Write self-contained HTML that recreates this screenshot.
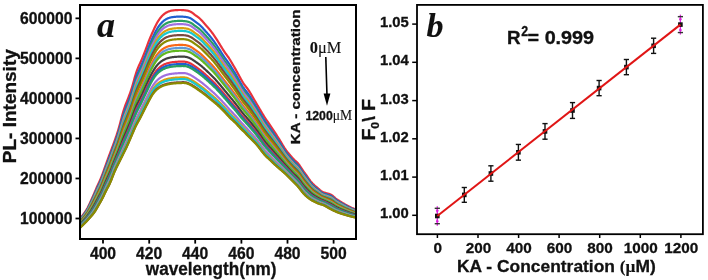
<!DOCTYPE html>
<html><head><meta charset="utf-8"><style>
html,body{margin:0;padding:0;background:#fff;}
body{width:708px;height:280px;overflow:hidden;}
svg{display:block;}
#w{will-change:transform;width:708px;height:280px;}
text{font-family:"Liberation Sans",sans-serif;font-weight:bold;fill:#111;stroke:#111;stroke-width:0.3px;}
.serif{stroke-width:0.1px;}
.tl{font-size:15.7px;}
.tr{font-size:14.8px;}
.tr2{font-size:15.3px;}
.serif{font-family:"Liberation Serif",serif;}
</style></head><body>
<div id="w"><svg width="708" height="280" viewBox="0 0 708 280">
<rect width="708" height="280" fill="#fff"/>
<defs><clipPath id="cl"><rect x="81" y="6" width="274" height="232"/></clipPath></defs>
<g clip-path="url(#cl)" fill="none" stroke-width="2.2" stroke-linejoin="round">
<path d="M79.0,218.80 L79.5,218.33 L80.0,217.86 L80.5,217.39 L81.0,216.92 L81.5,216.45 L82.0,215.94 L82.5,215.40 L83.0,214.81 L83.5,214.17 L84.0,213.50 L84.5,212.80 L85.0,212.07 L85.5,211.32 L86.0,210.55 L86.5,209.75 L87.0,208.92 L87.5,208.04 L88.0,207.10 L88.5,206.12 L89.0,205.08 L89.5,204.01 L90.0,202.90 L90.5,201.77 L91.0,200.64 L91.5,199.51 L92.0,198.39 L92.5,197.27 L93.0,196.14 L93.5,195.01 L94.0,193.86 L94.5,192.69 L95.0,191.50 L95.5,190.31 L96.0,189.12 L96.5,187.95 L97.0,186.80 L97.5,185.69 L98.0,184.60 L98.5,183.54 L99.0,182.49 L99.5,181.42 L100.0,180.32 L100.5,179.17 L101.0,177.96 L101.5,176.71 L102.0,175.39 L102.5,174.04 L103.0,172.67 L103.5,171.27 L104.0,169.87 L104.5,168.46 L105.0,167.06 L105.5,165.66 L106.0,164.26 L106.5,162.87 L107.0,161.48 L107.5,160.09 L108.0,158.72 L108.5,157.36 L109.0,156.00 L109.5,154.66 L110.0,153.32 L110.5,151.98 L111.0,150.64 L111.5,149.30 L112.0,147.96 L112.5,146.61 L113.0,145.27 L113.5,143.92 L114.0,142.56 L114.5,141.18 L115.0,139.80 L115.5,138.39 L116.0,136.95 L116.5,135.48 L117.0,133.96 L117.5,132.40 L118.0,130.78 L118.5,129.10 L119.0,127.35 L119.5,125.55 L120.0,123.69 L120.5,121.80 L121.0,119.90 L121.5,118.01 L122.0,116.15 L122.5,114.34 L123.0,112.59 L123.5,110.92 L124.0,109.33 L124.5,107.82 L125.0,106.37 L125.5,104.99 L126.0,103.66 L126.5,102.36 L127.0,101.09 L127.5,99.83 L128.0,98.58 L128.5,97.31 L129.0,96.02 L129.5,94.69 L130.0,93.32 L130.5,91.89 L131.0,90.40 L131.5,88.83 L132.0,87.20 L132.5,85.50 L133.0,83.75 L133.5,81.97 L134.0,80.18 L134.5,78.40 L135.0,76.66 L135.5,74.98 L136.0,73.37 L136.5,71.86 L137.0,70.44 L137.5,69.11 L138.0,67.86 L138.5,66.68 L139.0,65.55 L139.5,64.45 L140.0,63.36 L140.5,62.27 L141.0,61.17 L141.5,60.04 L142.0,58.89 L142.5,57.71 L143.0,56.50 L143.5,55.27 L144.0,54.01 L144.5,52.72 L145.0,51.42 L145.5,50.09 L146.0,48.75 L146.5,47.39 L147.0,46.02 L147.5,44.66 L148.0,43.31 L148.5,41.99 L149.0,40.69 L149.5,39.43 L150.0,38.20 L150.5,37.00 L151.0,35.84 L151.5,34.69 L152.0,33.56 L152.5,32.44 L153.0,31.33 L153.5,30.22 L154.0,29.13 L154.5,28.04 L155.0,26.98 L155.5,25.94 L156.0,24.94 L156.5,23.97 L157.0,23.05 L157.5,22.17 L158.0,21.34 L158.5,20.54 L159.0,19.80 L159.5,19.08 L160.0,18.41 L160.5,17.77 L161.0,17.16 L161.5,16.59 L162.0,16.04 L162.5,15.52 L163.0,15.03 L163.5,14.58 L164.0,14.15 L164.5,13.76 L165.0,13.40 L165.5,13.06 L166.0,12.76 L166.5,12.47 L167.0,12.21 L167.5,11.96 L168.0,11.74 L168.5,11.54 L169.0,11.36 L169.5,11.19 L170.0,11.04 L170.5,10.91 L171.0,10.79 L171.5,10.69 L172.0,10.59 L172.5,10.50 L173.0,10.43 L173.5,10.36 L174.0,10.30 L174.5,10.25 L175.0,10.20 L175.5,10.16 L176.0,10.13 L176.5,10.10 L177.0,10.07 L177.5,10.05 L178.0,10.03 L178.5,10.02 L179.0,10.01 L179.5,10.00 L180.0,10.00 L180.5,10.01 L181.0,10.02 L181.5,10.04 L182.0,10.06 L182.5,10.09 L183.0,10.12 L183.5,10.16 L184.0,10.20 L184.5,10.25 L185.0,10.30 L185.5,10.36 L186.0,10.43 L186.5,10.50 L187.0,10.59 L187.5,10.69 L188.0,10.80 L188.5,10.93 L189.0,11.07 L189.5,11.25 L190.0,11.45 L190.5,11.68 L191.0,11.95 L191.5,12.26 L192.0,12.59 L192.5,12.95 L193.0,13.34 L193.5,13.73 L194.0,14.12 L194.5,14.51 L195.0,14.90 L195.5,15.27 L196.0,15.63 L196.5,15.99 L197.0,16.35 L197.5,16.71 L198.0,17.08 L198.5,17.46 L199.0,17.85 L199.5,18.27 L200.0,18.72 L200.5,19.19 L201.0,19.68 L201.5,20.21 L202.0,20.75 L202.5,21.31 L203.0,21.89 L203.5,22.47 L204.0,23.06 L204.5,23.64 L205.0,24.22 L205.5,24.80 L206.0,25.37 L206.5,25.93 L207.0,26.50 L207.5,27.07 L208.0,27.64 L208.5,28.22 L209.0,28.81 L209.5,29.41 L210.0,30.02 L210.5,30.64 L211.0,31.28 L211.5,31.93 L212.0,32.59 L212.5,33.26 L213.0,33.95 L213.5,34.64 L214.0,35.36 L214.5,36.08 L215.0,36.82 L215.5,37.57 L216.0,38.33 L216.5,39.11 L217.0,39.89 L217.5,40.69 L218.0,41.49 L218.5,42.30 L219.0,43.11 L219.5,43.92 L220.0,44.74 L220.5,45.55 L221.0,46.36 L221.5,47.18 L222.0,47.99 L222.5,48.79 L223.0,49.58 L223.5,50.36 L224.0,51.13 L224.5,51.88 L225.0,52.60 L225.5,53.31 L226.0,54.00 L226.5,54.68 L227.0,55.36 L227.5,56.04 L228.0,56.74 L228.5,57.46 L229.0,58.21 L229.5,58.99 L230.0,59.79 L230.5,60.62 L231.0,61.46 L231.5,62.31 L232.0,63.16 L232.5,64.01 L233.0,64.86 L233.5,65.70 L234.0,66.56 L234.5,67.41 L235.0,68.28 L235.5,69.16 L236.0,70.05 L236.5,70.95 L237.0,71.86 L237.5,72.77 L238.0,73.69 L238.5,74.61 L239.0,75.53 L239.5,76.44 L240.0,77.36 L240.5,78.27 L241.0,79.18 L241.5,80.08 L242.0,80.96 L242.5,81.81 L243.0,82.63 L243.5,83.41 L244.0,84.14 L244.5,84.83 L245.0,85.49 L245.5,86.13 L246.0,86.75 L246.5,87.38 L247.0,88.02 L247.5,88.68 L248.0,89.37 L248.5,90.10 L249.0,90.86 L249.5,91.65 L250.0,92.47 L250.5,93.31 L251.0,94.16 L251.5,95.03 L252.0,95.90 L252.5,96.76 L253.0,97.63 L253.5,98.49 L254.0,99.34 L254.5,100.20 L255.0,101.05 L255.5,101.90 L256.0,102.74 L256.5,103.59 L257.0,104.44 L257.5,105.29 L258.0,106.14 L258.5,106.99 L259.0,107.85 L259.5,108.70 L260.0,109.56 L260.5,110.42 L261.0,111.27 L261.5,112.12 L262.0,112.96 L262.5,113.79 L263.0,114.61 L263.5,115.41 L264.0,116.21 L264.5,116.99 L265.0,117.76 L265.5,118.52 L266.0,119.27 L266.5,120.01 L267.0,120.75 L267.5,121.49 L268.0,122.22 L268.5,122.96 L269.0,123.70 L269.5,124.43 L270.0,125.17 L270.5,125.91 L271.0,126.65 L271.5,127.39 L272.0,128.13 L272.5,128.88 L273.0,129.62 L273.5,130.37 L274.0,131.12 L274.5,131.88 L275.0,132.64 L275.5,133.41 L276.0,134.18 L276.5,134.95 L277.0,135.73 L277.5,136.51 L278.0,137.30 L278.5,138.09 L279.0,138.89 L279.5,139.70 L280.0,140.51 L280.5,141.34 L281.0,142.17 L281.5,143.02 L282.0,143.87 L282.5,144.71 L283.0,145.56 L283.5,146.38 L284.0,147.19 L284.5,147.97 L285.0,148.73 L285.5,149.45 L286.0,150.15 L286.5,150.82 L287.0,151.47 L287.5,152.10 L288.0,152.71 L288.5,153.31 L289.0,153.91 L289.5,154.50 L290.0,155.08 L290.5,155.66 L291.0,156.23 L291.5,156.80 L292.0,157.37 L292.5,157.92 L293.0,158.46 L293.5,158.99 L294.0,159.50 L294.5,160.00 L295.0,160.47 L295.5,160.94 L296.0,161.39 L296.5,161.85 L297.0,162.32 L297.5,162.82 L298.0,163.36 L298.5,163.95 L299.0,164.58 L299.5,165.27 L300.0,166.00 L300.5,166.76 L301.0,167.52 L301.5,168.30 L302.0,169.06 L302.5,169.82 L303.0,170.56 L303.5,171.29 L304.0,172.01 L304.5,172.71 L305.0,173.40 L305.5,174.09 L306.0,174.77 L306.5,175.46 L307.0,176.16 L307.5,176.87 L308.0,177.59 L308.5,178.30 L309.0,179.02 L309.5,179.72 L310.0,180.41 L310.5,181.07 L311.0,181.70 L311.5,182.29 L312.0,182.86 L312.5,183.40 L313.0,183.92 L313.5,184.42 L314.0,184.89 L314.5,185.35 L315.0,185.79 L315.5,186.22 L316.0,186.64 L316.5,187.05 L317.0,187.46 L317.5,187.87 L318.0,188.29 L318.5,188.72 L319.0,189.15 L319.5,189.59 L320.0,190.02 L320.5,190.43 L321.0,190.82 L321.5,191.17 L322.0,191.49 L322.5,191.78 L323.0,192.03 L323.5,192.25 L324.0,192.45 L324.5,192.62 L325.0,192.78 L325.5,192.92 L326.0,193.06 L326.5,193.19 L327.0,193.32 L327.5,193.45 L328.0,193.59 L328.5,193.74 L329.0,193.90 L329.5,194.07 L330.0,194.26 L330.5,194.48 L331.0,194.73 L331.5,195.01 L332.0,195.34 L332.5,195.70 L333.0,196.11 L333.5,196.54 L334.0,196.99 L334.5,197.44 L335.0,197.88 L335.5,198.30 L336.0,198.70 L336.5,199.07 L337.0,199.43 L337.5,199.76 L338.0,200.09 L338.5,200.41 L339.0,200.73 L339.5,201.04 L340.0,201.35 L340.5,201.65 L341.0,201.96 L341.5,202.26 L342.0,202.57 L342.5,202.87 L343.0,203.16 L343.5,203.46 L344.0,203.75 L344.5,204.04 L345.0,204.33 L345.5,204.61 L346.0,204.89 L346.5,205.17 L347.0,205.45 L347.5,205.72 L348.0,205.99 L348.5,206.25 L349.0,206.51 L349.5,206.76 L350.0,207.01 L350.5,207.25 L351.0,207.48 L351.5,207.72 L352.0,207.94 L352.5,208.16 L353.0,208.38 L353.5,208.60 L354.0,208.81 L354.5,209.01 L355.0,209.21 L355.5,209.40 L356.0,209.58 L356.5,209.75 L357.0,209.89" stroke="#e8323a"/>
<path d="M79.0,219.69 L79.5,219.23 L80.0,218.76 L80.5,218.29 L81.0,217.83 L81.5,217.35 L82.0,216.85 L82.5,216.31 L83.0,215.73 L83.5,215.10 L84.0,214.44 L84.5,213.76 L85.0,213.05 L85.5,212.33 L86.0,211.58 L86.5,210.81 L87.0,210.00 L87.5,209.15 L88.0,208.25 L88.5,207.31 L89.0,206.31 L89.5,205.28 L90.0,204.22 L90.5,203.15 L91.0,202.07 L91.5,200.99 L92.0,199.92 L92.5,198.84 L93.0,197.77 L93.5,196.67 L94.0,195.57 L94.5,194.44 L95.0,193.29 L95.5,192.14 L96.0,190.98 L96.5,189.84 L97.0,188.72 L97.5,187.63 L98.0,186.57 L98.5,185.52 L99.0,184.48 L99.5,183.43 L100.0,182.35 L100.5,181.23 L101.0,180.05 L101.5,178.83 L102.0,177.55 L102.5,176.24 L103.0,174.89 L103.5,173.53 L104.0,172.16 L104.5,170.79 L105.0,169.41 L105.5,168.04 L106.0,166.67 L106.5,165.32 L107.0,163.97 L107.5,162.63 L108.0,161.29 L108.5,159.97 L109.0,158.65 L109.5,157.33 L110.0,156.01 L110.5,154.69 L111.0,153.36 L111.5,152.03 L112.0,150.70 L112.5,149.36 L113.0,148.01 L113.5,146.67 L114.0,145.32 L114.5,143.96 L115.0,142.60 L115.5,141.22 L116.0,139.81 L116.5,138.38 L117.0,136.91 L117.5,135.40 L118.0,133.83 L118.5,132.21 L119.0,130.54 L119.5,128.80 L120.0,127.03 L120.5,125.22 L121.0,123.40 L121.5,121.59 L122.0,119.80 L122.5,118.07 L123.0,116.39 L123.5,114.78 L124.0,113.24 L124.5,111.78 L125.0,110.37 L125.5,109.02 L126.0,107.72 L126.5,106.44 L127.0,105.19 L127.5,103.94 L128.0,102.70 L128.5,101.44 L129.0,100.16 L129.5,98.85 L130.0,97.50 L130.5,96.09 L131.0,94.63 L131.5,93.10 L132.0,91.50 L132.5,89.85 L133.0,88.16 L133.5,86.43 L134.0,84.70 L134.5,82.98 L135.0,81.29 L135.5,79.67 L136.0,78.12 L136.5,76.65 L137.0,75.27 L137.5,73.98 L138.0,72.76 L138.5,71.61 L139.0,70.50 L139.5,69.41 L140.0,68.34 L140.5,67.27 L141.0,66.18 L141.5,65.06 L142.0,63.92 L142.5,62.76 L143.0,61.57 L143.5,60.36 L144.0,59.12 L144.5,57.86 L145.0,56.59 L145.5,55.29 L146.0,53.98 L146.5,52.65 L147.0,51.32 L147.5,49.99 L148.0,48.68 L148.5,47.39 L149.0,46.12 L149.5,44.89 L150.0,43.69 L150.5,42.52 L151.0,41.38 L151.5,40.26 L152.0,39.16 L152.5,38.07 L153.0,36.99 L153.5,35.92 L154.0,34.87 L154.5,33.82 L155.0,32.80 L155.5,31.81 L156.0,30.85 L156.5,29.93 L157.0,29.05 L157.5,28.21 L158.0,27.42 L158.5,26.67 L159.0,25.96 L159.5,25.28 L160.0,24.64 L160.5,24.03 L161.0,23.46 L161.5,22.91 L162.0,22.39 L162.5,21.90 L163.0,21.44 L163.5,21.00 L164.0,20.60 L164.5,20.23 L165.0,19.89 L165.5,19.57 L166.0,19.27 L166.5,19.00 L167.0,18.75 L167.5,18.52 L168.0,18.31 L168.5,18.11 L169.0,17.94 L169.5,17.78 L170.0,17.64 L170.5,17.51 L171.0,17.40 L171.5,17.29 L172.0,17.20 L172.5,17.12 L173.0,17.04 L173.5,16.97 L174.0,16.91 L174.5,16.86 L175.0,16.82 L175.5,16.78 L176.0,16.74 L176.5,16.71 L177.0,16.68 L177.5,16.66 L178.0,16.64 L178.5,16.63 L179.0,16.62 L179.5,16.61 L180.0,16.61 L180.5,16.61 L181.0,16.62 L181.5,16.63 L182.0,16.65 L182.5,16.68 L183.0,16.71 L183.5,16.74 L184.0,16.78 L184.5,16.83 L185.0,16.88 L185.5,16.94 L186.0,17.01 L186.5,17.09 L187.0,17.18 L187.5,17.29 L188.0,17.41 L188.5,17.54 L189.0,17.70 L189.5,17.87 L190.0,18.08 L190.5,18.31 L191.0,18.58 L191.5,18.88 L192.0,19.21 L192.5,19.57 L193.0,19.94 L193.5,20.33 L194.0,20.72 L194.5,21.10 L195.0,21.48 L195.5,21.85 L196.0,22.21 L196.5,22.57 L197.0,22.92 L197.5,23.28 L198.0,23.65 L198.5,24.02 L199.0,24.42 L199.5,24.83 L200.0,25.26 L200.5,25.72 L201.0,26.21 L201.5,26.72 L202.0,27.25 L202.5,27.79 L203.0,28.35 L203.5,28.91 L204.0,29.48 L204.5,30.04 L205.0,30.60 L205.5,31.16 L206.0,31.72 L206.5,32.27 L207.0,32.82 L207.5,33.38 L208.0,33.94 L208.5,34.50 L209.0,35.08 L209.5,35.66 L210.0,36.25 L210.5,36.85 L211.0,37.47 L211.5,38.10 L212.0,38.73 L212.5,39.38 L213.0,40.04 L213.5,40.71 L214.0,41.40 L214.5,42.09 L215.0,42.80 L215.5,43.52 L216.0,44.25 L216.5,45.00 L217.0,45.76 L217.5,46.52 L218.0,47.29 L218.5,48.07 L219.0,48.85 L219.5,49.63 L220.0,50.41 L220.5,51.19 L221.0,51.98 L221.5,52.76 L222.0,53.54 L222.5,54.32 L223.0,55.08 L223.5,55.84 L224.0,56.58 L224.5,57.31 L225.0,58.02 L225.5,58.71 L226.0,59.39 L226.5,60.06 L227.0,60.72 L227.5,61.40 L228.0,62.08 L228.5,62.78 L229.0,63.51 L229.5,64.27 L230.0,65.04 L230.5,65.84 L231.0,66.65 L231.5,67.46 L232.0,68.28 L232.5,69.09 L233.0,69.91 L233.5,70.72 L234.0,71.53 L234.5,72.36 L235.0,73.19 L235.5,74.03 L236.0,74.89 L236.5,75.76 L237.0,76.63 L237.5,77.51 L238.0,78.39 L238.5,79.28 L239.0,80.16 L239.5,81.05 L240.0,81.93 L240.5,82.81 L241.0,83.68 L241.5,84.54 L242.0,85.38 L242.5,86.20 L243.0,86.99 L243.5,87.74 L244.0,88.45 L244.5,89.13 L245.0,89.77 L245.5,90.40 L246.0,91.01 L246.5,91.63 L247.0,92.26 L247.5,92.91 L248.0,93.58 L248.5,94.29 L249.0,95.03 L249.5,95.79 L250.0,96.58 L250.5,97.39 L251.0,98.22 L251.5,99.05 L252.0,99.88 L252.5,100.71 L253.0,101.55 L253.5,102.37 L254.0,103.20 L254.5,104.02 L255.0,104.84 L255.5,105.66 L256.0,106.48 L256.5,107.30 L257.0,108.13 L257.5,108.95 L258.0,109.78 L258.5,110.62 L259.0,111.45 L259.5,112.29 L260.0,113.13 L260.5,113.96 L261.0,114.80 L261.5,115.63 L262.0,116.45 L262.5,117.27 L263.0,118.07 L263.5,118.86 L264.0,119.64 L264.5,120.40 L265.0,121.15 L265.5,121.89 L266.0,122.62 L266.5,123.34 L267.0,124.06 L267.5,124.77 L268.0,125.48 L268.5,126.19 L269.0,126.90 L269.5,127.61 L270.0,128.32 L270.5,129.04 L271.0,129.76 L271.5,130.47 L272.0,131.19 L272.5,131.91 L273.0,132.64 L273.5,133.36 L274.0,134.09 L274.5,134.82 L275.0,135.55 L275.5,136.29 L276.0,137.03 L276.5,137.77 L277.0,138.52 L277.5,139.27 L278.0,140.03 L278.5,140.79 L279.0,141.55 L279.5,142.33 L280.0,143.11 L280.5,143.90 L281.0,144.70 L281.5,145.50 L282.0,146.32 L282.5,147.13 L283.0,147.93 L283.5,148.72 L284.0,149.50 L284.5,150.25 L285.0,150.97 L285.5,151.68 L286.0,152.35 L286.5,153.00 L287.0,153.64 L287.5,154.26 L288.0,154.86 L288.5,155.45 L289.0,156.04 L289.5,156.62 L290.0,157.20 L290.5,157.77 L291.0,158.34 L291.5,158.90 L292.0,159.46 L292.5,160.00 L293.0,160.54 L293.5,161.07 L294.0,161.58 L294.5,162.08 L295.0,162.56 L295.5,163.02 L296.0,163.48 L296.5,163.95 L297.0,164.42 L297.5,164.92 L298.0,165.47 L298.5,166.05 L299.0,166.69 L299.5,167.37 L300.0,168.09 L300.5,168.84 L301.0,169.60 L301.5,170.36 L302.0,171.11 L302.5,171.86 L303.0,172.59 L303.5,173.30 L304.0,174.00 L304.5,174.69 L305.0,175.36 L305.5,176.03 L306.0,176.70 L306.5,177.37 L307.0,178.04 L307.5,178.72 L308.0,179.41 L308.5,180.10 L309.0,180.78 L309.5,181.45 L310.0,182.10 L310.5,182.73 L311.0,183.34 L311.5,183.91 L312.0,184.45 L312.5,184.97 L313.0,185.46 L313.5,185.94 L314.0,186.39 L314.5,186.83 L315.0,187.26 L315.5,187.67 L316.0,188.07 L316.5,188.47 L317.0,188.86 L317.5,189.26 L318.0,189.65 L318.5,190.06 L319.0,190.47 L319.5,190.89 L320.0,191.29 L320.5,191.68 L321.0,192.05 L321.5,192.38 L322.0,192.69 L322.5,192.96 L323.0,193.20 L323.5,193.42 L324.0,193.62 L324.5,193.80 L325.0,193.96 L325.5,194.12 L326.0,194.27 L326.5,194.41 L327.0,194.56 L327.5,194.71 L328.0,194.86 L328.5,195.02 L329.0,195.19 L329.5,195.38 L330.0,195.58 L330.5,195.80 L331.0,196.05 L331.5,196.33 L332.0,196.65 L332.5,197.00 L333.0,197.39 L333.5,197.81 L334.0,198.24 L334.5,198.67 L335.0,199.09 L335.5,199.49 L336.0,199.87 L336.5,200.23 L337.0,200.57 L337.5,200.90 L338.0,201.22 L338.5,201.52 L339.0,201.83 L339.5,202.13 L340.0,202.42 L340.5,202.72 L341.0,203.01 L341.5,203.30 L342.0,203.59 L342.5,203.88 L343.0,204.16 L343.5,204.44 L344.0,204.72 L344.5,205.00 L345.0,205.28 L345.5,205.55 L346.0,205.82 L346.5,206.08 L347.0,206.35 L347.5,206.61 L348.0,206.87 L348.5,207.12 L349.0,207.37 L349.5,207.61 L350.0,207.84 L350.5,208.08 L351.0,208.30 L351.5,208.52 L352.0,208.74 L352.5,208.95 L353.0,209.16 L353.5,209.36 L354.0,209.56 L354.5,209.76 L355.0,209.95 L355.5,210.13 L356.0,210.30 L356.5,210.46 L357.0,210.60" stroke="#1f5fd0"/>
<path d="M79.0,220.27 L79.5,219.81 L80.0,219.35 L80.5,218.88 L81.0,218.42 L81.5,217.94 L82.0,217.44 L82.5,216.90 L83.0,216.32 L83.5,215.71 L84.0,215.06 L84.5,214.39 L85.0,213.69 L85.5,212.98 L86.0,212.25 L86.5,211.49 L87.0,210.70 L87.5,209.87 L88.0,209.00 L88.5,208.08 L89.0,207.12 L89.5,206.12 L90.0,205.09 L90.5,204.05 L91.0,203.00 L91.5,201.96 L92.0,200.91 L92.5,199.87 L93.0,198.82 L93.5,197.76 L94.0,196.68 L94.5,195.58 L95.0,194.46 L95.5,193.33 L96.0,192.20 L96.5,191.08 L97.0,189.97 L97.5,188.90 L98.0,187.85 L98.5,186.81 L99.0,185.78 L99.5,184.74 L100.0,183.68 L100.5,182.57 L101.0,181.41 L101.5,180.21 L102.0,178.96 L102.5,177.67 L103.0,176.35 L103.5,175.01 L104.0,173.66 L104.5,172.30 L105.0,170.94 L105.5,169.59 L106.0,168.25 L106.5,166.91 L107.0,165.59 L107.5,164.28 L108.0,162.97 L108.5,161.67 L109.0,160.37 L109.5,159.07 L110.0,157.77 L110.5,156.46 L111.0,155.14 L111.5,153.81 L112.0,152.48 L112.5,151.14 L113.0,149.80 L113.5,148.46 L114.0,147.12 L114.5,145.77 L115.0,144.42 L115.5,143.06 L116.0,141.68 L116.5,140.27 L117.0,138.83 L117.5,137.35 L118.0,135.83 L118.5,134.24 L119.0,132.61 L119.5,130.93 L120.0,129.20 L120.5,127.45 L121.0,125.68 L121.5,123.92 L122.0,122.19 L122.5,120.50 L123.0,118.86 L123.5,117.29 L124.0,115.79 L124.5,114.35 L125.0,112.98 L125.5,111.65 L126.0,110.36 L126.5,109.10 L127.0,107.86 L127.5,106.62 L128.0,105.38 L128.5,104.13 L129.0,102.86 L129.5,101.56 L130.0,100.22 L130.5,98.83 L131.0,97.38 L131.5,95.87 L132.0,94.31 L132.5,92.69 L133.0,91.03 L133.5,89.34 L134.0,87.64 L134.5,85.96 L135.0,84.31 L135.5,82.72 L136.0,81.21 L136.5,79.77 L137.0,78.42 L137.5,77.15 L138.0,75.96 L138.5,74.82 L139.0,73.72 L139.5,72.65 L140.0,71.59 L140.5,70.52 L141.0,69.44 L141.5,68.33 L142.0,67.21 L142.5,66.05 L143.0,64.87 L143.5,63.67 L144.0,62.45 L144.5,61.21 L145.0,59.95 L145.5,58.68 L146.0,57.38 L146.5,56.08 L147.0,54.77 L147.5,53.47 L148.0,52.18 L148.5,50.91 L149.0,49.66 L149.5,48.45 L150.0,47.27 L150.5,46.11 L151.0,44.99 L151.5,43.89 L152.0,42.80 L152.5,41.74 L153.0,40.68 L153.5,39.64 L154.0,38.60 L154.5,37.59 L155.0,36.60 L155.5,35.63 L156.0,34.70 L156.5,33.81 L157.0,32.96 L157.5,32.15 L158.0,31.38 L158.5,30.66 L159.0,29.97 L159.5,29.32 L160.0,28.70 L160.5,28.11 L161.0,27.56 L161.5,27.03 L162.0,26.53 L162.5,26.05 L163.0,25.61 L163.5,25.19 L164.0,24.80 L164.5,24.44 L165.0,24.11 L165.5,23.80 L166.0,23.52 L166.5,23.26 L167.0,23.02 L167.5,22.79 L168.0,22.59 L168.5,22.40 L169.0,22.23 L169.5,22.07 L170.0,21.94 L170.5,21.81 L171.0,21.70 L171.5,21.60 L172.0,21.51 L172.5,21.42 L173.0,21.35 L173.5,21.28 L174.0,21.22 L174.5,21.17 L175.0,21.13 L175.5,21.09 L176.0,21.05 L176.5,21.02 L177.0,20.99 L177.5,20.97 L178.0,20.95 L178.5,20.93 L179.0,20.92 L179.5,20.91 L180.0,20.91 L180.5,20.91 L181.0,20.92 L181.5,20.93 L182.0,20.95 L182.5,20.97 L183.0,21.00 L183.5,21.03 L184.0,21.07 L184.5,21.12 L185.0,21.17 L185.5,21.23 L186.0,21.30 L186.5,21.38 L187.0,21.48 L187.5,21.59 L188.0,21.71 L188.5,21.85 L189.0,22.01 L189.5,22.19 L190.0,22.40 L190.5,22.63 L191.0,22.90 L191.5,23.20 L192.0,23.53 L192.5,23.88 L193.0,24.25 L193.5,24.63 L194.0,25.01 L194.5,25.39 L195.0,25.76 L195.5,26.13 L196.0,26.49 L196.5,26.85 L197.0,27.20 L197.5,27.56 L198.0,27.93 L198.5,28.30 L199.0,28.69 L199.5,29.10 L200.0,29.53 L200.5,29.99 L201.0,30.46 L201.5,30.96 L202.0,31.48 L202.5,32.01 L203.0,32.55 L203.5,33.10 L204.0,33.66 L204.5,34.21 L205.0,34.76 L205.5,35.31 L206.0,35.85 L206.5,36.40 L207.0,36.94 L207.5,37.49 L208.0,38.04 L208.5,38.59 L209.0,39.16 L209.5,39.73 L210.0,40.31 L210.5,40.90 L211.0,41.50 L211.5,42.11 L212.0,42.74 L212.5,43.37 L213.0,44.01 L213.5,44.67 L214.0,45.33 L214.5,46.01 L215.0,46.70 L215.5,47.40 L216.0,48.11 L216.5,48.84 L217.0,49.57 L217.5,50.32 L218.0,51.07 L218.5,51.83 L219.0,52.58 L219.5,53.34 L220.0,54.11 L220.5,54.87 L221.0,55.63 L221.5,56.40 L222.0,57.16 L222.5,57.92 L223.0,58.67 L223.5,59.41 L224.0,60.14 L224.5,60.85 L225.0,61.55 L225.5,62.23 L226.0,62.90 L226.5,63.56 L227.0,64.22 L227.5,64.88 L228.0,65.56 L228.5,66.25 L229.0,66.97 L229.5,67.71 L230.0,68.47 L230.5,69.24 L231.0,70.03 L231.5,70.82 L232.0,71.62 L232.5,72.41 L233.0,73.20 L233.5,73.99 L234.0,74.78 L234.5,75.58 L235.0,76.39 L235.5,77.21 L236.0,78.04 L236.5,78.89 L237.0,79.74 L237.5,80.60 L238.0,81.46 L238.5,82.32 L239.0,83.19 L239.5,84.05 L240.0,84.91 L240.5,85.76 L241.0,86.61 L241.5,87.44 L242.0,88.26 L242.5,89.06 L243.0,89.83 L243.5,90.56 L244.0,91.26 L244.5,91.93 L245.0,92.56 L245.5,93.18 L246.0,93.79 L246.5,94.40 L247.0,95.02 L247.5,95.66 L248.0,96.33 L248.5,97.02 L249.0,97.74 L249.5,98.49 L250.0,99.26 L250.5,100.05 L251.0,100.86 L251.5,101.66 L252.0,102.48 L252.5,103.29 L253.0,104.10 L253.5,104.90 L254.0,105.71 L254.5,106.51 L255.0,107.31 L255.5,108.11 L256.0,108.91 L256.5,109.72 L257.0,110.53 L257.5,111.34 L258.0,112.16 L258.5,112.98 L259.0,113.80 L259.5,114.62 L260.0,115.45 L260.5,116.28 L261.0,117.10 L261.5,117.92 L262.0,118.73 L262.5,119.54 L263.0,120.33 L263.5,121.11 L264.0,121.87 L264.5,122.63 L265.0,123.36 L265.5,124.09 L266.0,124.81 L266.5,125.51 L267.0,126.21 L267.5,126.91 L268.0,127.60 L268.5,128.30 L269.0,128.99 L269.5,129.68 L270.0,130.38 L270.5,131.08 L271.0,131.78 L271.5,132.48 L272.0,133.19 L272.5,133.89 L273.0,134.60 L273.5,135.31 L274.0,136.02 L274.5,136.73 L275.0,137.45 L275.5,138.17 L276.0,138.89 L276.5,139.61 L277.0,140.34 L277.5,141.07 L278.0,141.81 L278.5,142.55 L279.0,143.29 L279.5,144.04 L280.0,144.80 L280.5,145.57 L281.0,146.34 L281.5,147.13 L282.0,147.91 L282.5,148.70 L283.0,149.48 L283.5,150.24 L284.0,151.00 L284.5,151.73 L285.0,152.44 L285.5,153.12 L286.0,153.79 L286.5,154.43 L287.0,155.05 L287.5,155.66 L288.0,156.26 L288.5,156.85 L289.0,157.43 L289.5,158.00 L290.0,158.57 L290.5,159.14 L291.0,159.71 L291.5,160.26 L292.0,160.82 L292.5,161.36 L293.0,161.90 L293.5,162.42 L294.0,162.93 L294.5,163.43 L295.0,163.91 L295.5,164.38 L296.0,164.84 L296.5,165.31 L297.0,165.79 L297.5,166.29 L298.0,166.84 L298.5,167.42 L299.0,168.06 L299.5,168.74 L300.0,169.45 L300.5,170.19 L301.0,170.95 L301.5,171.70 L302.0,172.45 L302.5,173.18 L303.0,173.90 L303.5,174.61 L304.0,175.30 L304.5,175.97 L305.0,176.64 L305.5,177.30 L306.0,177.95 L306.5,178.60 L307.0,179.26 L307.5,179.93 L308.0,180.59 L308.5,181.26 L309.0,181.93 L309.5,182.58 L310.0,183.21 L310.5,183.82 L311.0,184.40 L311.5,184.96 L312.0,185.49 L312.5,185.99 L313.0,186.47 L313.5,186.93 L314.0,187.37 L314.5,187.80 L315.0,188.21 L315.5,188.61 L316.0,189.01 L316.5,189.39 L317.0,189.77 L317.5,190.16 L318.0,190.54 L318.5,190.94 L319.0,191.33 L319.5,191.73 L320.0,192.12 L320.5,192.50 L321.0,192.85 L321.5,193.17 L322.0,193.46 L322.5,193.73 L323.0,193.97 L323.5,194.18 L324.0,194.38 L324.5,194.56 L325.0,194.74 L325.5,194.90 L326.0,195.06 L326.5,195.21 L327.0,195.37 L327.5,195.53 L328.0,195.69 L328.5,195.86 L329.0,196.04 L329.5,196.23 L330.0,196.43 L330.5,196.65 L331.0,196.90 L331.5,197.18 L332.0,197.50 L332.5,197.85 L333.0,198.23 L333.5,198.64 L334.0,199.05 L334.5,199.47 L335.0,199.88 L335.5,200.27 L336.0,200.64 L336.5,200.99 L337.0,201.32 L337.5,201.64 L338.0,201.95 L338.5,202.25 L339.0,202.54 L339.5,202.84 L340.0,203.12 L340.5,203.41 L341.0,203.70 L341.5,203.98 L342.0,204.26 L342.5,204.54 L343.0,204.81 L343.5,205.09 L344.0,205.36 L344.5,205.63 L345.0,205.89 L345.5,206.16 L346.0,206.42 L346.5,206.68 L347.0,206.94 L347.5,207.19 L348.0,207.44 L348.5,207.68 L349.0,207.93 L349.5,208.16 L350.0,208.39 L350.5,208.61 L351.0,208.83 L351.5,209.05 L352.0,209.26 L352.5,209.46 L353.0,209.67 L353.5,209.86 L354.0,210.06 L354.5,210.25 L355.0,210.43 L355.5,210.61 L356.0,210.78 L356.5,210.93 L357.0,211.07" stroke="#2aa060"/>
<path d="M79.0,220.70 L79.5,220.25 L80.0,219.79 L80.5,219.32 L81.0,218.85 L81.5,218.38 L82.0,217.87 L82.5,217.34 L83.0,216.77 L83.5,216.16 L84.0,215.52 L84.5,214.85 L85.0,214.17 L85.5,213.47 L86.0,212.75 L86.5,212.00 L87.0,211.23 L87.5,210.41 L88.0,209.56 L88.5,208.65 L89.0,207.71 L89.5,206.73 L90.0,205.73 L90.5,204.72 L91.0,203.70 L91.5,202.68 L92.0,201.66 L92.5,200.64 L93.0,199.61 L93.5,198.57 L94.0,197.51 L94.5,196.43 L95.0,195.33 L95.5,194.21 L96.0,193.10 L96.5,191.99 L97.0,190.91 L97.5,189.84 L98.0,188.80 L98.5,187.77 L99.0,186.75 L99.5,185.72 L100.0,184.66 L100.5,183.57 L101.0,182.43 L101.5,181.24 L102.0,180.00 L102.5,178.73 L103.0,177.43 L103.5,176.10 L104.0,174.77 L104.5,173.42 L105.0,172.08 L105.5,170.75 L106.0,169.42 L106.5,168.10 L107.0,166.80 L107.5,165.50 L108.0,164.22 L108.5,162.94 L109.0,161.65 L109.5,160.37 L110.0,159.08 L110.5,157.77 L111.0,156.46 L111.5,155.14 L112.0,153.81 L112.5,152.47 L113.0,151.14 L113.5,149.80 L114.0,148.46 L114.5,147.12 L115.0,145.78 L115.5,144.43 L116.0,143.07 L116.5,141.68 L117.0,140.26 L117.5,138.81 L118.0,137.31 L118.5,135.76 L119.0,134.16 L119.5,132.51 L120.0,130.82 L120.5,129.10 L121.0,127.37 L121.5,125.65 L122.0,123.96 L122.5,122.30 L123.0,120.70 L123.5,119.16 L124.0,117.69 L124.5,116.27 L125.0,114.91 L125.5,113.60 L126.0,112.33 L126.5,111.08 L127.0,109.84 L127.5,108.61 L128.0,107.38 L128.5,106.14 L129.0,104.87 L129.5,103.58 L130.0,102.24 L130.5,100.86 L131.0,99.43 L131.5,97.94 L132.0,96.40 L132.5,94.80 L133.0,93.16 L133.5,91.50 L134.0,89.83 L134.5,88.18 L135.0,86.56 L135.5,85.00 L136.0,83.50 L136.5,82.09 L137.0,80.76 L137.5,79.51 L138.0,78.33 L138.5,77.21 L139.0,76.12 L139.5,75.06 L140.0,74.00 L140.5,72.94 L141.0,71.87 L141.5,70.77 L142.0,69.65 L142.5,68.50 L143.0,67.33 L143.5,66.14 L144.0,64.93 L144.5,63.70 L145.0,62.46 L145.5,61.20 L146.0,59.92 L146.5,58.63 L147.0,57.34 L147.5,56.06 L148.0,54.78 L148.5,53.53 L149.0,52.30 L149.5,51.10 L150.0,49.93 L150.5,48.79 L151.0,47.68 L151.5,46.59 L152.0,45.52 L152.5,44.47 L153.0,43.43 L153.5,42.40 L154.0,41.39 L154.5,40.39 L155.0,39.42 L155.5,38.48 L156.0,37.57 L156.5,36.70 L157.0,35.87 L157.5,35.08 L158.0,34.33 L158.5,33.63 L159.0,32.96 L159.5,32.32 L160.0,31.72 L160.5,31.15 L161.0,30.61 L161.5,30.09 L162.0,29.61 L162.5,29.15 L163.0,28.71 L163.5,28.31 L164.0,27.93 L164.5,27.58 L165.0,27.26 L165.5,26.96 L166.0,26.68 L166.5,26.42 L167.0,26.19 L167.5,25.97 L168.0,25.77 L168.5,25.59 L169.0,25.42 L169.5,25.27 L170.0,25.13 L170.5,25.01 L171.0,24.90 L171.5,24.80 L172.0,24.71 L172.5,24.63 L173.0,24.56 L173.5,24.49 L174.0,24.43 L174.5,24.38 L175.0,24.33 L175.5,24.29 L176.0,24.26 L176.5,24.23 L177.0,24.20 L177.5,24.18 L178.0,24.16 L178.5,24.14 L179.0,24.13 L179.5,24.12 L180.0,24.11 L180.5,24.12 L181.0,24.12 L181.5,24.13 L182.0,24.15 L182.5,24.17 L183.0,24.20 L183.5,24.23 L184.0,24.26 L184.5,24.31 L185.0,24.36 L185.5,24.42 L186.0,24.49 L186.5,24.58 L187.0,24.67 L187.5,24.79 L188.0,24.91 L188.5,25.06 L189.0,25.22 L189.5,25.40 L190.0,25.61 L190.5,25.85 L191.0,26.12 L191.5,26.42 L192.0,26.74 L192.5,27.09 L193.0,27.45 L193.5,27.83 L194.0,28.21 L194.5,28.58 L195.0,28.96 L195.5,29.32 L196.0,29.68 L196.5,30.04 L197.0,30.39 L197.5,30.75 L198.0,31.11 L198.5,31.49 L199.0,31.87 L199.5,32.28 L200.0,32.71 L200.5,33.16 L201.0,33.63 L201.5,34.12 L202.0,34.62 L202.5,35.15 L203.0,35.68 L203.5,36.22 L204.0,36.77 L204.5,37.31 L205.0,37.86 L205.5,38.40 L206.0,38.93 L206.5,39.47 L207.0,40.01 L207.5,40.55 L208.0,41.09 L208.5,41.64 L209.0,42.19 L209.5,42.76 L210.0,43.33 L210.5,43.91 L211.0,44.50 L211.5,45.11 L212.0,45.72 L212.5,46.34 L213.0,46.97 L213.5,47.61 L214.0,48.26 L214.5,48.92 L215.0,49.60 L215.5,50.29 L216.0,50.99 L216.5,51.70 L217.0,52.42 L217.5,53.15 L218.0,53.88 L218.5,54.62 L219.0,55.36 L219.5,56.11 L220.0,56.86 L220.5,57.61 L221.0,58.36 L221.5,59.11 L222.0,59.85 L222.5,60.60 L223.0,61.34 L223.5,62.06 L224.0,62.78 L224.5,63.48 L225.0,64.17 L225.5,64.85 L226.0,65.51 L226.5,66.17 L227.0,66.82 L227.5,67.48 L228.0,68.15 L228.5,68.83 L229.0,69.54 L229.5,70.27 L230.0,71.01 L230.5,71.77 L231.0,72.55 L231.5,73.32 L232.0,74.10 L232.5,74.87 L233.0,75.64 L233.5,76.42 L234.0,77.19 L234.5,77.97 L235.0,78.77 L235.5,79.57 L236.0,80.39 L236.5,81.21 L237.0,82.05 L237.5,82.89 L238.0,83.74 L238.5,84.59 L239.0,85.43 L239.5,86.28 L240.0,87.12 L240.5,87.96 L241.0,88.79 L241.5,89.61 L242.0,90.41 L242.5,91.19 L243.0,91.94 L243.5,92.66 L244.0,93.35 L244.5,94.01 L245.0,94.64 L245.5,95.25 L246.0,95.86 L246.5,96.46 L247.0,97.08 L247.5,97.71 L248.0,98.37 L248.5,99.05 L249.0,99.76 L249.5,100.50 L250.0,101.26 L250.5,102.03 L251.0,102.82 L251.5,103.61 L252.0,104.41 L252.5,105.20 L253.0,106.00 L253.5,106.79 L254.0,107.58 L254.5,108.36 L255.0,109.15 L255.5,109.94 L256.0,110.73 L256.5,111.52 L257.0,112.32 L257.5,113.12 L258.0,113.92 L258.5,114.73 L259.0,115.54 L259.5,116.36 L260.0,117.18 L260.5,118.00 L261.0,118.81 L261.5,119.63 L262.0,120.43 L262.5,121.22 L263.0,122.01 L263.5,122.78 L264.0,123.54 L264.5,124.28 L265.0,125.01 L265.5,125.73 L266.0,126.43 L266.5,127.13 L267.0,127.82 L267.5,128.50 L268.0,129.18 L268.5,129.86 L269.0,130.54 L269.5,131.22 L270.0,131.91 L270.5,132.60 L271.0,133.28 L271.5,133.98 L272.0,134.67 L272.5,135.37 L273.0,136.06 L273.5,136.76 L274.0,137.46 L274.5,138.16 L275.0,138.86 L275.5,139.57 L276.0,140.27 L276.5,140.98 L277.0,141.69 L277.5,142.41 L278.0,143.13 L278.5,143.85 L279.0,144.58 L279.5,145.32 L280.0,146.06 L280.5,146.81 L281.0,147.57 L281.5,148.33 L282.0,149.10 L282.5,149.87 L283.0,150.63 L283.5,151.38 L284.0,152.11 L284.5,152.83 L285.0,153.53 L285.5,154.20 L286.0,154.85 L286.5,155.49 L287.0,156.11 L287.5,156.71 L288.0,157.30 L288.5,157.89 L289.0,158.46 L289.5,159.03 L290.0,159.60 L290.5,160.16 L291.0,160.73 L291.5,161.28 L292.0,161.83 L292.5,162.37 L293.0,162.91 L293.5,163.43 L294.0,163.94 L294.5,164.44 L295.0,164.92 L295.5,165.39 L296.0,165.86 L296.5,166.32 L297.0,166.81 L297.5,167.31 L298.0,167.86 L298.5,168.45 L299.0,169.08 L299.5,169.76 L300.0,170.47 L300.5,171.20 L301.0,171.95 L301.5,172.70 L302.0,173.44 L302.5,174.17 L303.0,174.88 L303.5,175.58 L304.0,176.27 L304.5,176.93 L305.0,177.59 L305.5,178.24 L306.0,178.88 L306.5,179.53 L307.0,180.17 L307.5,180.82 L308.0,181.48 L308.5,182.13 L309.0,182.78 L309.5,183.42 L310.0,184.03 L310.5,184.63 L311.0,185.20 L311.5,185.74 L312.0,186.26 L312.5,186.75 L313.0,187.22 L313.5,187.67 L314.0,188.10 L314.5,188.52 L315.0,188.92 L315.5,189.32 L316.0,189.70 L316.5,190.08 L317.0,190.45 L317.5,190.83 L318.0,191.20 L318.5,191.59 L319.0,191.97 L319.5,192.36 L320.0,192.74 L320.5,193.10 L321.0,193.44 L321.5,193.76 L322.0,194.04 L322.5,194.30 L323.0,194.54 L323.5,194.75 L324.0,194.95 L324.5,195.13 L325.0,195.31 L325.5,195.48 L326.0,195.65 L326.5,195.81 L327.0,195.97 L327.5,196.14 L328.0,196.31 L328.5,196.48 L329.0,196.67 L329.5,196.86 L330.0,197.07 L330.5,197.29 L331.0,197.54 L331.5,197.82 L332.0,198.13 L332.5,198.48 L333.0,198.85 L333.5,199.25 L334.0,199.66 L334.5,200.07 L335.0,200.46 L335.5,200.85 L336.0,201.21 L336.5,201.55 L337.0,201.88 L337.5,202.19 L338.0,202.49 L338.5,202.79 L339.0,203.08 L339.5,203.36 L340.0,203.65 L340.5,203.93 L341.0,204.21 L341.5,204.48 L342.0,204.76 L342.5,205.03 L343.0,205.30 L343.5,205.56 L344.0,205.83 L344.5,206.09 L345.0,206.35 L345.5,206.61 L346.0,206.87 L346.5,207.12 L347.0,207.37 L347.5,207.62 L348.0,207.87 L348.5,208.11 L349.0,208.34 L349.5,208.57 L350.0,208.80 L350.5,209.02 L351.0,209.23 L351.5,209.44 L352.0,209.64 L352.5,209.84 L353.0,210.04 L353.5,210.23 L354.0,210.42 L354.5,210.61 L355.0,210.79 L355.5,210.96 L356.0,211.13 L356.5,211.28 L357.0,211.41" stroke="#a070e0"/>
<path d="M79.0,221.24 L79.5,220.79 L80.0,220.33 L80.5,219.87 L81.0,219.40 L81.5,218.92 L82.0,218.42 L82.5,217.89 L83.0,217.32 L83.5,216.72 L84.0,216.09 L84.5,215.44 L85.0,214.76 L85.5,214.08 L86.0,213.37 L86.5,212.64 L87.0,211.88 L87.5,211.09 L88.0,210.25 L88.5,209.37 L89.0,208.46 L89.5,207.51 L90.0,206.54 L90.5,205.55 L91.0,204.56 L91.5,203.57 L92.0,202.59 L92.5,201.59 L93.0,200.59 L93.5,199.58 L94.0,198.54 L94.5,197.49 L95.0,196.41 L95.5,195.32 L96.0,194.23 L96.5,193.14 L97.0,192.07 L97.5,191.02 L98.0,189.99 L98.5,188.97 L99.0,187.96 L99.5,186.94 L100.0,185.90 L100.5,184.82 L101.0,183.69 L101.5,182.52 L102.0,181.31 L102.5,180.06 L103.0,178.78 L103.5,177.47 L104.0,176.16 L104.5,174.83 L105.0,173.51 L105.5,172.19 L106.0,170.88 L106.5,169.59 L107.0,168.31 L107.5,167.04 L108.0,165.78 L108.5,164.52 L109.0,163.26 L109.5,161.99 L110.0,160.71 L110.5,159.42 L111.0,158.11 L111.5,156.80 L112.0,155.47 L112.5,154.14 L113.0,152.80 L113.5,151.47 L114.0,150.14 L114.5,148.81 L115.0,147.48 L115.5,146.15 L116.0,144.80 L116.5,143.44 L117.0,142.05 L117.5,140.63 L118.0,139.16 L118.5,137.65 L119.0,136.09 L119.5,134.48 L120.0,132.84 L120.5,131.17 L121.0,129.49 L121.5,127.82 L122.0,126.17 L122.5,124.56 L123.0,123.00 L123.5,121.50 L124.0,120.06 L124.5,118.67 L125.0,117.34 L125.5,116.05 L126.0,114.79 L126.5,113.55 L127.0,112.32 L127.5,111.10 L128.0,109.88 L128.5,108.64 L129.0,107.38 L129.5,106.10 L130.0,104.78 L130.5,103.41 L131.0,102.00 L131.5,100.53 L132.0,99.01 L132.5,97.44 L133.0,95.83 L133.5,94.20 L134.0,92.57 L134.5,90.95 L135.0,89.37 L135.5,87.84 L136.0,86.38 L136.5,85.00 L137.0,83.69 L137.5,82.47 L138.0,81.30 L138.5,80.20 L139.0,79.12 L139.5,78.07 L140.0,77.02 L140.5,75.97 L141.0,74.90 L141.5,73.81 L142.0,72.70 L142.5,71.56 L143.0,70.41 L143.5,69.23 L144.0,68.03 L144.5,66.82 L145.0,65.59 L145.5,64.35 L146.0,63.09 L146.5,61.82 L147.0,60.56 L147.5,59.29 L148.0,58.04 L148.5,56.80 L149.0,55.59 L149.5,54.41 L150.0,53.25 L150.5,52.13 L151.0,51.03 L151.5,49.96 L152.0,48.91 L152.5,47.88 L153.0,46.86 L153.5,45.85 L154.0,44.87 L154.5,43.90 L155.0,42.95 L155.5,42.04 L156.0,41.15 L156.5,40.31 L157.0,39.51 L157.5,38.74 L158.0,38.02 L158.5,37.34 L159.0,36.69 L159.5,36.08 L160.0,35.50 L160.5,34.94 L161.0,34.42 L161.5,33.93 L162.0,33.46 L162.5,33.01 L163.0,32.59 L163.5,32.20 L164.0,31.84 L164.5,31.50 L165.0,31.19 L165.5,30.90 L166.0,30.63 L166.5,30.38 L167.0,30.15 L167.5,29.94 L168.0,29.75 L168.5,29.57 L169.0,29.41 L169.5,29.26 L170.0,29.13 L170.5,29.01 L171.0,28.90 L171.5,28.81 L172.0,28.72 L172.5,28.64 L173.0,28.56 L173.5,28.50 L174.0,28.44 L174.5,28.39 L175.0,28.34 L175.5,28.30 L176.0,28.27 L176.5,28.24 L177.0,28.21 L177.5,28.18 L178.0,28.16 L178.5,28.15 L179.0,28.13 L179.5,28.12 L180.0,28.12 L180.5,28.12 L181.0,28.12 L181.5,28.13 L182.0,28.15 L182.5,28.17 L183.0,28.19 L183.5,28.22 L184.0,28.25 L184.5,28.29 L185.0,28.35 L185.5,28.41 L186.0,28.48 L186.5,28.57 L187.0,28.67 L187.5,28.79 L188.0,28.92 L188.5,29.07 L189.0,29.23 L189.5,29.42 L190.0,29.63 L190.5,29.87 L191.0,30.14 L191.5,30.43 L192.0,30.76 L192.5,31.10 L193.0,31.46 L193.5,31.83 L194.0,32.20 L194.5,32.58 L195.0,32.94 L195.5,33.31 L196.0,33.66 L196.5,34.02 L197.0,34.37 L197.5,34.73 L198.0,35.09 L198.5,35.47 L199.0,35.85 L199.5,36.25 L200.0,36.68 L200.5,37.12 L201.0,37.58 L201.5,38.06 L202.0,38.56 L202.5,39.07 L203.0,39.60 L203.5,40.12 L204.0,40.66 L204.5,41.19 L205.0,41.72 L205.5,42.25 L206.0,42.78 L206.5,43.31 L207.0,43.84 L207.5,44.37 L208.0,44.91 L208.5,45.45 L209.0,45.99 L209.5,46.55 L210.0,47.11 L210.5,47.68 L211.0,48.26 L211.5,48.84 L212.0,49.44 L212.5,50.05 L213.0,50.66 L213.5,51.29 L214.0,51.92 L214.5,52.57 L215.0,53.22 L215.5,53.89 L216.0,54.58 L216.5,55.27 L217.0,55.97 L217.5,56.68 L218.0,57.40 L218.5,58.12 L219.0,58.84 L219.5,59.57 L220.0,60.30 L220.5,61.03 L221.0,61.76 L221.5,62.49 L222.0,63.22 L222.5,63.95 L223.0,64.67 L223.5,65.38 L224.0,66.09 L224.5,66.78 L225.0,67.46 L225.5,68.12 L226.0,68.78 L226.5,69.42 L227.0,70.07 L227.5,70.72 L228.0,71.38 L228.5,72.06 L229.0,72.75 L229.5,73.47 L230.0,74.20 L230.5,74.94 L231.0,75.69 L231.5,76.45 L232.0,77.20 L232.5,77.95 L233.0,78.71 L233.5,79.46 L234.0,80.21 L234.5,80.97 L235.0,81.74 L235.5,82.52 L236.0,83.32 L236.5,84.13 L237.0,84.94 L237.5,85.76 L238.0,86.59 L238.5,87.42 L239.0,88.24 L239.5,89.07 L240.0,89.89 L240.5,90.70 L241.0,91.51 L241.5,92.31 L242.0,93.09 L242.5,93.85 L243.0,94.58 L243.5,95.29 L244.0,95.96 L244.5,96.61 L245.0,97.23 L245.5,97.84 L246.0,98.44 L246.5,99.04 L247.0,99.65 L247.5,100.27 L248.0,100.92 L248.5,101.59 L249.0,102.29 L249.5,103.01 L250.0,103.75 L250.5,104.51 L251.0,105.28 L251.5,106.05 L252.0,106.82 L252.5,107.60 L253.0,108.37 L253.5,109.14 L254.0,109.91 L254.5,110.68 L255.0,111.45 L255.5,112.22 L256.0,112.99 L256.5,113.77 L257.0,114.55 L257.5,115.34 L258.0,116.13 L258.5,116.93 L259.0,117.73 L259.5,118.53 L260.0,119.34 L260.5,120.15 L261.0,120.95 L261.5,121.76 L262.0,122.55 L262.5,123.33 L263.0,124.11 L263.5,124.87 L264.0,125.62 L264.5,126.35 L265.0,127.07 L265.5,127.77 L266.0,128.47 L266.5,129.15 L267.0,129.82 L267.5,130.49 L268.0,131.16 L268.5,131.82 L269.0,132.48 L269.5,133.15 L270.0,133.82 L270.5,134.49 L271.0,135.17 L271.5,135.85 L272.0,136.53 L272.5,137.21 L273.0,137.89 L273.5,138.57 L274.0,139.26 L274.5,139.94 L275.0,140.63 L275.5,141.31 L276.0,142.00 L276.5,142.69 L277.0,143.39 L277.5,144.08 L278.0,144.78 L278.5,145.49 L279.0,146.20 L279.5,146.91 L280.0,147.64 L280.5,148.36 L281.0,149.10 L281.5,149.84 L282.0,150.58 L282.5,151.33 L283.0,152.07 L283.5,152.79 L284.0,153.51 L284.5,154.21 L285.0,154.89 L285.5,155.55 L286.0,156.19 L286.5,156.81 L287.0,157.42 L287.5,158.02 L288.0,158.60 L288.5,159.18 L289.0,159.75 L289.5,160.32 L290.0,160.88 L290.5,161.44 L291.0,162.00 L291.5,162.55 L292.0,163.10 L292.5,163.64 L293.0,164.17 L293.5,164.69 L294.0,165.20 L294.5,165.70 L295.0,166.18 L295.5,166.65 L296.0,167.12 L296.5,167.59 L297.0,168.08 L297.5,168.59 L298.0,169.13 L298.5,169.72 L299.0,170.36 L299.5,171.03 L300.0,171.74 L300.5,172.47 L301.0,173.21 L301.5,173.95 L302.0,174.68 L302.5,175.40 L303.0,176.11 L303.5,176.80 L304.0,177.47 L304.5,178.13 L305.0,178.78 L305.5,179.42 L306.0,180.05 L306.5,180.68 L307.0,181.31 L307.5,181.94 L308.0,182.58 L308.5,183.22 L309.0,183.85 L309.5,184.46 L310.0,185.06 L310.5,185.64 L311.0,186.19 L311.5,186.72 L312.0,187.22 L312.5,187.70 L313.0,188.15 L313.5,188.59 L314.0,189.01 L314.5,189.42 L315.0,189.81 L315.5,190.19 L316.0,190.57 L316.5,190.93 L317.0,191.30 L317.5,191.66 L318.0,192.03 L318.5,192.40 L319.0,192.78 L319.5,193.15 L320.0,193.51 L320.5,193.86 L321.0,194.19 L321.5,194.49 L322.0,194.77 L322.5,195.02 L323.0,195.25 L323.5,195.46 L324.0,195.66 L324.5,195.85 L325.0,196.03 L325.5,196.21 L326.0,196.38 L326.5,196.55 L327.0,196.73 L327.5,196.90 L328.0,197.08 L328.5,197.26 L329.0,197.45 L329.5,197.65 L330.0,197.86 L330.5,198.09 L331.0,198.34 L331.5,198.62 L332.0,198.93 L332.5,199.27 L333.0,199.63 L333.5,200.02 L334.0,200.42 L334.5,200.81 L335.0,201.20 L335.5,201.57 L336.0,201.92 L336.5,202.26 L337.0,202.58 L337.5,202.88 L338.0,203.18 L338.5,203.46 L339.0,203.75 L339.5,204.03 L340.0,204.30 L340.5,204.57 L341.0,204.84 L341.5,205.11 L342.0,205.38 L342.5,205.64 L343.0,205.90 L343.5,206.16 L344.0,206.42 L344.5,206.67 L345.0,206.93 L345.5,207.18 L346.0,207.43 L346.5,207.67 L347.0,207.92 L347.5,208.16 L348.0,208.40 L348.5,208.63 L349.0,208.86 L349.5,209.09 L350.0,209.30 L350.5,209.52 L351.0,209.73 L351.5,209.93 L352.0,210.13 L352.5,210.32 L353.0,210.51 L353.5,210.70 L354.0,210.88 L354.5,211.06 L355.0,211.24 L355.5,211.41 L356.0,211.56 L356.5,211.71 L357.0,211.84" stroke="#d8a010"/>
<path d="M79.0,221.61 L79.5,221.17 L80.0,220.72 L80.5,220.25 L81.0,219.79 L81.5,219.31 L82.0,218.81 L82.5,218.28 L83.0,217.71 L83.5,217.11 L84.0,216.49 L84.5,215.84 L85.0,215.18 L85.5,214.50 L86.0,213.81 L86.5,213.09 L87.0,212.34 L87.5,211.56 L88.0,210.74 L88.5,209.88 L89.0,208.98 L89.5,208.05 L90.0,207.10 L90.5,206.14 L91.0,205.17 L91.5,204.20 L92.0,203.23 L92.5,202.26 L93.0,201.28 L93.5,200.29 L94.0,199.27 L94.5,198.23 L95.0,197.17 L95.5,196.10 L96.0,195.02 L96.5,193.95 L97.0,192.89 L97.5,191.84 L98.0,190.82 L98.5,189.81 L99.0,188.81 L99.5,187.79 L100.0,186.76 L100.5,185.69 L101.0,184.58 L101.5,183.42 L102.0,182.23 L102.5,180.99 L103.0,179.72 L103.5,178.43 L104.0,177.13 L104.5,175.82 L105.0,174.50 L105.5,173.20 L106.0,171.91 L106.5,170.63 L107.0,169.36 L107.5,168.11 L108.0,166.87 L108.5,165.63 L109.0,164.38 L109.5,163.12 L110.0,161.85 L110.5,160.57 L111.0,159.27 L111.5,157.96 L112.0,156.63 L112.5,155.30 L113.0,153.97 L113.5,152.63 L114.0,151.31 L114.5,149.99 L115.0,148.67 L115.5,147.35 L116.0,146.02 L116.5,144.67 L117.0,143.30 L117.5,141.90 L118.0,140.46 L118.5,138.97 L119.0,137.44 L119.5,135.86 L120.0,134.25 L120.5,132.62 L121.0,130.98 L121.5,129.34 L122.0,127.73 L122.5,126.15 L123.0,124.62 L123.5,123.14 L124.0,121.72 L124.5,120.35 L125.0,119.03 L125.5,117.76 L126.0,116.51 L126.5,115.28 L127.0,114.06 L127.5,112.85 L128.0,111.63 L128.5,110.39 L129.0,109.14 L129.5,107.86 L130.0,106.55 L130.5,105.19 L131.0,103.79 L131.5,102.34 L132.0,100.83 L132.5,99.29 L133.0,97.70 L133.5,96.10 L134.0,94.49 L134.5,92.89 L135.0,91.33 L135.5,89.83 L136.0,88.39 L136.5,87.03 L137.0,85.74 L137.5,84.53 L138.0,83.38 L138.5,82.29 L139.0,81.22 L139.5,80.18 L140.0,79.14 L140.5,78.09 L141.0,77.03 L141.5,75.94 L142.0,74.84 L142.5,73.71 L143.0,72.56 L143.5,71.39 L144.0,70.20 L144.5,69.00 L145.0,67.78 L145.5,66.55 L146.0,65.31 L146.5,64.06 L147.0,62.80 L147.5,61.55 L148.0,60.31 L148.5,59.09 L149.0,57.90 L149.5,56.72 L150.0,55.58 L150.5,54.47 L151.0,53.39 L151.5,52.33 L152.0,51.29 L152.5,50.26 L153.0,49.26 L153.5,48.27 L154.0,47.30 L154.5,46.35 L155.0,45.42 L155.5,44.53 L156.0,43.66 L156.5,42.84 L157.0,42.05 L157.5,41.31 L158.0,40.60 L158.5,39.93 L159.0,39.30 L159.5,38.70 L160.0,38.14 L160.5,37.60 L161.0,37.09 L161.5,36.61 L162.0,36.15 L162.5,35.72 L163.0,35.31 L163.5,34.93 L164.0,34.57 L164.5,34.24 L165.0,33.94 L165.5,33.66 L166.0,33.40 L166.5,33.15 L167.0,32.93 L167.5,32.72 L168.0,32.53 L168.5,32.36 L169.0,32.20 L169.5,32.06 L170.0,31.93 L170.5,31.81 L171.0,31.70 L171.5,31.61 L172.0,31.52 L172.5,31.44 L173.0,31.37 L173.5,31.30 L174.0,31.25 L174.5,31.20 L175.0,31.15 L175.5,31.11 L176.0,31.07 L176.5,31.04 L177.0,31.01 L177.5,30.99 L178.0,30.97 L178.5,30.95 L179.0,30.94 L179.5,30.93 L180.0,30.92 L180.5,30.92 L181.0,30.92 L181.5,30.93 L182.0,30.95 L182.5,30.96 L183.0,30.98 L183.5,31.01 L184.0,31.05 L184.5,31.09 L185.0,31.14 L185.5,31.20 L186.0,31.27 L186.5,31.36 L187.0,31.47 L187.5,31.59 L188.0,31.72 L188.5,31.87 L189.0,32.04 L189.5,32.23 L190.0,32.45 L190.5,32.68 L191.0,32.95 L191.5,33.25 L192.0,33.57 L192.5,33.91 L193.0,34.26 L193.5,34.63 L194.0,35.00 L194.5,35.37 L195.0,35.74 L195.5,36.10 L196.0,36.45 L196.5,36.81 L197.0,37.16 L197.5,37.52 L198.0,37.88 L198.5,38.25 L199.0,38.64 L199.5,39.04 L200.0,39.46 L200.5,39.89 L201.0,40.35 L201.5,40.82 L202.0,41.32 L202.5,41.82 L203.0,42.33 L203.5,42.86 L204.0,43.38 L204.5,43.91 L205.0,44.43 L205.5,44.95 L206.0,45.48 L206.5,46.00 L207.0,46.52 L207.5,47.05 L208.0,47.58 L208.5,48.11 L209.0,48.65 L209.5,49.20 L210.0,49.75 L210.5,50.31 L211.0,50.88 L211.5,51.46 L212.0,52.05 L212.5,52.64 L213.0,53.25 L213.5,53.86 L214.0,54.48 L214.5,55.12 L215.0,55.76 L215.5,56.42 L216.0,57.09 L216.5,57.77 L217.0,58.46 L217.5,59.15 L218.0,59.86 L218.5,60.56 L219.0,61.27 L219.5,61.99 L220.0,62.70 L220.5,63.42 L221.0,64.14 L221.5,64.86 L222.0,65.58 L222.5,66.29 L223.0,67.00 L223.5,67.71 L224.0,68.40 L224.5,69.08 L225.0,69.75 L225.5,70.41 L226.0,71.06 L226.5,71.70 L227.0,72.35 L227.5,72.99 L228.0,73.65 L228.5,74.32 L229.0,75.00 L229.5,75.71 L230.0,76.43 L230.5,77.16 L231.0,77.89 L231.5,78.64 L232.0,79.38 L232.5,80.11 L233.0,80.85 L233.5,81.58 L234.0,82.32 L234.5,83.07 L235.0,83.82 L235.5,84.59 L236.0,85.37 L236.5,86.16 L237.0,86.97 L237.5,87.77 L238.0,88.59 L238.5,89.40 L239.0,90.21 L239.5,91.02 L240.0,91.83 L240.5,92.63 L241.0,93.42 L241.5,94.20 L242.0,94.96 L242.5,95.71 L243.0,96.43 L243.5,97.13 L244.0,97.79 L244.5,98.43 L245.0,99.05 L245.5,99.65 L246.0,100.24 L246.5,100.84 L247.0,101.45 L247.5,102.07 L248.0,102.71 L248.5,103.37 L249.0,104.06 L249.5,104.77 L250.0,105.50 L250.5,106.24 L251.0,106.99 L251.5,107.75 L252.0,108.51 L252.5,109.27 L253.0,110.03 L253.5,110.79 L254.0,111.54 L254.5,112.30 L255.0,113.05 L255.5,113.81 L256.0,114.57 L256.5,115.34 L257.0,116.11 L257.5,116.89 L258.0,117.67 L258.5,118.46 L259.0,119.26 L259.5,120.05 L260.0,120.85 L260.5,121.65 L261.0,122.45 L261.5,123.25 L262.0,124.03 L262.5,124.81 L263.0,125.58 L263.5,126.33 L264.0,127.07 L264.5,127.80 L265.0,128.51 L265.5,129.20 L266.0,129.89 L266.5,130.56 L267.0,131.23 L267.5,131.88 L268.0,132.54 L268.5,133.19 L269.0,133.84 L269.5,134.50 L270.0,135.16 L270.5,135.82 L271.0,136.49 L271.5,137.15 L272.0,137.82 L272.5,138.50 L273.0,139.17 L273.5,139.84 L274.0,140.51 L274.5,141.19 L275.0,141.86 L275.5,142.54 L276.0,143.21 L276.5,143.89 L277.0,144.57 L277.5,145.26 L278.0,145.94 L278.5,146.63 L279.0,147.33 L279.5,148.03 L280.0,148.74 L280.5,149.45 L281.0,150.17 L281.5,150.90 L282.0,151.62 L282.5,152.35 L283.0,153.07 L283.5,153.79 L284.0,154.49 L284.5,155.17 L285.0,155.84 L285.5,156.49 L286.0,157.12 L286.5,157.74 L287.0,158.34 L287.5,158.93 L288.0,159.52 L288.5,160.09 L289.0,160.66 L289.5,161.22 L290.0,161.78 L290.5,162.34 L291.0,162.89 L291.5,163.44 L292.0,163.99 L292.5,164.52 L293.0,165.05 L293.5,165.57 L294.0,166.08 L294.5,166.58 L295.0,167.06 L295.5,167.54 L296.0,168.01 L296.5,168.48 L297.0,168.97 L297.5,169.48 L298.0,170.03 L298.5,170.62 L299.0,171.25 L299.5,171.92 L300.0,172.62 L300.5,173.35 L301.0,174.09 L301.5,174.82 L302.0,175.55 L302.5,176.27 L303.0,176.97 L303.5,177.65 L304.0,178.32 L304.5,178.97 L305.0,179.61 L305.5,180.24 L306.0,180.86 L306.5,181.48 L307.0,182.11 L307.5,182.73 L308.0,183.35 L308.5,183.98 L309.0,184.59 L309.5,185.20 L310.0,185.78 L310.5,186.35 L311.0,186.89 L311.5,187.40 L312.0,187.90 L312.5,188.36 L313.0,188.81 L313.5,189.24 L314.0,189.65 L314.5,190.05 L315.0,190.43 L315.5,190.81 L316.0,191.18 L316.5,191.54 L317.0,191.89 L317.5,192.25 L318.0,192.61 L318.5,192.97 L319.0,193.34 L319.5,193.70 L320.0,194.05 L320.5,194.39 L321.0,194.71 L321.5,195.00 L322.0,195.27 L322.5,195.52 L323.0,195.74 L323.5,195.95 L324.0,196.15 L324.5,196.35 L325.0,196.53 L325.5,196.72 L326.0,196.90 L326.5,197.07 L327.0,197.25 L327.5,197.44 L328.0,197.62 L328.5,197.81 L329.0,198.00 L329.5,198.20 L330.0,198.42 L330.5,198.65 L331.0,198.90 L331.5,199.18 L332.0,199.48 L332.5,199.82 L333.0,200.18 L333.5,200.56 L334.0,200.95 L334.5,201.33 L335.0,201.71 L335.5,202.08 L336.0,202.42 L336.5,202.75 L337.0,203.06 L337.5,203.36 L338.0,203.65 L338.5,203.94 L339.0,204.21 L339.5,204.49 L340.0,204.76 L340.5,205.03 L341.0,205.29 L341.5,205.55 L342.0,205.81 L342.5,206.07 L343.0,206.33 L343.5,206.58 L344.0,206.83 L344.5,207.08 L345.0,207.33 L345.5,207.57 L346.0,207.82 L346.5,208.06 L347.0,208.30 L347.5,208.54 L348.0,208.77 L348.5,209.00 L349.0,209.23 L349.5,209.44 L350.0,209.66 L350.5,209.87 L351.0,210.07 L351.5,210.27 L352.0,210.46 L352.5,210.66 L353.0,210.84 L353.5,211.03 L354.0,211.21 L354.5,211.38 L355.0,211.55 L355.5,211.72 L356.0,211.87 L356.5,212.02 L357.0,212.14" stroke="#18c8d0"/>
<path d="M79.0,222.18 L79.5,221.74 L80.0,221.29 L80.5,220.83 L81.0,220.36 L81.5,219.88 L82.0,219.38 L82.5,218.85 L83.0,218.29 L83.5,217.70 L84.0,217.09 L84.5,216.46 L85.0,215.81 L85.5,215.14 L86.0,214.46 L86.5,213.76 L87.0,213.03 L87.5,212.27 L88.0,211.47 L88.5,210.63 L89.0,209.76 L89.5,208.86 L90.0,207.95 L90.5,207.02 L91.0,206.08 L91.5,205.15 L92.0,204.21 L92.5,203.27 L93.0,202.31 L93.5,201.35 L94.0,200.36 L94.5,199.34 L95.0,198.31 L95.5,197.26 L96.0,196.21 L96.5,195.15 L97.0,194.11 L97.5,193.08 L98.0,192.07 L98.5,191.07 L99.0,190.08 L99.5,189.08 L100.0,188.05 L100.5,187.00 L101.0,185.91 L101.5,184.78 L102.0,183.60 L102.5,182.39 L103.0,181.14 L103.5,179.87 L104.0,178.59 L104.5,177.29 L105.0,176.00 L105.5,174.72 L106.0,173.44 L106.5,172.19 L107.0,170.95 L107.5,169.72 L108.0,168.50 L108.5,167.29 L109.0,166.06 L109.5,164.82 L110.0,163.57 L110.5,162.30 L111.0,161.01 L111.5,159.70 L112.0,158.38 L112.5,157.05 L113.0,155.72 L113.5,154.39 L114.0,153.07 L114.5,151.75 L115.0,150.45 L115.5,149.15 L116.0,147.84 L116.5,146.52 L117.0,145.18 L117.5,143.81 L118.0,142.40 L118.5,140.95 L119.0,139.46 L119.5,137.94 L120.0,136.38 L120.5,134.79 L121.0,133.20 L121.5,131.62 L122.0,130.05 L122.5,128.52 L123.0,127.03 L123.5,125.59 L124.0,124.21 L124.5,122.87 L125.0,121.58 L125.5,120.32 L126.0,119.09 L126.5,117.87 L127.0,116.67 L127.5,115.46 L128.0,114.25 L128.5,113.02 L129.0,111.78 L129.5,110.51 L130.0,109.21 L130.5,107.87 L131.0,106.48 L131.5,105.05 L132.0,103.57 L132.5,102.06 L133.0,100.51 L133.5,98.94 L134.0,97.36 L134.5,95.81 L135.0,94.28 L135.5,92.81 L136.0,91.41 L136.5,90.08 L137.0,88.82 L137.5,87.63 L138.0,86.50 L138.5,85.42 L139.0,84.37 L139.5,83.34 L140.0,82.31 L140.5,81.27 L141.0,80.21 L141.5,79.14 L142.0,78.04 L142.5,76.92 L143.0,75.78 L143.5,74.63 L144.0,73.46 L144.5,72.27 L145.0,71.07 L145.5,69.86 L146.0,68.64 L146.5,67.41 L147.0,66.18 L147.5,64.95 L148.0,63.73 L148.5,62.53 L149.0,61.35 L149.5,60.20 L150.0,59.08 L150.5,57.98 L151.0,56.91 L151.5,55.87 L152.0,54.85 L152.5,53.85 L153.0,52.86 L153.5,51.90 L154.0,50.95 L154.5,50.03 L155.0,49.13 L155.5,48.26 L156.0,47.43 L156.5,46.63 L157.0,45.87 L157.5,45.15 L158.0,44.47 L158.5,43.83 L159.0,43.22 L159.5,42.65 L160.0,42.10 L160.5,41.59 L161.0,41.10 L161.5,40.63 L162.0,40.19 L162.5,39.78 L163.0,39.39 L163.5,39.02 L164.0,38.68 L164.5,38.36 L165.0,38.07 L165.5,37.80 L166.0,37.54 L166.5,37.31 L167.0,37.10 L167.5,36.90 L168.0,36.71 L168.5,36.54 L169.0,36.39 L169.5,36.25 L170.0,36.12 L170.5,36.01 L171.0,35.91 L171.5,35.81 L172.0,35.73 L172.5,35.65 L173.0,35.58 L173.5,35.51 L174.0,35.46 L174.5,35.41 L175.0,35.36 L175.5,35.32 L176.0,35.28 L176.5,35.25 L177.0,35.22 L177.5,35.20 L178.0,35.18 L178.5,35.16 L179.0,35.14 L179.5,35.13 L180.0,35.13 L180.5,35.12 L181.0,35.13 L181.5,35.13 L182.0,35.14 L182.5,35.16 L183.0,35.18 L183.5,35.20 L184.0,35.23 L184.5,35.27 L185.0,35.32 L185.5,35.39 L186.0,35.46 L186.5,35.55 L187.0,35.66 L187.5,35.79 L188.0,35.93 L188.5,36.08 L189.0,36.26 L189.5,36.45 L190.0,36.66 L190.5,36.90 L191.0,37.17 L191.5,37.46 L192.0,37.78 L192.5,38.12 L193.0,38.47 L193.5,38.83 L194.0,39.20 L194.5,39.56 L195.0,39.92 L195.5,40.28 L196.0,40.64 L196.5,40.99 L197.0,41.34 L197.5,41.70 L198.0,42.06 L198.5,42.43 L199.0,42.81 L199.5,43.21 L200.0,43.62 L200.5,44.05 L201.0,44.50 L201.5,44.97 L202.0,45.45 L202.5,45.94 L203.0,46.44 L203.5,46.95 L204.0,47.46 L204.5,47.98 L205.0,48.49 L205.5,49.00 L206.0,49.52 L206.5,50.03 L207.0,50.54 L207.5,51.06 L208.0,51.58 L208.5,52.11 L209.0,52.64 L209.5,53.17 L210.0,53.72 L210.5,54.27 L211.0,54.82 L211.5,55.39 L212.0,55.96 L212.5,56.54 L213.0,57.12 L213.5,57.72 L214.0,58.33 L214.5,58.94 L215.0,59.57 L215.5,60.21 L216.0,60.86 L216.5,61.52 L217.0,62.19 L217.5,62.86 L218.0,63.55 L218.5,64.23 L219.0,64.92 L219.5,65.62 L220.0,66.31 L220.5,67.01 L221.0,67.71 L221.5,68.41 L222.0,69.11 L222.5,69.81 L223.0,70.51 L223.5,71.19 L224.0,71.87 L224.5,72.54 L225.0,73.20 L225.5,73.85 L226.0,74.49 L226.5,75.12 L227.0,75.76 L227.5,76.40 L228.0,77.04 L228.5,77.70 L229.0,78.38 L229.5,79.07 L230.0,79.77 L230.5,80.48 L231.0,81.20 L231.5,81.92 L232.0,82.63 L232.5,83.35 L233.0,84.06 L233.5,84.77 L234.0,85.49 L234.5,86.21 L235.0,86.95 L235.5,87.69 L236.0,88.45 L236.5,89.22 L237.0,90.00 L237.5,90.79 L238.0,91.58 L238.5,92.37 L239.0,93.16 L239.5,93.95 L240.0,94.73 L240.5,95.51 L241.0,96.28 L241.5,97.04 L242.0,97.78 L242.5,98.50 L243.0,99.21 L243.5,99.88 L244.0,100.54 L244.5,101.16 L245.0,101.77 L245.5,102.37 L246.0,102.96 L246.5,103.55 L247.0,104.14 L247.5,104.76 L248.0,105.39 L248.5,106.04 L249.0,106.71 L249.5,107.41 L250.0,108.12 L250.5,108.84 L251.0,109.57 L251.5,110.31 L252.0,111.05 L252.5,111.79 L253.0,112.53 L253.5,113.26 L254.0,114.00 L254.5,114.73 L255.0,115.47 L255.5,116.21 L256.0,116.95 L256.5,117.70 L257.0,118.46 L257.5,119.22 L258.0,119.99 L258.5,120.77 L259.0,121.55 L259.5,122.34 L260.0,123.12 L260.5,123.91 L261.0,124.70 L261.5,125.48 L262.0,126.26 L262.5,127.03 L263.0,127.78 L263.5,128.53 L264.0,129.26 L264.5,129.97 L265.0,130.67 L265.5,131.35 L266.0,132.02 L266.5,132.68 L267.0,133.33 L267.5,133.97 L268.0,134.61 L268.5,135.25 L269.0,135.88 L269.5,136.52 L270.0,137.16 L270.5,137.81 L271.0,138.46 L271.5,139.12 L272.0,139.77 L272.5,140.43 L273.0,141.09 L273.5,141.74 L274.0,142.40 L274.5,143.06 L275.0,143.72 L275.5,144.37 L276.0,145.03 L276.5,145.69 L277.0,146.35 L277.5,147.01 L278.0,147.68 L278.5,148.35 L279.0,149.02 L279.5,149.70 L280.0,150.39 L280.5,151.08 L281.0,151.78 L281.5,152.48 L282.0,153.18 L282.5,153.88 L283.0,154.58 L283.5,155.27 L284.0,155.95 L284.5,156.62 L285.0,157.27 L285.5,157.90 L286.0,158.52 L286.5,159.13 L287.0,159.72 L287.5,160.31 L288.0,160.88 L288.5,161.45 L289.0,162.01 L289.5,162.57 L290.0,163.13 L290.5,163.68 L291.0,164.23 L291.5,164.77 L292.0,165.32 L292.5,165.85 L293.0,166.38 L293.5,166.90 L294.0,167.40 L294.5,167.90 L295.0,168.39 L295.5,168.86 L296.0,169.34 L296.5,169.81 L297.0,170.31 L297.5,170.82 L298.0,171.37 L298.5,171.96 L299.0,172.59 L299.5,173.26 L300.0,173.96 L300.5,174.68 L301.0,175.40 L301.5,176.13 L302.0,176.85 L302.5,177.56 L303.0,178.26 L303.5,178.93 L304.0,179.59 L304.5,180.23 L305.0,180.86 L305.5,181.48 L306.0,182.09 L306.5,182.69 L307.0,183.30 L307.5,183.91 L308.0,184.51 L308.5,185.12 L309.0,185.71 L309.5,186.30 L310.0,186.86 L310.5,187.41 L311.0,187.93 L311.5,188.43 L312.0,188.91 L312.5,189.36 L313.0,189.79 L313.5,190.21 L314.0,190.61 L314.5,190.99 L315.0,191.37 L315.5,191.73 L316.0,192.09 L316.5,192.44 L317.0,192.78 L317.5,193.13 L318.0,193.48 L318.5,193.83 L319.0,194.18 L319.5,194.52 L320.0,194.86 L320.5,195.19 L321.0,195.49 L321.5,195.77 L322.0,196.03 L322.5,196.27 L323.0,196.49 L323.5,196.70 L324.0,196.90 L324.5,197.09 L325.0,197.29 L325.5,197.48 L326.0,197.67 L326.5,197.86 L327.0,198.05 L327.5,198.24 L328.0,198.43 L328.5,198.62 L329.0,198.83 L329.5,199.03 L330.0,199.25 L330.5,199.49 L331.0,199.74 L331.5,200.02 L332.0,200.32 L332.5,200.65 L333.0,201.00 L333.5,201.36 L334.0,201.74 L334.5,202.12 L335.0,202.48 L335.5,202.83 L336.0,203.17 L336.5,203.49 L337.0,203.79 L337.5,204.09 L338.0,204.37 L338.5,204.64 L339.0,204.91 L339.5,205.18 L340.0,205.44 L340.5,205.70 L341.0,205.96 L341.5,206.21 L342.0,206.47 L342.5,206.72 L343.0,206.96 L343.5,207.21 L344.0,207.45 L344.5,207.69 L345.0,207.93 L345.5,208.17 L346.0,208.41 L346.5,208.64 L347.0,208.87 L347.5,209.10 L348.0,209.33 L348.5,209.55 L349.0,209.77 L349.5,209.98 L350.0,210.19 L350.5,210.39 L351.0,210.59 L351.5,210.78 L352.0,210.97 L352.5,211.16 L353.0,211.34 L353.5,211.51 L354.0,211.69 L354.5,211.86 L355.0,212.02 L355.5,212.18 L356.0,212.33 L356.5,212.47 L357.0,212.60" stroke="#7a4a40"/>
<path d="M79.0,222.72 L79.5,222.29 L80.0,221.84 L80.5,221.38 L81.0,220.91 L81.5,220.43 L82.0,219.93 L82.5,219.40 L83.0,218.85 L83.5,218.27 L84.0,217.66 L84.5,217.04 L85.0,216.40 L85.5,215.75 L86.0,215.09 L86.5,214.40 L87.0,213.69 L87.5,212.94 L88.0,212.16 L88.5,211.35 L89.0,210.51 L89.5,209.64 L90.0,208.75 L90.5,207.85 L91.0,206.95 L91.5,206.05 L92.0,205.14 L92.5,204.22 L93.0,203.30 L93.5,202.36 L94.0,201.39 L94.5,200.40 L95.0,199.40 L95.5,198.37 L96.0,197.34 L96.5,196.30 L97.0,195.27 L97.5,194.26 L98.0,193.26 L98.5,192.27 L99.0,191.29 L99.5,190.30 L100.0,189.29 L100.5,188.25 L101.0,187.18 L101.5,186.06 L102.0,184.91 L102.5,183.72 L103.0,182.49 L103.5,181.24 L104.0,179.98 L104.5,178.70 L105.0,177.43 L105.5,176.16 L106.0,174.91 L106.5,173.67 L107.0,172.46 L107.5,171.26 L108.0,170.06 L108.5,168.87 L109.0,167.66 L109.5,166.44 L110.0,165.20 L110.5,163.94 L111.0,162.66 L111.5,161.36 L112.0,160.04 L112.5,158.71 L113.0,157.38 L113.5,156.06 L114.0,154.74 L114.5,153.44 L115.0,152.15 L115.5,150.86 L116.0,149.58 L116.5,148.28 L117.0,146.97 L117.5,145.63 L118.0,144.25 L118.5,142.84 L119.0,141.39 L119.5,139.91 L120.0,138.40 L120.5,136.86 L121.0,135.32 L121.5,133.79 L122.0,132.27 L122.5,130.78 L123.0,129.33 L123.5,127.93 L124.0,126.58 L124.5,125.27 L125.0,124.00 L125.5,122.76 L126.0,121.55 L126.5,120.35 L127.0,119.15 L127.5,117.95 L128.0,116.75 L128.5,115.53 L129.0,114.29 L129.5,113.03 L130.0,111.74 L130.5,110.41 L131.0,109.04 L131.5,107.64 L132.0,106.18 L132.5,104.70 L133.0,103.18 L133.5,101.64 L134.0,100.10 L134.5,98.58 L135.0,97.09 L135.5,95.66 L136.0,94.28 L136.5,92.98 L137.0,91.75 L137.5,90.58 L138.0,89.48 L138.5,88.41 L139.0,87.37 L139.5,86.35 L140.0,85.33 L140.5,84.30 L141.0,83.25 L141.5,82.18 L142.0,81.09 L142.5,79.98 L143.0,78.86 L143.5,77.71 L144.0,76.56 L144.5,75.39 L145.0,74.20 L145.5,73.01 L146.0,71.81 L146.5,70.60 L147.0,69.39 L147.5,68.18 L148.0,66.99 L148.5,65.81 L149.0,64.65 L149.5,63.51 L150.0,62.40 L150.5,61.32 L151.0,60.27 L151.5,59.24 L152.0,58.24 L152.5,57.26 L153.0,56.30 L153.5,55.35 L154.0,54.43 L154.5,53.53 L155.0,52.66 L155.5,51.82 L156.0,51.01 L156.5,50.24 L157.0,49.51 L157.5,48.82 L158.0,48.16 L158.5,47.54 L159.0,46.96 L159.5,46.40 L160.0,45.88 L160.5,45.38 L161.0,44.91 L161.5,44.46 L162.0,44.04 L162.5,43.64 L163.0,43.27 L163.5,42.91 L164.0,42.59 L164.5,42.28 L165.0,42.00 L165.5,41.74 L166.0,41.49 L166.5,41.27 L167.0,41.06 L167.5,40.87 L168.0,40.69 L168.5,40.53 L169.0,40.38 L169.5,40.24 L170.0,40.12 L170.5,40.01 L171.0,39.91 L171.5,39.82 L172.0,39.73 L172.5,39.66 L173.0,39.59 L173.5,39.52 L174.0,39.47 L174.5,39.42 L175.0,39.37 L175.5,39.33 L176.0,39.29 L176.5,39.26 L177.0,39.23 L177.5,39.21 L178.0,39.18 L178.5,39.16 L179.0,39.15 L179.5,39.14 L180.0,39.13 L180.5,39.13 L181.0,39.13 L181.5,39.13 L182.0,39.14 L182.5,39.15 L183.0,39.17 L183.5,39.19 L184.0,39.22 L184.5,39.26 L185.0,39.31 L185.5,39.38 L186.0,39.45 L186.5,39.55 L187.0,39.66 L187.5,39.79 L188.0,39.93 L188.5,40.09 L189.0,40.27 L189.5,40.47 L190.0,40.68 L190.5,40.92 L191.0,41.19 L191.5,41.48 L192.0,41.79 L192.5,42.13 L193.0,42.47 L193.5,42.83 L194.0,43.19 L194.5,43.55 L195.0,43.91 L195.5,44.27 L196.0,44.62 L196.5,44.97 L197.0,45.32 L197.5,45.68 L198.0,46.04 L198.5,46.41 L199.0,46.79 L199.5,47.18 L200.0,47.59 L200.5,48.02 L201.0,48.46 L201.5,48.91 L202.0,49.38 L202.5,49.87 L203.0,50.36 L203.5,50.85 L204.0,51.35 L204.5,51.86 L205.0,52.36 L205.5,52.86 L206.0,53.37 L206.5,53.87 L207.0,54.38 L207.5,54.88 L208.0,55.40 L208.5,55.91 L209.0,56.43 L209.5,56.96 L210.0,57.49 L210.5,58.03 L211.0,58.57 L211.5,59.12 L212.0,59.68 L212.5,60.25 L213.0,60.82 L213.5,61.40 L214.0,61.99 L214.5,62.59 L215.0,63.20 L215.5,63.82 L216.0,64.45 L216.5,65.09 L217.0,65.74 L217.5,66.40 L218.0,67.06 L218.5,67.73 L219.0,68.40 L219.5,69.08 L220.0,69.75 L220.5,70.43 L221.0,71.11 L221.5,71.80 L222.0,72.48 L222.5,73.16 L223.0,73.84 L223.5,74.51 L224.0,75.18 L224.5,75.84 L225.0,76.48 L225.5,77.12 L226.0,77.75 L226.5,78.38 L227.0,79.01 L227.5,79.64 L228.0,80.28 L228.5,80.93 L229.0,81.59 L229.5,82.27 L230.0,82.95 L230.5,83.65 L231.0,84.34 L231.5,85.04 L232.0,85.74 L232.5,86.43 L233.0,87.12 L233.5,87.81 L234.0,88.51 L234.5,89.21 L235.0,89.92 L235.5,90.65 L236.0,91.38 L236.5,92.13 L237.0,92.89 L237.5,93.66 L238.0,94.43 L238.5,95.20 L239.0,95.97 L239.5,96.74 L240.0,97.50 L240.5,98.26 L241.0,99.00 L241.5,99.74 L242.0,100.46 L242.5,101.17 L243.0,101.85 L243.5,102.51 L244.0,103.15 L244.5,103.77 L245.0,104.37 L245.5,104.95 L246.0,105.54 L246.5,106.12 L247.0,106.71 L247.5,107.32 L248.0,107.94 L248.5,108.58 L249.0,109.24 L249.5,109.92 L250.0,110.61 L250.5,111.32 L251.0,112.03 L251.5,112.75 L252.0,113.46 L252.5,114.18 L253.0,114.90 L253.5,115.62 L254.0,116.33 L254.5,117.05 L255.0,117.77 L255.5,118.49 L256.0,119.22 L256.5,119.95 L257.0,120.69 L257.5,121.44 L258.0,122.20 L258.5,122.96 L259.0,123.73 L259.5,124.51 L260.0,125.29 L260.5,126.06 L261.0,126.84 L261.5,127.61 L262.0,128.38 L262.5,129.14 L263.0,129.88 L263.5,130.62 L264.0,131.33 L264.5,132.04 L265.0,132.73 L265.5,133.40 L266.0,134.06 L266.5,134.70 L267.0,135.34 L267.5,135.96 L268.0,136.58 L268.5,137.20 L269.0,137.83 L269.5,138.45 L270.0,139.08 L270.5,139.71 L271.0,140.34 L271.5,140.98 L272.0,141.63 L272.5,142.27 L273.0,142.91 L273.5,143.56 L274.0,144.20 L274.5,144.84 L275.0,145.48 L275.5,146.12 L276.0,146.76 L276.5,147.40 L277.0,148.04 L277.5,148.69 L278.0,149.33 L278.5,149.99 L279.0,150.64 L279.5,151.30 L280.0,151.96 L280.5,152.63 L281.0,153.31 L281.5,153.99 L282.0,154.67 L282.5,155.35 L283.0,156.02 L283.5,156.69 L284.0,157.35 L284.5,158.00 L285.0,158.63 L285.5,159.25 L286.0,159.86 L286.5,160.45 L287.0,161.04 L287.5,161.62 L288.0,162.19 L288.5,162.75 L289.0,163.31 L289.5,163.86 L290.0,164.41 L290.5,164.96 L291.0,165.50 L291.5,166.05 L292.0,166.58 L292.5,167.11 L293.0,167.64 L293.5,168.16 L294.0,168.66 L294.5,169.16 L295.0,169.65 L295.5,170.13 L296.0,170.60 L296.5,171.08 L297.0,171.58 L297.5,172.09 L298.0,172.64 L298.5,173.23 L299.0,173.86 L299.5,174.53 L300.0,175.22 L300.5,175.94 L301.0,176.66 L301.5,177.38 L302.0,178.10 L302.5,178.80 L303.0,179.48 L303.5,180.15 L304.0,180.80 L304.5,181.43 L305.0,182.05 L305.5,182.66 L306.0,183.25 L306.5,183.85 L307.0,184.44 L307.5,185.03 L308.0,185.62 L308.5,186.20 L309.0,186.78 L309.5,187.34 L310.0,187.89 L310.5,188.42 L311.0,188.93 L311.5,189.41 L312.0,189.87 L312.5,190.31 L313.0,190.73 L313.5,191.13 L314.0,191.52 L314.5,191.89 L315.0,192.26 L315.5,192.61 L316.0,192.96 L316.5,193.30 L317.0,193.63 L317.5,193.97 L318.0,194.30 L318.5,194.64 L319.0,194.98 L319.5,195.31 L320.0,195.64 L320.5,195.95 L321.0,196.24 L321.5,196.51 L322.0,196.75 L322.5,196.98 L323.0,197.20 L323.5,197.41 L324.0,197.61 L324.5,197.81 L325.0,198.01 L325.5,198.20 L326.0,198.40 L326.5,198.60 L327.0,198.80 L327.5,199.00 L328.0,199.20 L328.5,199.40 L329.0,199.61 L329.5,199.82 L330.0,200.05 L330.5,200.29 L331.0,200.54 L331.5,200.81 L332.0,201.11 L332.5,201.43 L333.0,201.78 L333.5,202.13 L334.0,202.50 L334.5,202.86 L335.0,203.22 L335.5,203.56 L336.0,203.88 L336.5,204.19 L337.0,204.49 L337.5,204.78 L338.0,205.05 L338.5,205.32 L339.0,205.58 L339.5,205.84 L340.0,206.10 L340.5,206.35 L341.0,206.60 L341.5,206.84 L342.0,207.09 L342.5,207.33 L343.0,207.57 L343.5,207.80 L344.0,208.04 L344.5,208.27 L345.0,208.50 L345.5,208.74 L346.0,208.97 L346.5,209.19 L347.0,209.42 L347.5,209.64 L348.0,209.86 L348.5,210.08 L349.0,210.29 L349.5,210.50 L350.0,210.70 L350.5,210.90 L351.0,211.09 L351.5,211.27 L352.0,211.45 L352.5,211.63 L353.0,211.81 L353.5,211.98 L354.0,212.15 L354.5,212.31 L355.0,212.47 L355.5,212.62 L356.0,212.77 L356.5,212.91 L357.0,213.03" stroke="#8c8c00"/>
<path d="M79.0,223.50 L79.5,223.08 L80.0,222.63 L80.5,222.17 L81.0,221.70 L81.5,221.22 L82.0,220.72 L82.5,220.20 L83.0,219.65 L83.5,219.08 L84.0,218.49 L84.5,217.89 L85.0,217.27 L85.5,216.64 L86.0,215.99 L86.5,215.33 L87.0,214.64 L87.5,213.92 L88.0,213.17 L88.5,212.39 L89.0,211.59 L89.5,210.76 L90.0,209.92 L90.5,209.07 L91.0,208.21 L91.5,207.35 L92.0,206.48 L92.5,205.61 L93.0,204.72 L93.5,203.82 L94.0,202.89 L94.5,201.94 L95.0,200.97 L95.5,199.98 L96.0,198.97 L96.5,197.97 L97.0,196.96 L97.5,195.97 L98.0,194.99 L98.5,194.01 L99.0,193.04 L99.5,192.07 L100.0,191.08 L100.5,190.06 L101.0,189.01 L101.5,187.93 L102.0,186.80 L102.5,185.64 L103.0,184.45 L103.5,183.23 L104.0,181.99 L104.5,180.74 L105.0,179.49 L105.5,178.25 L106.0,177.03 L106.5,175.83 L107.0,174.65 L107.5,173.48 L108.0,172.32 L108.5,171.16 L109.0,169.99 L109.5,168.79 L110.0,167.57 L110.5,166.33 L111.0,165.06 L111.5,163.76 L112.0,162.45 L112.5,161.12 L113.0,159.80 L113.5,158.48 L114.0,157.17 L114.5,155.88 L115.0,154.61 L115.5,153.35 L116.0,152.09 L116.5,150.83 L117.0,149.56 L117.5,148.26 L118.0,146.94 L118.5,145.58 L119.0,144.19 L119.5,142.77 L120.0,141.33 L120.5,139.87 L121.0,138.39 L121.5,136.93 L122.0,135.48 L122.5,134.06 L123.0,132.67 L123.5,131.32 L124.0,130.02 L124.5,128.75 L125.0,127.51 L125.5,126.30 L126.0,125.11 L126.5,123.93 L127.0,122.75 L127.5,121.56 L128.0,120.37 L128.5,119.16 L129.0,117.93 L129.5,116.68 L130.0,115.41 L130.5,114.10 L131.0,112.76 L131.5,111.38 L132.0,109.97 L132.5,108.52 L133.0,107.05 L133.5,105.56 L134.0,104.07 L134.5,102.60 L135.0,101.17 L135.5,99.78 L136.0,98.45 L136.5,97.19 L137.0,96.00 L137.5,94.87 L138.0,93.78 L138.5,92.74 L139.0,91.72 L139.5,90.72 L140.0,89.71 L140.5,88.69 L141.0,87.65 L141.5,86.59 L142.0,85.52 L142.5,84.42 L143.0,83.31 L143.5,82.19 L144.0,81.05 L144.5,79.90 L145.0,78.74 L145.5,77.58 L146.0,76.40 L146.5,75.22 L147.0,74.05 L147.5,72.87 L148.0,71.70 L148.5,70.55 L149.0,69.42 L149.5,68.31 L150.0,67.23 L150.5,66.17 L151.0,65.14 L151.5,64.14 L152.0,63.16 L152.5,62.20 L153.0,61.27 L153.5,60.36 L154.0,59.47 L154.5,58.61 L155.0,57.78 L155.5,56.98 L156.0,56.21 L156.5,55.48 L157.0,54.78 L157.5,54.13 L158.0,53.51 L158.5,52.92 L159.0,52.37 L159.5,51.85 L160.0,51.35 L160.5,50.88 L161.0,50.44 L161.5,50.02 L162.0,49.62 L162.5,49.25 L163.0,48.89 L163.5,48.56 L164.0,48.25 L164.5,47.97 L165.0,47.70 L165.5,47.45 L166.0,47.22 L166.5,47.01 L167.0,46.81 L167.5,46.63 L168.0,46.46 L168.5,46.31 L169.0,46.16 L169.5,46.03 L170.0,45.92 L170.5,45.81 L171.0,45.71 L171.5,45.62 L172.0,45.54 L172.5,45.47 L173.0,45.40 L173.5,45.34 L174.0,45.28 L174.5,45.23 L175.0,45.18 L175.5,45.14 L176.0,45.11 L176.5,45.07 L177.0,45.04 L177.5,45.02 L178.0,44.99 L178.5,44.97 L179.0,44.96 L179.5,44.94 L180.0,44.93 L180.5,44.93 L181.0,44.93 L181.5,44.93 L182.0,44.94 L182.5,44.95 L183.0,44.96 L183.5,44.98 L184.0,45.01 L184.5,45.05 L185.0,45.10 L185.5,45.16 L186.0,45.24 L186.5,45.34 L187.0,45.45 L187.5,45.59 L188.0,45.74 L188.5,45.90 L189.0,46.09 L189.5,46.29 L190.0,46.51 L190.5,46.75 L191.0,47.02 L191.5,47.31 L192.0,47.61 L192.5,47.94 L193.0,48.28 L193.5,48.63 L194.0,48.99 L194.5,49.34 L195.0,49.70 L195.5,50.05 L196.0,50.40 L196.5,50.75 L197.0,51.10 L197.5,51.45 L198.0,51.81 L198.5,52.18 L199.0,52.56 L199.5,52.95 L200.0,53.35 L200.5,53.76 L201.0,54.19 L201.5,54.64 L202.0,55.09 L202.5,55.56 L203.0,56.03 L203.5,56.51 L204.0,56.99 L204.5,57.48 L205.0,57.97 L205.5,58.46 L206.0,58.95 L206.5,59.44 L207.0,59.93 L207.5,60.43 L208.0,60.93 L208.5,61.43 L209.0,61.94 L209.5,62.45 L210.0,62.97 L210.5,63.49 L211.0,64.01 L211.5,64.55 L212.0,65.08 L212.5,65.62 L213.0,66.17 L213.5,66.73 L214.0,67.30 L214.5,67.87 L215.0,68.46 L215.5,69.05 L216.0,69.65 L216.5,70.27 L217.0,70.89 L217.5,71.52 L218.0,72.16 L218.5,72.80 L219.0,73.44 L219.5,74.09 L220.0,74.74 L220.5,75.39 L221.0,76.05 L221.5,76.70 L222.0,77.36 L222.5,78.02 L223.0,78.67 L223.5,79.33 L224.0,79.97 L224.5,80.61 L225.0,81.24 L225.5,81.87 L226.0,82.49 L226.5,83.11 L227.0,83.72 L227.5,84.34 L228.0,84.97 L228.5,85.61 L229.0,86.25 L229.5,86.91 L230.0,87.57 L230.5,88.24 L231.0,88.91 L231.5,89.57 L232.0,90.24 L232.5,90.90 L233.0,91.56 L233.5,92.22 L234.0,92.88 L234.5,93.55 L235.0,94.24 L235.5,94.93 L236.0,95.64 L236.5,96.35 L237.0,97.08 L237.5,97.82 L238.0,98.56 L238.5,99.31 L239.0,100.05 L239.5,100.79 L240.0,101.52 L240.5,102.24 L241.0,102.95 L241.5,103.66 L242.0,104.35 L242.5,105.02 L243.0,105.68 L243.5,106.32 L244.0,106.94 L244.5,107.54 L245.0,108.13 L245.5,108.71 L246.0,109.28 L246.5,109.86 L247.0,110.44 L247.5,111.03 L248.0,111.64 L248.5,112.26 L249.0,112.90 L249.5,113.56 L250.0,114.23 L250.5,114.90 L251.0,115.59 L251.5,116.28 L252.0,116.97 L252.5,117.66 L253.0,118.34 L253.5,119.03 L254.0,119.72 L254.5,120.41 L255.0,121.10 L255.5,121.80 L256.0,122.50 L256.5,123.21 L257.0,123.93 L257.5,124.66 L258.0,125.40 L258.5,126.15 L259.0,126.90 L259.5,127.66 L260.0,128.42 L260.5,129.18 L261.0,129.94 L261.5,130.70 L262.0,131.45 L262.5,132.20 L263.0,132.93 L263.5,133.65 L264.0,134.35 L264.5,135.04 L265.0,135.71 L265.5,136.36 L266.0,137.00 L266.5,137.63 L267.0,138.24 L267.5,138.85 L268.0,139.45 L268.5,140.04 L269.0,140.64 L269.5,141.24 L270.0,141.85 L270.5,142.46 L271.0,143.07 L271.5,143.69 L272.0,144.32 L272.5,144.94 L273.0,145.56 L273.5,146.19 L274.0,146.81 L274.5,147.42 L275.0,148.04 L275.5,148.65 L276.0,149.27 L276.5,149.88 L277.0,150.50 L277.5,151.11 L278.0,151.73 L278.5,152.36 L279.0,152.98 L279.5,153.61 L280.0,154.25 L280.5,154.89 L281.0,155.53 L281.5,156.17 L282.0,156.82 L282.5,157.47 L283.0,158.11 L283.5,158.74 L284.0,159.37 L284.5,159.99 L285.0,160.60 L285.5,161.20 L286.0,161.79 L286.5,162.37 L287.0,162.95 L287.5,163.51 L288.0,164.07 L288.5,164.63 L289.0,165.18 L289.5,165.73 L290.0,166.27 L290.5,166.81 L291.0,167.35 L291.5,167.89 L292.0,168.42 L292.5,168.95 L293.0,169.47 L293.5,169.98 L294.0,170.49 L294.5,170.99 L295.0,171.48 L295.5,171.96 L296.0,172.44 L296.5,172.92 L297.0,173.42 L297.5,173.94 L298.0,174.50 L298.5,175.08 L299.0,175.71 L299.5,176.37 L300.0,177.06 L300.5,177.77 L301.0,178.48 L301.5,179.19 L302.0,179.90 L302.5,180.59 L303.0,181.26 L303.5,181.91 L304.0,182.55 L304.5,183.17 L305.0,183.77 L305.5,184.36 L306.0,184.94 L306.5,185.52 L307.0,186.09 L307.5,186.65 L308.0,187.22 L308.5,187.77 L309.0,188.32 L309.5,188.86 L310.0,189.38 L310.5,189.89 L311.0,190.37 L311.5,190.83 L312.0,191.27 L312.5,191.68 L313.0,192.08 L313.5,192.47 L314.0,192.84 L314.5,193.20 L315.0,193.55 L315.5,193.88 L316.0,194.21 L316.5,194.54 L317.0,194.86 L317.5,195.18 L318.0,195.50 L318.5,195.82 L319.0,196.14 L319.5,196.45 L320.0,196.76 L320.5,197.05 L321.0,197.32 L321.5,197.57 L322.0,197.80 L322.5,198.02 L323.0,198.23 L323.5,198.43 L324.0,198.64 L324.5,198.84 L325.0,199.05 L325.5,199.26 L326.0,199.47 L326.5,199.68 L327.0,199.89 L327.5,200.10 L328.0,200.32 L328.5,200.53 L329.0,200.75 L329.5,200.97 L330.0,201.20 L330.5,201.44 L331.0,201.70 L331.5,201.97 L332.0,202.26 L332.5,202.58 L333.0,202.91 L333.5,203.25 L334.0,203.60 L334.5,203.94 L335.0,204.28 L335.5,204.61 L336.0,204.92 L336.5,205.22 L337.0,205.50 L337.5,205.77 L338.0,206.04 L338.5,206.30 L339.0,206.55 L339.5,206.80 L340.0,207.04 L340.5,207.29 L341.0,207.52 L341.5,207.76 L342.0,207.99 L342.5,208.22 L343.0,208.45 L343.5,208.67 L344.0,208.89 L344.5,209.12 L345.0,209.34 L345.5,209.56 L346.0,209.78 L346.5,210.00 L347.0,210.21 L347.5,210.43 L348.0,210.64 L348.5,210.84 L349.0,211.05 L349.5,211.24 L350.0,211.44 L350.5,211.62 L351.0,211.80 L351.5,211.98 L352.0,212.15 L352.5,212.32 L353.0,212.49 L353.5,212.65 L354.0,212.81 L354.5,212.97 L355.0,213.12 L355.5,213.27 L356.0,213.41 L356.5,213.53 L357.0,213.65" stroke="#f86818"/>
<path d="M79.0,223.90 L79.5,223.48 L80.0,223.04 L80.5,222.58 L81.0,222.11 L81.5,221.63 L82.0,221.14 L82.5,220.61 L83.0,220.07 L83.5,219.50 L84.0,218.92 L84.5,218.32 L85.0,217.71 L85.5,217.09 L86.0,216.46 L86.5,215.81 L87.0,215.13 L87.5,214.42 L88.0,213.69 L88.5,212.93 L89.0,212.15 L89.5,211.34 L90.0,210.52 L90.5,209.69 L91.0,208.86 L91.5,208.02 L92.0,207.18 L92.5,206.33 L93.0,205.46 L93.5,204.58 L94.0,203.67 L94.5,202.74 L95.0,201.78 L95.5,200.81 L96.0,199.82 L96.5,198.83 L97.0,197.84 L97.5,196.85 L98.0,195.88 L98.5,194.91 L99.0,193.95 L99.5,192.98 L100.0,192.00 L100.5,191.00 L101.0,189.96 L101.5,188.89 L102.0,187.78 L102.5,186.64 L103.0,185.46 L103.5,184.26 L104.0,183.03 L104.5,181.80 L105.0,180.56 L105.5,179.33 L106.0,178.13 L106.5,176.94 L107.0,175.78 L107.5,174.63 L108.0,173.49 L108.5,172.35 L109.0,171.19 L109.5,170.01 L110.0,168.80 L110.5,167.56 L111.0,166.29 L111.5,165.00 L112.0,163.69 L112.5,162.37 L113.0,161.04 L113.5,159.73 L114.0,158.43 L114.5,157.15 L115.0,155.88 L115.5,154.64 L116.0,153.40 L116.5,152.15 L117.0,150.90 L117.5,149.63 L118.0,148.33 L118.5,147.00 L119.0,145.64 L119.5,144.25 L120.0,142.84 L120.5,141.42 L121.0,139.98 L121.5,138.56 L122.0,137.14 L122.5,135.75 L123.0,134.40 L123.5,133.08 L124.0,131.80 L124.5,130.55 L125.0,129.33 L125.5,128.14 L126.0,126.96 L126.5,125.78 L127.0,124.61 L127.5,123.43 L128.0,122.24 L128.5,121.04 L129.0,119.82 L129.5,118.57 L130.0,117.31 L130.5,116.01 L131.0,114.68 L131.5,113.32 L132.0,111.93 L132.5,110.50 L133.0,109.05 L133.5,107.59 L134.0,106.13 L134.5,104.68 L135.0,103.27 L135.5,101.91 L136.0,100.61 L136.5,99.37 L137.0,98.20 L137.5,97.08 L138.0,96.01 L138.5,94.98 L139.0,93.97 L139.5,92.97 L140.0,91.97 L140.5,90.96 L141.0,89.93 L141.5,88.88 L142.0,87.81 L142.5,86.72 L143.0,85.62 L143.5,84.50 L144.0,83.38 L144.5,82.24 L145.0,81.09 L145.5,79.94 L146.0,78.78 L146.5,77.62 L147.0,76.45 L147.5,75.29 L148.0,74.14 L148.5,73.01 L149.0,71.89 L149.5,70.79 L150.0,69.72 L150.5,68.68 L151.0,67.66 L151.5,66.67 L152.0,65.70 L152.5,64.76 L153.0,63.85 L153.5,62.95 L154.0,62.08 L154.5,61.24 L155.0,60.43 L155.5,59.64 L156.0,58.90 L156.5,58.19 L157.0,57.51 L157.5,56.87 L158.0,56.27 L158.5,55.71 L159.0,55.17 L159.5,54.66 L160.0,54.18 L160.5,53.73 L161.0,53.30 L161.5,52.90 L162.0,52.51 L162.5,52.15 L163.0,51.80 L163.5,51.48 L164.0,51.18 L164.5,50.91 L165.0,50.65 L165.5,50.41 L166.0,50.19 L166.5,49.98 L167.0,49.79 L167.5,49.61 L168.0,49.44 L168.5,49.29 L169.0,49.16 L169.5,49.03 L170.0,48.91 L170.5,48.81 L171.0,48.71 L171.5,48.63 L172.0,48.54 L172.5,48.47 L173.0,48.40 L173.5,48.34 L174.0,48.29 L174.5,48.24 L175.0,48.19 L175.5,48.15 L176.0,48.11 L176.5,48.08 L177.0,48.05 L177.5,48.02 L178.0,48.00 L178.5,47.98 L179.0,47.96 L179.5,47.95 L180.0,47.94 L180.5,47.93 L181.0,47.93 L181.5,47.93 L182.0,47.93 L182.5,47.94 L183.0,47.96 L183.5,47.98 L184.0,48.00 L184.5,48.04 L185.0,48.09 L185.5,48.15 L186.0,48.23 L186.5,48.33 L187.0,48.45 L187.5,48.59 L188.0,48.74 L188.5,48.91 L189.0,49.10 L189.5,49.30 L190.0,49.52 L190.5,49.77 L191.0,50.03 L191.5,50.32 L192.0,50.62 L192.5,50.95 L193.0,51.29 L193.5,51.63 L194.0,51.98 L194.5,52.34 L195.0,52.69 L195.5,53.04 L196.0,53.39 L196.5,53.74 L197.0,54.09 L197.5,54.44 L198.0,54.80 L198.5,55.17 L199.0,55.54 L199.5,55.93 L200.0,56.32 L200.5,56.74 L201.0,57.16 L201.5,57.60 L202.0,58.04 L202.5,58.50 L203.0,58.96 L203.5,59.44 L204.0,59.91 L204.5,60.39 L205.0,60.87 L205.5,61.35 L206.0,61.83 L206.5,62.32 L207.0,62.81 L207.5,63.30 L208.0,63.79 L208.5,64.29 L209.0,64.79 L209.5,65.29 L210.0,65.80 L210.5,66.31 L211.0,66.83 L211.5,67.35 L212.0,67.88 L212.5,68.41 L213.0,68.94 L213.5,69.49 L214.0,70.04 L214.5,70.60 L215.0,71.18 L215.5,71.76 L216.0,72.35 L216.5,72.95 L217.0,73.56 L217.5,74.17 L218.0,74.79 L218.5,75.42 L219.0,76.05 L219.5,76.68 L220.0,77.32 L220.5,77.96 L221.0,78.60 L221.5,79.24 L222.0,79.89 L222.5,80.53 L223.0,81.17 L223.5,81.81 L224.0,82.45 L224.5,83.08 L225.0,83.70 L225.5,84.32 L226.0,84.94 L226.5,85.55 L227.0,86.16 L227.5,86.78 L228.0,87.40 L228.5,88.02 L229.0,88.66 L229.5,89.31 L230.0,89.96 L230.5,90.61 L231.0,91.27 L231.5,91.92 L232.0,92.57 L232.5,93.21 L233.0,93.86 L233.5,94.50 L234.0,95.15 L234.5,95.80 L235.0,96.47 L235.5,97.14 L236.0,97.83 L236.5,98.54 L237.0,99.25 L237.5,99.98 L238.0,100.70 L238.5,101.43 L239.0,102.16 L239.5,102.88 L240.0,103.59 L240.5,104.30 L241.0,105.00 L241.5,105.68 L242.0,106.36 L242.5,107.02 L243.0,107.66 L243.5,108.29 L244.0,108.90 L244.5,109.49 L245.0,110.07 L245.5,110.65 L246.0,111.22 L246.5,111.79 L247.0,112.37 L247.5,112.95 L248.0,113.56 L248.5,114.17 L249.0,114.80 L249.5,115.44 L250.0,116.10 L250.5,116.76 L251.0,117.43 L251.5,118.10 L252.0,118.78 L252.5,119.45 L253.0,120.12 L253.5,120.80 L254.0,121.47 L254.5,122.14 L255.0,122.82 L255.5,123.51 L256.0,124.20 L256.5,124.90 L257.0,125.61 L257.5,126.33 L258.0,127.06 L258.5,127.79 L259.0,128.54 L259.5,129.29 L260.0,130.04 L260.5,130.80 L261.0,131.55 L261.5,132.30 L262.0,133.04 L262.5,133.78 L263.0,134.50 L263.5,135.21 L264.0,135.91 L264.5,136.59 L265.0,137.25 L265.5,137.90 L266.0,138.53 L266.5,139.14 L267.0,139.74 L267.5,140.34 L268.0,140.93 L268.5,141.51 L269.0,142.10 L269.5,142.69 L270.0,143.28 L270.5,143.88 L271.0,144.49 L271.5,145.10 L272.0,145.71 L272.5,146.32 L273.0,146.93 L273.5,147.55 L274.0,148.15 L274.5,148.76 L275.0,149.36 L275.5,149.97 L276.0,150.57 L276.5,151.17 L277.0,151.77 L277.5,152.37 L278.0,152.97 L278.5,153.58 L279.0,154.19 L279.5,154.81 L280.0,155.43 L280.5,156.05 L281.0,156.68 L281.5,157.30 L282.0,157.93 L282.5,158.56 L283.0,159.19 L283.5,159.81 L284.0,160.42 L284.5,161.03 L285.0,161.62 L285.5,162.21 L286.0,162.79 L286.5,163.37 L287.0,163.94 L287.5,164.50 L288.0,165.05 L288.5,165.60 L289.0,166.15 L289.5,166.69 L290.0,167.23 L290.5,167.77 L291.0,168.31 L291.5,168.84 L292.0,169.37 L292.5,169.90 L293.0,170.42 L293.5,170.93 L294.0,171.44 L294.5,171.93 L295.0,172.42 L295.5,172.91 L296.0,173.39 L296.5,173.88 L297.0,174.38 L297.5,174.90 L298.0,175.45 L298.5,176.04 L299.0,176.67 L299.5,177.33 L300.0,178.01 L300.5,178.71 L301.0,179.42 L301.5,180.13 L302.0,180.83 L302.5,181.51 L303.0,182.18 L303.5,182.83 L304.0,183.46 L304.5,184.07 L305.0,184.67 L305.5,185.25 L306.0,185.82 L306.5,186.38 L307.0,186.94 L307.5,187.49 L308.0,188.04 L308.5,188.59 L309.0,189.12 L309.5,189.65 L310.0,190.16 L310.5,190.64 L311.0,191.11 L311.5,191.56 L312.0,191.99 L312.5,192.40 L313.0,192.79 L313.5,193.16 L314.0,193.52 L314.5,193.87 L315.0,194.21 L315.5,194.54 L316.0,194.87 L316.5,195.18 L317.0,195.50 L317.5,195.81 L318.0,196.12 L318.5,196.43 L319.0,196.74 L319.5,197.04 L320.0,197.34 L320.5,197.61 L321.0,197.88 L321.5,198.12 L322.0,198.34 L322.5,198.56 L323.0,198.76 L323.5,198.96 L324.0,199.17 L324.5,199.37 L325.0,199.59 L325.5,199.80 L326.0,200.02 L326.5,200.24 L327.0,200.46 L327.5,200.68 L328.0,200.89 L328.5,201.11 L329.0,201.34 L329.5,201.56 L330.0,201.80 L330.5,202.04 L331.0,202.30 L331.5,202.57 L332.0,202.86 L332.5,203.17 L333.0,203.49 L333.5,203.82 L334.0,204.16 L334.5,204.50 L335.0,204.83 L335.5,205.15 L336.0,205.45 L336.5,205.74 L337.0,206.02 L337.5,206.29 L338.0,206.55 L338.5,206.80 L339.0,207.05 L339.5,207.29 L340.0,207.53 L340.5,207.77 L341.0,208.00 L341.5,208.23 L342.0,208.46 L342.5,208.68 L343.0,208.90 L343.5,209.12 L344.0,209.34 L344.5,209.55 L345.0,209.77 L345.5,209.98 L346.0,210.20 L346.5,210.41 L347.0,210.62 L347.5,210.83 L348.0,211.04 L348.5,211.24 L349.0,211.44 L349.5,211.63 L350.0,211.82 L350.5,212.00 L351.0,212.18 L351.5,212.35 L352.0,212.52 L352.5,212.68 L353.0,212.84 L353.5,213.00 L354.0,213.16 L354.5,213.31 L355.0,213.46 L355.5,213.60 L356.0,213.74 L356.5,213.86 L357.0,213.97" stroke="#6098d8"/>
<path d="M79.0,224.28 L79.5,223.86 L80.0,223.42 L80.5,222.96 L81.0,222.50 L81.5,222.02 L82.0,221.52 L82.5,221.00 L83.0,220.46 L83.5,219.90 L84.0,219.32 L84.5,218.73 L85.0,218.13 L85.5,217.52 L86.0,216.90 L86.5,216.25 L87.0,215.59 L87.5,214.90 L88.0,214.18 L88.5,213.43 L89.0,212.67 L89.5,211.88 L90.0,211.08 L90.5,210.28 L91.0,209.47 L91.5,208.65 L92.0,207.83 L92.5,207.00 L93.0,206.15 L93.5,205.28 L94.0,204.39 L94.5,203.48 L95.0,202.54 L95.5,201.58 L96.0,200.61 L96.5,199.63 L97.0,198.65 L97.5,197.68 L98.0,196.71 L98.5,195.75 L99.0,194.80 L99.5,193.84 L100.0,192.86 L100.5,191.87 L101.0,190.85 L101.5,189.79 L102.0,188.70 L102.5,187.57 L103.0,186.41 L103.5,185.22 L104.0,184.01 L104.5,182.78 L105.0,181.56 L105.5,180.34 L106.0,179.15 L106.5,177.98 L107.0,176.83 L107.5,175.71 L108.0,174.58 L108.5,173.46 L109.0,172.31 L109.5,171.14 L110.0,169.94 L110.5,168.71 L111.0,167.45 L111.5,166.16 L112.0,164.85 L112.5,163.53 L113.0,162.21 L113.5,160.90 L114.0,159.60 L114.5,158.32 L115.0,157.07 L115.5,155.84 L116.0,154.61 L116.5,153.39 L117.0,152.15 L117.5,150.90 L118.0,149.62 L118.5,148.32 L119.0,146.99 L119.5,145.64 L120.0,144.26 L120.5,142.87 L121.0,141.47 L121.5,140.07 L122.0,138.69 L122.5,137.34 L123.0,136.01 L123.5,134.71 L124.0,133.46 L124.5,132.23 L125.0,131.03 L125.5,129.85 L126.0,128.68 L126.5,127.51 L127.0,126.35 L127.5,125.18 L128.0,123.99 L128.5,122.79 L129.0,121.58 L129.5,120.34 L130.0,119.08 L130.5,117.79 L131.0,116.48 L131.5,115.13 L132.0,113.75 L132.5,112.35 L133.0,110.92 L133.5,109.48 L134.0,108.04 L134.5,106.63 L135.0,105.24 L135.5,103.90 L136.0,102.62 L136.5,101.40 L137.0,100.25 L137.5,99.15 L138.0,98.09 L138.5,97.07 L139.0,96.07 L139.5,95.08 L140.0,94.08 L140.5,93.08 L141.0,92.05 L141.5,91.01 L142.0,89.94 L142.5,88.86 L143.0,87.77 L143.5,86.66 L144.0,85.55 L144.5,84.42 L145.0,83.29 L145.5,82.15 L146.0,81.00 L146.5,79.85 L147.0,78.70 L147.5,77.56 L148.0,76.42 L148.5,75.30 L149.0,74.20 L149.5,73.11 L150.0,72.05 L150.5,71.02 L151.0,70.01 L151.5,69.03 L152.0,68.08 L152.5,67.15 L153.0,66.25 L153.5,65.37 L154.0,64.52 L154.5,63.69 L155.0,62.90 L155.5,62.13 L156.0,61.41 L156.5,60.71 L157.0,60.06 L157.5,59.44 L158.0,58.85 L158.5,58.30 L159.0,57.78 L159.5,57.29 L160.0,56.83 L160.5,56.39 L161.0,55.97 L161.5,55.58 L162.0,55.20 L162.5,54.85 L163.0,54.52 L163.5,54.21 L164.0,53.92 L164.5,53.65 L165.0,53.40 L165.5,53.17 L166.0,52.95 L166.5,52.75 L167.0,52.56 L167.5,52.39 L168.0,52.23 L168.5,52.08 L169.0,51.95 L169.5,51.82 L170.0,51.71 L170.5,51.61 L171.0,51.51 L171.5,51.43 L172.0,51.35 L172.5,51.28 L173.0,51.21 L173.5,51.15 L174.0,51.09 L174.5,51.04 L175.0,51.00 L175.5,50.96 L176.0,50.92 L176.5,50.89 L177.0,50.86 L177.5,50.83 L178.0,50.80 L178.5,50.78 L179.0,50.77 L179.5,50.75 L180.0,50.74 L180.5,50.73 L181.0,50.73 L181.5,50.73 L182.0,50.73 L182.5,50.74 L183.0,50.75 L183.5,50.77 L184.0,50.80 L184.5,50.83 L185.0,50.88 L185.5,50.94 L186.0,51.02 L186.5,51.12 L187.0,51.25 L187.5,51.39 L188.0,51.54 L188.5,51.72 L189.0,51.91 L189.5,52.11 L190.0,52.34 L190.5,52.58 L191.0,52.85 L191.5,53.13 L192.0,53.43 L192.5,53.76 L193.0,54.09 L193.5,54.43 L194.0,54.78 L194.5,55.13 L195.0,55.48 L195.5,55.83 L196.0,56.18 L196.5,56.52 L197.0,56.87 L197.5,57.23 L198.0,57.59 L198.5,57.95 L199.0,58.33 L199.5,58.71 L200.0,59.10 L200.5,59.51 L201.0,59.93 L201.5,60.36 L202.0,60.80 L202.5,61.25 L203.0,61.70 L203.5,62.17 L204.0,62.63 L204.5,63.10 L205.0,63.58 L205.5,64.05 L206.0,64.53 L206.5,65.01 L207.0,65.49 L207.5,65.97 L208.0,66.46 L208.5,66.95 L209.0,67.45 L209.5,67.94 L210.0,68.44 L210.5,68.95 L211.0,69.46 L211.5,69.97 L212.0,70.48 L212.5,71.00 L213.0,71.53 L213.5,72.06 L214.0,72.60 L214.5,73.15 L215.0,73.71 L215.5,74.28 L216.0,74.86 L216.5,75.45 L217.0,76.04 L217.5,76.64 L218.0,77.25 L218.5,77.86 L219.0,78.48 L219.5,79.10 L220.0,79.72 L220.5,80.35 L221.0,80.98 L221.5,81.61 L222.0,82.24 L222.5,82.88 L223.0,83.51 L223.5,84.14 L224.0,84.76 L224.5,85.39 L225.0,86.00 L225.5,86.61 L226.0,87.22 L226.5,87.83 L227.0,88.44 L227.5,89.05 L228.0,89.66 L228.5,90.28 L229.0,90.91 L229.5,91.55 L230.0,92.19 L230.5,92.83 L231.0,93.47 L231.5,94.11 L232.0,94.74 L232.5,95.37 L233.0,96.00 L233.5,96.63 L234.0,97.26 L234.5,97.90 L235.0,98.55 L235.5,99.21 L236.0,99.89 L236.5,100.58 L237.0,101.28 L237.5,101.99 L238.0,102.70 L238.5,103.41 L239.0,104.12 L239.5,104.83 L240.0,105.53 L240.5,106.22 L241.0,106.90 L241.5,107.58 L242.0,108.23 L242.5,108.88 L243.0,109.51 L243.5,110.13 L244.0,110.73 L244.5,111.31 L245.0,111.89 L245.5,112.46 L246.0,113.02 L246.5,113.59 L247.0,114.17 L247.5,114.75 L248.0,115.34 L248.5,115.95 L249.0,116.57 L249.5,117.20 L250.0,117.84 L250.5,118.49 L251.0,119.15 L251.5,119.81 L252.0,120.47 L252.5,121.13 L253.0,121.79 L253.5,122.45 L254.0,123.10 L254.5,123.77 L255.0,124.43 L255.5,125.10 L256.0,125.78 L256.5,126.47 L257.0,127.17 L257.5,127.88 L258.0,128.60 L258.5,129.33 L259.0,130.07 L259.5,130.81 L260.0,131.55 L260.5,132.30 L261.0,133.05 L261.5,133.79 L262.0,134.53 L262.5,135.26 L263.0,135.97 L263.5,136.68 L264.0,137.36 L264.5,138.04 L265.0,138.69 L265.5,139.33 L266.0,139.95 L266.5,140.56 L267.0,141.15 L267.5,141.73 L268.0,142.31 L268.5,142.88 L269.0,143.46 L269.5,144.04 L270.0,144.62 L270.5,145.21 L271.0,145.80 L271.5,146.40 L272.0,147.01 L272.5,147.61 L273.0,148.21 L273.5,148.81 L274.0,149.41 L274.5,150.01 L275.0,150.60 L275.5,151.19 L276.0,151.78 L276.5,152.36 L277.0,152.95 L277.5,153.54 L278.0,154.13 L278.5,154.73 L279.0,155.32 L279.5,155.92 L280.0,156.53 L280.5,157.14 L281.0,157.75 L281.5,158.36 L282.0,158.97 L282.5,159.59 L283.0,160.19 L283.5,160.80 L284.0,161.40 L284.5,161.99 L285.0,162.58 L285.5,163.16 L286.0,163.73 L286.5,164.29 L287.0,164.86 L287.5,165.41 L288.0,165.96 L288.5,166.51 L289.0,167.05 L289.5,167.59 L290.0,168.13 L290.5,168.67 L291.0,169.20 L291.5,169.73 L292.0,170.26 L292.5,170.78 L293.0,171.30 L293.5,171.81 L294.0,172.32 L294.5,172.81 L295.0,173.30 L295.5,173.79 L296.0,174.27 L296.5,174.76 L297.0,175.27 L297.5,175.79 L298.0,176.35 L298.5,176.94 L299.0,177.56 L299.5,178.22 L300.0,178.90 L300.5,179.60 L301.0,180.30 L301.5,181.00 L302.0,181.70 L302.5,182.37 L303.0,183.04 L303.5,183.68 L304.0,184.30 L304.5,184.91 L305.0,185.50 L305.5,186.07 L306.0,186.63 L306.5,187.19 L307.0,187.74 L307.5,188.28 L308.0,188.82 L308.5,189.35 L309.0,189.87 L309.5,190.38 L310.0,190.88 L310.5,191.35 L311.0,191.81 L311.5,192.25 L312.0,192.66 L312.5,193.06 L313.0,193.44 L313.5,193.81 L314.0,194.16 L314.5,194.50 L315.0,194.83 L315.5,195.16 L316.0,195.47 L316.5,195.78 L317.0,196.09 L317.5,196.40 L318.0,196.70 L318.5,197.00 L319.0,197.30 L319.5,197.59 L320.0,197.88 L320.5,198.14 L321.0,198.40 L321.5,198.63 L322.0,198.85 L322.5,199.06 L323.0,199.26 L323.5,199.46 L324.0,199.66 L324.5,199.87 L325.0,200.09 L325.5,200.31 L326.0,200.53 L326.5,200.76 L327.0,200.98 L327.5,201.21 L328.0,201.43 L328.5,201.66 L329.0,201.89 L329.5,202.12 L330.0,202.35 L330.5,202.60 L331.0,202.86 L331.5,203.13 L332.0,203.42 L332.5,203.72 L333.0,204.04 L333.5,204.36 L334.0,204.69 L334.5,205.02 L335.0,205.34 L335.5,205.65 L336.0,205.95 L336.5,206.24 L337.0,206.51 L337.5,206.77 L338.0,207.03 L338.5,207.28 L339.0,207.52 L339.5,207.76 L340.0,207.99 L340.5,208.22 L341.0,208.45 L341.5,208.67 L342.0,208.89 L342.5,209.11 L343.0,209.32 L343.5,209.54 L344.0,209.75 L344.5,209.96 L345.0,210.17 L345.5,210.38 L346.0,210.59 L346.5,210.80 L347.0,211.00 L347.5,211.21 L348.0,211.41 L348.5,211.61 L349.0,211.80 L349.5,211.99 L350.0,212.17 L350.5,212.35 L351.0,212.52 L351.5,212.69 L352.0,212.85 L352.5,213.02 L353.0,213.17 L353.5,213.33 L354.0,213.48 L354.5,213.63 L355.0,213.77 L355.5,213.91 L356.0,214.04 L356.5,214.16 L357.0,214.27" stroke="#60b820"/>
<path d="M79.0,225.07 L79.5,224.67 L80.0,224.23 L80.5,223.77 L81.0,223.31 L81.5,222.82 L82.0,222.33 L82.5,221.81 L83.0,221.28 L83.5,220.73 L84.0,220.16 L84.5,219.59 L85.0,219.01 L85.5,218.42 L86.0,217.82 L86.5,217.20 L87.0,216.55 L87.5,215.89 L88.0,215.20 L88.5,214.50 L89.0,213.77 L89.5,213.02 L90.0,212.27 L90.5,211.51 L91.0,210.75 L91.5,209.98 L92.0,209.20 L92.5,208.41 L93.0,207.60 L93.5,206.77 L94.0,205.92 L94.5,205.04 L95.0,204.14 L95.5,203.22 L96.0,202.28 L96.5,201.33 L97.0,200.37 L97.5,199.42 L98.0,198.47 L98.5,197.52 L99.0,196.58 L99.5,195.64 L100.0,194.68 L100.5,193.71 L101.0,192.71 L101.5,191.69 L102.0,190.63 L102.5,189.53 L103.0,188.40 L103.5,187.24 L104.0,186.05 L104.5,184.86 L105.0,183.66 L105.5,182.47 L106.0,181.31 L106.5,180.17 L107.0,179.06 L107.5,177.97 L108.0,176.88 L108.5,175.79 L109.0,174.68 L109.5,173.53 L110.0,172.35 L110.5,171.14 L111.0,169.89 L111.5,168.61 L112.0,167.30 L112.5,165.98 L113.0,164.67 L113.5,163.36 L114.0,162.07 L114.5,160.81 L115.0,159.58 L115.5,158.37 L116.0,157.17 L116.5,155.98 L117.0,154.79 L117.5,153.58 L118.0,152.36 L118.5,151.11 L119.0,149.84 L119.5,148.55 L120.0,147.24 L120.5,145.92 L121.0,144.59 L121.5,143.27 L122.0,141.96 L122.5,140.67 L123.0,139.40 L123.5,138.16 L124.0,136.95 L124.5,135.77 L125.0,134.60 L125.5,133.45 L126.0,132.31 L126.5,131.16 L127.0,130.01 L127.5,128.85 L128.0,127.68 L128.5,126.49 L129.0,125.28 L129.5,124.06 L130.0,122.81 L130.5,121.55 L131.0,120.26 L131.5,118.94 L132.0,117.60 L132.5,116.24 L133.0,114.86 L133.5,113.47 L134.0,112.08 L134.5,110.72 L135.0,109.38 L135.5,108.09 L136.0,106.86 L136.5,105.69 L137.0,104.57 L137.5,103.50 L138.0,102.48 L138.5,101.48 L139.0,100.50 L139.5,99.52 L140.0,98.54 L140.5,97.54 L141.0,96.53 L141.5,95.49 L142.0,94.44 L142.5,93.38 L143.0,92.30 L143.5,91.21 L144.0,90.12 L144.5,89.01 L145.0,87.91 L145.5,86.79 L146.0,85.68 L146.5,84.56 L147.0,83.44 L147.5,82.33 L148.0,81.22 L148.5,80.13 L149.0,79.05 L149.5,78.00 L150.0,76.96 L150.5,75.95 L151.0,74.97 L151.5,74.01 L152.0,73.08 L152.5,72.18 L153.0,71.31 L153.5,70.46 L154.0,69.65 L154.5,68.86 L155.0,68.10 L155.5,67.38 L156.0,66.69 L156.5,66.04 L157.0,65.42 L157.5,64.84 L158.0,64.29 L158.5,63.78 L159.0,63.29 L159.5,62.83 L160.0,62.40 L160.5,61.99 L161.0,61.60 L161.5,61.23 L162.0,60.88 L162.5,60.55 L163.0,60.25 L163.5,59.96 L164.0,59.68 L164.5,59.43 L165.0,59.20 L165.5,58.98 L166.0,58.78 L166.5,58.59 L167.0,58.41 L167.5,58.25 L168.0,58.10 L168.5,57.96 L169.0,57.83 L169.5,57.71 L170.0,57.61 L170.5,57.51 L171.0,57.42 L171.5,57.33 L172.0,57.26 L172.5,57.19 L173.0,57.12 L173.5,57.06 L174.0,57.01 L174.5,56.96 L175.0,56.91 L175.5,56.87 L176.0,56.83 L176.5,56.80 L177.0,56.77 L177.5,56.74 L178.0,56.72 L178.5,56.69 L179.0,56.67 L179.5,56.66 L180.0,56.65 L180.5,56.64 L181.0,56.63 L181.5,56.63 L182.0,56.63 L182.5,56.63 L183.0,56.64 L183.5,56.66 L184.0,56.68 L184.5,56.71 L185.0,56.76 L185.5,56.82 L186.0,56.91 L186.5,57.01 L187.0,57.14 L187.5,57.28 L188.0,57.45 L188.5,57.63 L189.0,57.83 L189.5,58.04 L190.0,58.27 L190.5,58.51 L191.0,58.77 L191.5,59.06 L192.0,59.36 L192.5,59.67 L193.0,60.00 L193.5,60.33 L194.0,60.67 L194.5,61.02 L195.0,61.36 L195.5,61.71 L196.0,62.05 L196.5,62.40 L197.0,62.75 L197.5,63.10 L198.0,63.46 L198.5,63.82 L199.0,64.19 L199.5,64.57 L200.0,64.96 L200.5,65.36 L201.0,65.76 L201.5,66.18 L202.0,66.60 L202.5,67.04 L203.0,67.48 L203.5,67.92 L204.0,68.37 L204.5,68.82 L205.0,69.28 L205.5,69.74 L206.0,70.20 L206.5,70.67 L207.0,71.14 L207.5,71.61 L208.0,72.09 L208.5,72.57 L209.0,73.05 L209.5,73.53 L210.0,74.01 L210.5,74.50 L211.0,74.99 L211.5,75.48 L212.0,75.98 L212.5,76.47 L213.0,76.98 L213.5,77.49 L214.0,78.00 L214.5,78.53 L215.0,79.06 L215.5,79.61 L216.0,80.16 L216.5,80.72 L217.0,81.28 L217.5,81.86 L218.0,82.44 L218.5,83.02 L219.0,83.61 L219.5,84.20 L220.0,84.80 L220.5,85.40 L221.0,86.00 L221.5,86.60 L222.0,87.21 L222.5,87.82 L223.0,88.43 L223.5,89.03 L224.0,89.64 L224.5,90.24 L225.0,90.84 L225.5,91.44 L226.0,92.04 L226.5,92.63 L227.0,93.23 L227.5,93.83 L228.0,94.43 L228.5,95.04 L229.0,95.65 L229.5,96.27 L230.0,96.88 L230.5,97.50 L231.0,98.11 L231.5,98.72 L232.0,99.32 L232.5,99.92 L233.0,100.51 L233.5,101.11 L234.0,101.71 L234.5,102.32 L235.0,102.94 L235.5,103.57 L236.0,104.21 L236.5,104.87 L237.0,105.54 L237.5,106.22 L238.0,106.90 L238.5,107.59 L239.0,108.27 L239.5,108.95 L240.0,109.61 L240.5,110.27 L241.0,110.92 L241.5,111.56 L242.0,112.19 L242.5,112.80 L243.0,113.41 L243.5,114.00 L244.0,114.58 L244.5,115.15 L245.0,115.72 L245.5,116.27 L246.0,116.83 L246.5,117.39 L247.0,117.96 L247.5,118.53 L248.0,119.11 L248.5,119.70 L249.0,120.30 L249.5,120.90 L250.0,121.52 L250.5,122.14 L251.0,122.77 L251.5,123.40 L252.0,124.03 L252.5,124.66 L253.0,125.29 L253.5,125.92 L254.0,126.55 L254.5,127.18 L255.0,127.82 L255.5,128.47 L256.0,129.12 L256.5,129.79 L257.0,130.47 L257.5,131.16 L258.0,131.86 L258.5,132.57 L259.0,133.29 L259.5,134.01 L260.0,134.74 L260.5,135.47 L261.0,136.21 L261.5,136.93 L262.0,137.66 L262.5,138.37 L263.0,139.07 L263.5,139.76 L264.0,140.43 L264.5,141.09 L265.0,141.73 L265.5,142.35 L266.0,142.95 L266.5,143.53 L267.0,144.10 L267.5,144.67 L268.0,145.22 L268.5,145.77 L269.0,146.32 L269.5,146.88 L270.0,147.44 L270.5,148.01 L271.0,148.58 L271.5,149.16 L272.0,149.74 L272.5,150.33 L273.0,150.91 L273.5,151.49 L274.0,152.06 L274.5,152.64 L275.0,153.20 L275.5,153.77 L276.0,154.33 L276.5,154.89 L277.0,155.45 L277.5,156.01 L278.0,156.57 L278.5,157.14 L279.0,157.71 L279.5,158.28 L280.0,158.85 L280.5,159.43 L281.0,160.00 L281.5,160.58 L282.0,161.16 L282.5,161.74 L283.0,162.32 L283.5,162.89 L284.0,163.46 L284.5,164.02 L285.0,164.58 L285.5,165.14 L286.0,165.70 L286.5,166.25 L287.0,166.80 L287.5,167.34 L288.0,167.88 L288.5,168.42 L289.0,168.96 L289.5,169.49 L290.0,170.02 L290.5,170.55 L291.0,171.08 L291.5,171.60 L292.0,172.13 L292.5,172.65 L293.0,173.16 L293.5,173.67 L294.0,174.17 L294.5,174.67 L295.0,175.16 L295.5,175.65 L296.0,176.14 L296.5,176.64 L297.0,177.14 L297.5,177.67 L298.0,178.23 L298.5,178.82 L299.0,179.44 L299.5,180.10 L300.0,180.77 L300.5,181.46 L301.0,182.15 L301.5,182.84 L302.0,183.53 L302.5,184.19 L303.0,184.84 L303.5,185.48 L304.0,186.09 L304.5,186.68 L305.0,187.25 L305.5,187.81 L306.0,188.35 L306.5,188.89 L307.0,189.41 L307.5,189.93 L308.0,190.44 L308.5,190.95 L309.0,191.44 L309.5,191.93 L310.0,192.39 L310.5,192.84 L311.0,193.27 L311.5,193.69 L312.0,194.08 L312.5,194.46 L313.0,194.82 L313.5,195.17 L314.0,195.50 L314.5,195.83 L315.0,196.14 L315.5,196.45 L316.0,196.75 L316.5,197.05 L317.0,197.34 L317.5,197.63 L318.0,197.92 L318.5,198.20 L319.0,198.48 L319.5,198.75 L320.0,199.02 L320.5,199.26 L321.0,199.49 L321.5,199.71 L322.0,199.92 L322.5,200.11 L323.0,200.31 L323.5,200.51 L324.0,200.71 L324.5,200.93 L325.0,201.15 L325.5,201.38 L326.0,201.62 L326.5,201.86 L327.0,202.10 L327.5,202.33 L328.0,202.57 L328.5,202.81 L329.0,203.04 L329.5,203.28 L330.0,203.53 L330.5,203.78 L331.0,204.04 L331.5,204.30 L332.0,204.59 L332.5,204.88 L333.0,205.19 L333.5,205.50 L334.0,205.81 L334.5,206.12 L335.0,206.43 L335.5,206.72 L336.0,207.00 L336.5,207.28 L337.0,207.54 L337.5,207.79 L338.0,208.03 L338.5,208.27 L339.0,208.50 L339.5,208.73 L340.0,208.95 L340.5,209.17 L341.0,209.39 L341.5,209.60 L342.0,209.81 L342.5,210.01 L343.0,210.22 L343.5,210.42 L344.0,210.62 L344.5,210.82 L345.0,211.02 L345.5,211.22 L346.0,211.41 L346.5,211.61 L347.0,211.81 L347.5,212.00 L348.0,212.20 L348.5,212.38 L349.0,212.57 L349.5,212.75 L350.0,212.92 L350.5,213.09 L351.0,213.25 L351.5,213.41 L352.0,213.57 L352.5,213.72 L353.0,213.87 L353.5,214.01 L354.0,214.16 L354.5,214.30 L355.0,214.43 L355.5,214.56 L356.0,214.69 L356.5,214.81 L357.0,214.91" stroke="#404040"/>
<path d="M79.0,225.75 L79.5,225.34 L80.0,224.91 L80.5,224.46 L81.0,223.99 L81.5,223.51 L82.0,223.01 L82.5,222.50 L83.0,221.97 L83.5,221.43 L84.0,220.88 L84.5,220.32 L85.0,219.75 L85.5,219.18 L86.0,218.59 L86.5,217.99 L87.0,217.37 L87.5,216.73 L88.0,216.07 L88.5,215.39 L89.0,214.70 L89.5,213.99 L90.0,213.28 L90.5,212.56 L91.0,211.83 L91.5,211.10 L92.0,210.36 L92.5,209.60 L93.0,208.83 L93.5,208.04 L94.0,207.22 L94.5,206.37 L95.0,205.50 L95.5,204.60 L96.0,203.69 L96.5,202.76 L97.0,201.83 L97.5,200.89 L98.0,199.96 L98.5,199.02 L99.0,198.10 L99.5,197.16 L100.0,196.22 L100.5,195.27 L101.0,194.30 L101.5,193.30 L102.0,192.26 L102.5,191.19 L103.0,190.09 L103.5,188.95 L104.0,187.79 L104.5,186.62 L105.0,185.44 L105.5,184.28 L106.0,183.14 L106.5,182.03 L107.0,180.95 L107.5,179.89 L108.0,178.83 L108.5,177.77 L109.0,176.68 L109.5,175.56 L110.0,174.40 L110.5,173.20 L111.0,171.95 L111.5,170.68 L112.0,169.38 L112.5,168.06 L113.0,166.75 L113.5,165.44 L114.0,164.16 L114.5,162.91 L115.0,161.70 L115.5,160.51 L116.0,159.34 L116.5,158.18 L117.0,157.02 L117.5,155.85 L118.0,154.67 L118.5,153.47 L119.0,152.25 L119.5,151.02 L120.0,149.77 L120.5,148.51 L121.0,147.24 L121.5,145.98 L122.0,144.73 L122.5,143.49 L123.0,142.28 L123.5,141.09 L124.0,139.92 L124.5,138.77 L125.0,137.63 L125.5,136.50 L126.0,135.38 L126.5,134.25 L127.0,133.11 L127.5,131.96 L128.0,130.80 L128.5,129.62 L129.0,128.42 L129.5,127.21 L130.0,125.98 L130.5,124.73 L131.0,123.46 L131.5,122.17 L132.0,120.87 L132.5,119.54 L133.0,118.20 L133.5,116.85 L134.0,115.51 L134.5,114.18 L135.0,112.89 L135.5,111.65 L136.0,110.45 L136.5,109.31 L137.0,108.23 L137.5,107.19 L138.0,106.19 L138.5,105.21 L139.0,104.25 L139.5,103.29 L140.0,102.31 L140.5,101.33 L141.0,100.32 L141.5,99.30 L142.0,98.26 L142.5,97.21 L143.0,96.14 L143.5,95.07 L144.0,93.99 L144.5,92.91 L145.0,91.82 L145.5,90.73 L146.0,89.64 L146.5,88.54 L147.0,87.45 L147.5,86.37 L148.0,85.29 L148.5,84.22 L149.0,83.17 L149.5,82.13 L150.0,81.12 L150.5,80.13 L151.0,79.17 L151.5,78.23 L152.0,77.32 L152.5,76.45 L153.0,75.60 L153.5,74.78 L154.0,73.99 L154.5,73.24 L155.0,72.52 L155.5,71.83 L156.0,71.17 L156.5,70.55 L157.0,69.97 L157.5,69.42 L158.0,68.90 L158.5,68.42 L159.0,67.96 L159.5,67.52 L160.0,67.12 L160.5,66.73 L161.0,66.36 L161.5,66.02 L162.0,65.69 L162.5,65.39 L163.0,65.10 L163.5,64.82 L164.0,64.57 L164.5,64.33 L165.0,64.11 L165.5,63.91 L166.0,63.71 L166.5,63.54 L167.0,63.37 L167.5,63.22 L168.0,63.07 L168.5,62.94 L169.0,62.82 L169.5,62.71 L170.0,62.60 L170.5,62.51 L171.0,62.42 L171.5,62.34 L172.0,62.26 L172.5,62.20 L173.0,62.13 L173.5,62.07 L174.0,62.02 L174.5,61.97 L175.0,61.92 L175.5,61.88 L176.0,61.85 L176.5,61.81 L177.0,61.78 L177.5,61.75 L178.0,61.72 L178.5,61.70 L179.0,61.68 L179.5,61.66 L180.0,61.65 L180.5,61.64 L181.0,61.63 L181.5,61.63 L182.0,61.63 L182.5,61.63 L183.0,61.63 L183.5,61.65 L184.0,61.67 L184.5,61.70 L185.0,61.75 L185.5,61.81 L186.0,61.90 L186.5,62.00 L187.0,62.13 L187.5,62.28 L188.0,62.45 L188.5,62.64 L189.0,62.84 L189.5,63.06 L190.0,63.29 L190.5,63.54 L191.0,63.80 L191.5,64.08 L192.0,64.37 L192.5,64.68 L193.0,65.00 L193.5,65.33 L194.0,65.67 L194.5,66.01 L195.0,66.35 L195.5,66.69 L196.0,67.03 L196.5,67.38 L197.0,67.73 L197.5,68.08 L198.0,68.43 L198.5,68.80 L199.0,69.16 L199.5,69.54 L200.0,69.92 L200.5,70.31 L201.0,70.71 L201.5,71.11 L202.0,71.52 L202.5,71.94 L203.0,72.37 L203.5,72.80 L204.0,73.23 L204.5,73.67 L205.0,74.11 L205.5,74.56 L206.0,75.01 L206.5,75.47 L207.0,75.93 L207.5,76.39 L208.0,76.86 L208.5,77.32 L209.0,77.79 L209.5,78.26 L210.0,78.73 L210.5,79.21 L211.0,79.68 L211.5,80.15 L212.0,80.63 L212.5,81.11 L213.0,81.59 L213.5,82.08 L214.0,82.58 L214.5,83.08 L215.0,83.60 L215.5,84.12 L216.0,84.64 L216.5,85.18 L217.0,85.72 L217.5,86.27 L218.0,86.83 L218.5,87.39 L219.0,87.95 L219.5,88.52 L220.0,89.09 L220.5,89.67 L221.0,90.25 L221.5,90.83 L222.0,91.42 L222.5,92.01 L223.0,92.59 L223.5,93.18 L224.0,93.77 L224.5,94.36 L225.0,94.95 L225.5,95.53 L226.0,96.12 L226.5,96.71 L227.0,97.29 L227.5,97.88 L228.0,98.48 L228.5,99.07 L229.0,99.67 L229.5,100.27 L230.0,100.86 L230.5,101.45 L231.0,102.04 L231.5,102.62 L232.0,103.20 L232.5,103.77 L233.0,104.34 L233.5,104.91 L234.0,105.48 L234.5,106.06 L235.0,106.65 L235.5,107.26 L236.0,107.88 L236.5,108.51 L237.0,109.16 L237.5,109.81 L238.0,110.47 L238.5,111.13 L239.0,111.78 L239.5,112.43 L240.0,113.08 L240.5,113.71 L241.0,114.33 L241.5,114.94 L242.0,115.54 L242.5,116.13 L243.0,116.71 L243.5,117.28 L244.0,117.85 L244.5,118.41 L245.0,118.96 L245.5,119.51 L246.0,120.06 L246.5,120.61 L247.0,121.17 L247.5,121.73 L248.0,122.30 L248.5,122.87 L249.0,123.45 L249.5,124.04 L250.0,124.64 L250.5,125.24 L251.0,125.84 L251.5,126.44 L252.0,127.05 L252.5,127.65 L253.0,128.26 L253.5,128.86 L254.0,129.47 L254.5,130.08 L255.0,130.69 L255.5,131.32 L256.0,131.95 L256.5,132.60 L257.0,133.26 L257.5,133.93 L258.0,134.62 L258.5,135.31 L259.0,136.02 L259.5,136.73 L260.0,137.44 L260.5,138.16 L261.0,138.88 L261.5,139.60 L262.0,140.31 L262.5,141.01 L263.0,141.70 L263.5,142.37 L264.0,143.03 L264.5,143.67 L265.0,144.30 L265.5,144.90 L266.0,145.49 L266.5,146.06 L267.0,146.61 L267.5,147.15 L268.0,147.69 L268.5,148.22 L269.0,148.75 L269.5,149.29 L270.0,149.83 L270.5,150.38 L271.0,150.93 L271.5,151.50 L272.0,152.06 L272.5,152.63 L273.0,153.19 L273.5,153.75 L274.0,154.31 L274.5,154.86 L275.0,155.41 L275.5,155.95 L276.0,156.49 L276.5,157.03 L277.0,157.57 L277.5,158.10 L278.0,158.64 L278.5,159.18 L279.0,159.73 L279.5,160.27 L280.0,160.82 L280.5,161.37 L281.0,161.92 L281.5,162.47 L282.0,163.02 L282.5,163.57 L283.0,164.12 L283.5,164.66 L284.0,165.20 L284.5,165.74 L285.0,166.28 L285.5,166.82 L286.0,167.36 L286.5,167.90 L287.0,168.44 L287.5,168.98 L288.0,169.51 L288.5,170.04 L289.0,170.57 L289.5,171.10 L290.0,171.63 L290.5,172.15 L291.0,172.67 L291.5,173.19 L292.0,173.71 L292.5,174.23 L293.0,174.74 L293.5,175.25 L294.0,175.75 L294.5,176.25 L295.0,176.74 L295.5,177.23 L296.0,177.72 L296.5,178.22 L297.0,178.73 L297.5,179.27 L298.0,179.82 L298.5,180.42 L299.0,181.04 L299.5,181.69 L300.0,182.36 L300.5,183.04 L301.0,183.72 L301.5,184.41 L302.0,185.08 L302.5,185.74 L303.0,186.38 L303.5,187.00 L304.0,187.60 L304.5,188.18 L305.0,188.74 L305.5,189.28 L306.0,189.81 L306.5,190.33 L307.0,190.84 L307.5,191.33 L308.0,191.82 L308.5,192.31 L309.0,192.78 L309.5,193.24 L310.0,193.68 L310.5,194.11 L311.0,194.52 L311.5,194.91 L312.0,195.29 L312.5,195.65 L313.0,195.99 L313.5,196.32 L314.0,196.64 L314.5,196.95 L315.0,197.26 L315.5,197.55 L316.0,197.84 L316.5,198.12 L317.0,198.40 L317.5,198.68 L318.0,198.95 L318.5,199.22 L319.0,199.48 L319.5,199.74 L320.0,199.98 L320.5,200.21 L321.0,200.43 L321.5,200.63 L322.0,200.82 L322.5,201.01 L323.0,201.20 L323.5,201.39 L324.0,201.60 L324.5,201.82 L325.0,202.05 L325.5,202.29 L326.0,202.54 L326.5,202.79 L327.0,203.04 L327.5,203.29 L328.0,203.53 L328.5,203.78 L329.0,204.03 L329.5,204.27 L330.0,204.52 L330.5,204.77 L331.0,205.03 L331.5,205.30 L332.0,205.58 L332.5,205.87 L333.0,206.16 L333.5,206.46 L334.0,206.76 L334.5,207.05 L335.0,207.34 L335.5,207.62 L336.0,207.90 L336.5,208.16 L337.0,208.41 L337.5,208.65 L338.0,208.88 L338.5,209.11 L339.0,209.34 L339.5,209.56 L340.0,209.77 L340.5,209.98 L341.0,210.19 L341.5,210.39 L342.0,210.58 L342.5,210.78 L343.0,210.97 L343.5,211.16 L344.0,211.35 L344.5,211.54 L345.0,211.73 L345.5,211.92 L346.0,212.11 L346.5,212.30 L347.0,212.49 L347.5,212.68 L348.0,212.86 L348.5,213.04 L349.0,213.22 L349.5,213.39 L350.0,213.55 L350.5,213.72 L351.0,213.87 L351.5,214.02 L352.0,214.17 L352.5,214.31 L353.0,214.46 L353.5,214.59 L354.0,214.73 L354.5,214.86 L355.0,214.99 L355.5,215.12 L356.0,215.24 L356.5,215.35 L357.0,215.45" stroke="#e8323a"/>
<path d="M79.0,226.07 L79.5,225.67 L80.0,225.24 L80.5,224.79 L81.0,224.32 L81.5,223.84 L82.0,223.34 L82.5,222.83 L83.0,222.30 L83.5,221.77 L84.0,221.22 L84.5,220.67 L85.0,220.11 L85.5,219.55 L86.0,218.97 L86.5,218.38 L87.0,217.77 L87.5,217.14 L88.0,216.49 L88.5,215.83 L89.0,215.15 L89.5,214.46 L90.0,213.76 L90.5,213.06 L91.0,212.35 L91.5,211.64 L92.0,210.92 L92.5,210.18 L93.0,209.42 L93.5,208.64 L94.0,207.84 L94.5,207.01 L95.0,206.15 L95.5,205.27 L96.0,204.37 L96.5,203.45 L97.0,202.52 L97.5,201.60 L98.0,200.67 L98.5,199.74 L99.0,198.82 L99.5,197.90 L100.0,196.96 L100.5,196.02 L101.0,195.06 L101.5,194.07 L102.0,193.05 L102.5,191.99 L103.0,190.90 L103.5,189.78 L104.0,188.62 L104.5,187.46 L105.0,186.29 L105.5,185.14 L106.0,184.02 L106.5,182.92 L107.0,181.85 L107.5,180.81 L108.0,179.77 L108.5,178.72 L109.0,177.64 L109.5,176.53 L110.0,175.38 L110.5,174.18 L111.0,172.95 L111.5,171.67 L112.0,170.37 L112.5,169.06 L113.0,167.75 L113.5,166.44 L114.0,165.17 L114.5,163.93 L115.0,162.72 L115.5,161.54 L116.0,160.38 L116.5,159.24 L117.0,158.09 L117.5,156.94 L118.0,155.78 L118.5,154.61 L119.0,153.41 L119.5,152.20 L120.0,150.98 L120.5,149.75 L121.0,148.51 L121.5,147.28 L122.0,146.06 L122.5,144.85 L123.0,143.66 L123.5,142.49 L124.0,141.34 L124.5,140.20 L125.0,139.08 L125.5,137.97 L126.0,136.85 L126.5,135.73 L127.0,134.60 L127.5,133.46 L128.0,132.30 L128.5,131.12 L129.0,129.93 L129.5,128.72 L130.0,127.50 L130.5,126.26 L131.0,125.00 L131.5,123.73 L132.0,122.43 L132.5,121.12 L133.0,119.80 L133.5,118.47 L134.0,117.15 L134.5,115.85 L135.0,114.58 L135.5,113.35 L136.0,112.18 L136.5,111.06 L137.0,109.99 L137.5,108.96 L138.0,107.97 L138.5,107.01 L139.0,106.05 L139.5,105.09 L140.0,104.12 L140.5,103.14 L141.0,102.14 L141.5,101.12 L142.0,100.09 L142.5,99.04 L143.0,97.99 L143.5,96.92 L144.0,95.85 L144.5,94.78 L145.0,93.70 L145.5,92.62 L146.0,91.54 L146.5,90.46 L147.0,89.38 L147.5,88.31 L148.0,87.24 L148.5,86.19 L149.0,85.15 L149.5,84.12 L150.0,83.12 L150.5,82.14 L151.0,81.18 L151.5,80.26 L152.0,79.36 L152.5,78.49 L153.0,77.66 L153.5,76.85 L154.0,76.08 L154.5,75.34 L155.0,74.63 L155.5,73.96 L156.0,73.32 L156.5,72.72 L157.0,72.15 L157.5,71.62 L158.0,71.11 L158.5,70.64 L159.0,70.20 L159.5,69.78 L160.0,69.38 L160.5,69.01 L161.0,68.65 L161.5,68.32 L162.0,68.00 L162.5,67.71 L163.0,67.43 L163.5,67.16 L164.0,66.92 L164.5,66.68 L165.0,66.47 L165.5,66.27 L166.0,66.09 L166.5,65.91 L167.0,65.75 L167.5,65.60 L168.0,65.46 L168.5,65.33 L169.0,65.21 L169.5,65.10 L170.0,65.00 L170.5,64.91 L171.0,64.82 L171.5,64.74 L172.0,64.67 L172.5,64.60 L173.0,64.54 L173.5,64.48 L174.0,64.42 L174.5,64.38 L175.0,64.33 L175.5,64.29 L176.0,64.25 L176.5,64.22 L177.0,64.18 L177.5,64.16 L178.0,64.13 L178.5,64.11 L179.0,64.09 L179.5,64.07 L180.0,64.05 L180.5,64.04 L181.0,64.03 L181.5,64.03 L182.0,64.03 L182.5,64.03 L183.0,64.03 L183.5,64.04 L184.0,64.06 L184.5,64.09 L185.0,64.14 L185.5,64.20 L186.0,64.29 L186.5,64.40 L187.0,64.53 L187.5,64.68 L188.0,64.86 L188.5,65.05 L189.0,65.25 L189.5,65.47 L190.0,65.70 L190.5,65.95 L191.0,66.21 L191.5,66.49 L192.0,66.78 L192.5,67.09 L193.0,67.41 L193.5,67.73 L194.0,68.07 L194.5,68.40 L195.0,68.74 L195.5,69.08 L196.0,69.42 L196.5,69.77 L197.0,70.12 L197.5,70.47 L198.0,70.82 L198.5,71.18 L199.0,71.55 L199.5,71.92 L200.0,72.30 L200.5,72.69 L201.0,73.08 L201.5,73.48 L202.0,73.88 L202.5,74.30 L203.0,74.71 L203.5,75.14 L204.0,75.57 L204.5,76.00 L205.0,76.44 L205.5,76.88 L206.0,77.32 L206.5,77.77 L207.0,78.23 L207.5,78.69 L208.0,79.15 L208.5,79.61 L209.0,80.07 L209.5,80.54 L210.0,81.00 L210.5,81.47 L211.0,81.93 L211.5,82.40 L212.0,82.86 L212.5,83.34 L213.0,83.81 L213.5,84.29 L214.0,84.78 L214.5,85.27 L215.0,85.77 L215.5,86.28 L216.0,86.80 L216.5,87.32 L217.0,87.85 L217.5,88.39 L218.0,88.94 L218.5,89.49 L219.0,90.04 L219.5,90.60 L220.0,91.16 L220.5,91.72 L221.0,92.29 L221.5,92.86 L222.0,93.44 L222.5,94.02 L223.0,94.60 L223.5,95.18 L224.0,95.76 L224.5,96.34 L225.0,96.92 L225.5,97.50 L226.0,98.08 L226.5,98.66 L227.0,99.25 L227.5,99.83 L228.0,100.42 L228.5,101.01 L229.0,101.60 L229.5,102.19 L230.0,102.77 L230.5,103.35 L231.0,103.93 L231.5,104.50 L232.0,105.06 L232.5,105.62 L233.0,106.18 L233.5,106.73 L234.0,107.29 L234.5,107.86 L235.0,108.44 L235.5,109.03 L236.0,109.64 L236.5,110.26 L237.0,110.89 L237.5,111.53 L238.0,112.18 L238.5,112.83 L239.0,113.47 L239.5,114.11 L240.0,114.74 L240.5,115.36 L241.0,115.96 L241.5,116.56 L242.0,117.15 L242.5,117.73 L243.0,118.30 L243.5,118.86 L244.0,119.42 L244.5,119.97 L245.0,120.51 L245.5,121.06 L246.0,121.61 L246.5,122.16 L247.0,122.71 L247.5,123.27 L248.0,123.83 L248.5,124.40 L249.0,124.97 L249.5,125.55 L250.0,126.13 L250.5,126.72 L251.0,127.31 L251.5,127.91 L252.0,128.50 L252.5,129.09 L253.0,129.68 L253.5,130.27 L254.0,130.87 L254.5,131.47 L255.0,132.07 L255.5,132.69 L256.0,133.31 L256.5,133.95 L257.0,134.60 L257.5,135.27 L258.0,135.94 L258.5,136.63 L259.0,137.33 L259.5,138.03 L260.0,138.74 L260.5,139.45 L261.0,140.16 L261.5,140.87 L262.0,141.58 L262.5,142.27 L263.0,142.96 L263.5,143.62 L264.0,144.28 L264.5,144.91 L265.0,145.53 L265.5,146.13 L266.0,146.71 L266.5,147.27 L267.0,147.81 L267.5,148.35 L268.0,148.87 L268.5,149.39 L269.0,149.92 L269.5,150.44 L270.0,150.97 L270.5,151.52 L271.0,152.06 L271.5,152.62 L272.0,153.17 L272.5,153.73 L273.0,154.29 L273.5,154.84 L274.0,155.39 L274.5,155.93 L275.0,156.47 L275.5,157.00 L276.0,157.53 L276.5,158.06 L277.0,158.58 L277.5,159.11 L278.0,159.63 L278.5,160.16 L279.0,160.69 L279.5,161.23 L280.0,161.76 L280.5,162.30 L281.0,162.84 L281.5,163.37 L282.0,163.91 L282.5,164.44 L283.0,164.98 L283.5,165.51 L284.0,166.04 L284.5,166.57 L285.0,167.10 L285.5,167.63 L286.0,168.17 L286.5,168.70 L287.0,169.23 L287.5,169.76 L288.0,170.29 L288.5,170.82 L289.0,171.35 L289.5,171.87 L290.0,172.39 L290.5,172.92 L291.0,173.44 L291.5,173.95 L292.0,174.47 L292.5,174.98 L293.0,175.49 L293.5,176.00 L294.0,176.50 L294.5,177.00 L295.0,177.50 L295.5,177.99 L296.0,178.48 L296.5,178.98 L297.0,179.50 L297.5,180.03 L298.0,180.59 L298.5,181.18 L299.0,181.80 L299.5,182.45 L300.0,183.12 L300.5,183.80 L301.0,184.48 L301.5,185.16 L302.0,185.82 L302.5,186.48 L303.0,187.11 L303.5,187.73 L304.0,188.32 L304.5,188.90 L305.0,189.45 L305.5,189.99 L306.0,190.51 L306.5,191.02 L307.0,191.52 L307.5,192.01 L308.0,192.49 L308.5,192.96 L309.0,193.42 L309.5,193.86 L310.0,194.30 L310.5,194.71 L311.0,195.11 L311.5,195.50 L312.0,195.86 L312.5,196.21 L313.0,196.55 L313.5,196.88 L314.0,197.19 L314.5,197.49 L315.0,197.79 L315.5,198.08 L316.0,198.36 L316.5,198.64 L317.0,198.91 L317.5,199.18 L318.0,199.45 L318.5,199.71 L319.0,199.96 L319.5,200.21 L320.0,200.44 L320.5,200.67 L321.0,200.87 L321.5,201.07 L322.0,201.25 L322.5,201.44 L323.0,201.62 L323.5,201.82 L324.0,202.02 L324.5,202.24 L325.0,202.48 L325.5,202.72 L326.0,202.98 L326.5,203.23 L327.0,203.49 L327.5,203.74 L328.0,204.00 L328.5,204.25 L329.0,204.50 L329.5,204.75 L330.0,205.00 L330.5,205.25 L331.0,205.51 L331.5,205.78 L332.0,206.06 L332.5,206.34 L333.0,206.63 L333.5,206.92 L334.0,207.21 L334.5,207.50 L335.0,207.78 L335.5,208.06 L336.0,208.32 L336.5,208.58 L337.0,208.82 L337.5,209.06 L338.0,209.29 L338.5,209.52 L339.0,209.74 L339.5,209.95 L340.0,210.16 L340.5,210.37 L341.0,210.57 L341.5,210.76 L342.0,210.96 L342.5,211.15 L343.0,211.34 L343.5,211.52 L344.0,211.71 L344.5,211.89 L345.0,212.08 L345.5,212.26 L346.0,212.45 L346.5,212.63 L347.0,212.82 L347.5,213.00 L348.0,213.18 L348.5,213.36 L349.0,213.53 L349.5,213.70 L350.0,213.86 L350.5,214.02 L351.0,214.17 L351.5,214.32 L352.0,214.46 L352.5,214.60 L353.0,214.74 L353.5,214.87 L354.0,215.00 L354.5,215.13 L355.0,215.26 L355.5,215.38 L356.0,215.50 L356.5,215.61 L357.0,215.71" stroke="#1f5fd0"/>
<path d="M79.0,226.34 L79.5,225.94 L80.0,225.51 L80.5,225.06 L81.0,224.59 L81.5,224.11 L82.0,223.61 L82.5,223.10 L83.0,222.58 L83.5,222.05 L84.0,221.51 L84.5,220.96 L85.0,220.41 L85.5,219.85 L86.0,219.28 L86.5,218.70 L87.0,218.10 L87.5,217.48 L88.0,216.84 L88.5,216.18 L89.0,215.52 L89.5,214.84 L90.0,214.16 L90.5,213.48 L91.0,212.79 L91.5,212.09 L92.0,211.38 L92.5,210.66 L93.0,209.91 L93.5,209.15 L94.0,208.36 L94.5,207.54 L95.0,206.69 L95.5,205.82 L96.0,204.93 L96.5,204.02 L97.0,203.11 L97.5,202.19 L98.0,201.26 L98.5,200.34 L99.0,199.43 L99.5,198.51 L100.0,197.58 L100.5,196.64 L101.0,195.69 L101.5,194.71 L102.0,193.70 L102.5,192.66 L103.0,191.57 L103.5,190.46 L104.0,189.32 L104.5,188.16 L105.0,187.01 L105.5,185.86 L106.0,184.75 L106.5,183.66 L107.0,182.61 L107.5,181.57 L108.0,180.55 L108.5,179.51 L109.0,178.44 L109.5,177.34 L110.0,176.20 L110.5,175.01 L111.0,173.77 L111.5,172.50 L112.0,171.20 L112.5,169.89 L113.0,168.58 L113.5,167.28 L114.0,166.01 L114.5,164.77 L115.0,163.57 L115.5,162.40 L116.0,161.25 L116.5,160.12 L117.0,158.99 L117.5,157.85 L118.0,156.71 L118.5,155.55 L119.0,154.38 L119.5,153.19 L120.0,151.99 L120.5,150.78 L121.0,149.57 L121.5,148.37 L122.0,147.17 L122.5,145.98 L123.0,144.81 L123.5,143.66 L124.0,142.52 L124.5,141.40 L125.0,140.30 L125.5,139.19 L126.0,138.08 L126.5,136.97 L127.0,135.84 L127.5,134.70 L128.0,133.55 L128.5,132.37 L129.0,131.18 L129.5,129.98 L130.0,128.76 L130.5,127.53 L131.0,126.28 L131.5,125.02 L132.0,123.74 L132.5,122.44 L133.0,121.13 L133.5,119.82 L134.0,118.52 L134.5,117.24 L135.0,115.98 L135.5,114.78 L136.0,113.62 L136.5,112.51 L137.0,111.45 L137.5,110.44 L138.0,109.46 L138.5,108.50 L139.0,107.55 L139.5,106.60 L140.0,105.63 L140.5,104.66 L141.0,103.66 L141.5,102.65 L142.0,101.62 L142.5,100.58 L143.0,99.52 L143.5,98.47 L144.0,97.40 L144.5,96.33 L145.0,95.27 L145.5,94.19 L146.0,93.12 L146.5,92.05 L147.0,90.99 L147.5,89.93 L148.0,88.87 L148.5,87.82 L149.0,86.79 L149.5,85.78 L150.0,84.78 L150.5,83.81 L151.0,82.86 L151.5,81.94 L152.0,81.06 L152.5,80.20 L153.0,79.37 L153.5,78.58 L154.0,77.82 L154.5,77.09 L155.0,76.40 L155.5,75.74 L156.0,75.11 L156.5,74.53 L157.0,73.97 L157.5,73.45 L158.0,72.96 L158.5,72.50 L159.0,72.06 L159.5,71.65 L160.0,71.27 L160.5,70.90 L161.0,70.56 L161.5,70.24 L162.0,69.93 L162.5,69.64 L163.0,69.37 L163.5,69.11 L164.0,68.87 L164.5,68.65 L165.0,68.44 L165.5,68.24 L166.0,68.06 L166.5,67.89 L167.0,67.73 L167.5,67.59 L168.0,67.45 L168.5,67.32 L169.0,67.21 L169.5,67.10 L170.0,67.00 L170.5,66.91 L171.0,66.82 L171.5,66.74 L172.0,66.67 L172.5,66.60 L173.0,66.54 L173.5,66.48 L174.0,66.43 L174.5,66.38 L175.0,66.34 L175.5,66.29 L176.0,66.26 L176.5,66.22 L177.0,66.19 L177.5,66.16 L178.0,66.13 L178.5,66.11 L179.0,66.09 L179.5,66.07 L180.0,66.06 L180.5,66.04 L181.0,66.03 L181.5,66.03 L182.0,66.02 L182.5,66.02 L183.0,66.03 L183.5,66.04 L184.0,66.06 L184.5,66.09 L185.0,66.13 L185.5,66.20 L186.0,66.28 L186.5,66.40 L187.0,66.53 L187.5,66.68 L188.0,66.86 L188.5,67.05 L189.0,67.26 L189.5,67.48 L190.0,67.71 L190.5,67.96 L191.0,68.22 L191.5,68.50 L192.0,68.79 L192.5,69.09 L193.0,69.41 L193.5,69.73 L194.0,70.06 L194.5,70.40 L195.0,70.74 L195.5,71.07 L196.0,71.42 L196.5,71.76 L197.0,72.11 L197.5,72.46 L198.0,72.81 L198.5,73.17 L199.0,73.54 L199.5,73.91 L200.0,74.29 L200.5,74.67 L201.0,75.06 L201.5,75.45 L202.0,75.85 L202.5,76.26 L203.0,76.67 L203.5,77.09 L204.0,77.51 L204.5,77.94 L205.0,78.37 L205.5,78.81 L206.0,79.25 L206.5,79.69 L207.0,80.14 L207.5,80.60 L208.0,81.05 L208.5,81.51 L209.0,81.97 L209.5,82.43 L210.0,82.89 L210.5,83.35 L211.0,83.81 L211.5,84.27 L212.0,84.73 L212.5,85.19 L213.0,85.66 L213.5,86.13 L214.0,86.61 L214.5,87.09 L215.0,87.59 L215.5,88.09 L216.0,88.59 L216.5,89.11 L217.0,89.63 L217.5,90.16 L218.0,90.69 L218.5,91.23 L219.0,91.78 L219.5,92.32 L220.0,92.88 L220.5,93.43 L221.0,93.99 L221.5,94.56 L222.0,95.12 L222.5,95.69 L223.0,96.26 L223.5,96.84 L224.0,97.41 L224.5,97.98 L225.0,98.56 L225.5,99.13 L226.0,99.71 L226.5,100.29 L227.0,100.87 L227.5,101.45 L228.0,102.04 L228.5,102.62 L229.0,103.20 L229.5,103.79 L230.0,104.36 L230.5,104.94 L231.0,105.50 L231.5,106.06 L232.0,106.61 L232.5,107.16 L233.0,107.71 L233.5,108.25 L234.0,108.80 L234.5,109.36 L235.0,109.93 L235.5,110.51 L236.0,111.10 L236.5,111.71 L237.0,112.34 L237.5,112.97 L238.0,113.60 L238.5,114.24 L239.0,114.88 L239.5,115.50 L240.0,116.12 L240.5,116.73 L241.0,117.33 L241.5,117.91 L242.0,118.49 L242.5,119.06 L243.0,119.62 L243.5,120.17 L244.0,120.72 L244.5,121.27 L245.0,121.81 L245.5,122.36 L246.0,122.90 L246.5,123.44 L247.0,123.99 L247.5,124.55 L248.0,125.10 L248.5,125.67 L249.0,126.23 L249.5,126.81 L250.0,127.38 L250.5,127.96 L251.0,128.54 L251.5,129.12 L252.0,129.71 L252.5,130.29 L253.0,130.87 L253.5,131.45 L254.0,132.04 L254.5,132.63 L255.0,133.22 L255.5,133.83 L256.0,134.44 L256.5,135.07 L257.0,135.72 L257.5,136.38 L258.0,137.05 L258.5,137.73 L259.0,138.42 L259.5,139.12 L260.0,139.82 L260.5,140.53 L261.0,141.24 L261.5,141.94 L262.0,142.64 L262.5,143.33 L263.0,144.00 L263.5,144.67 L264.0,145.32 L264.5,145.95 L265.0,146.56 L265.5,147.15 L266.0,147.72 L266.5,148.28 L267.0,148.82 L267.5,149.34 L268.0,149.86 L268.5,150.37 L269.0,150.89 L269.5,151.41 L270.0,151.93 L270.5,152.46 L271.0,153.00 L271.5,153.55 L272.0,154.10 L272.5,154.65 L273.0,155.20 L273.5,155.75 L274.0,156.29 L274.5,156.82 L275.0,157.35 L275.5,157.87 L276.0,158.39 L276.5,158.91 L277.0,159.43 L277.5,159.94 L278.0,160.46 L278.5,160.98 L279.0,161.50 L279.5,162.03 L280.0,162.55 L280.5,163.08 L281.0,163.60 L281.5,164.13 L282.0,164.65 L282.5,165.18 L283.0,165.70 L283.5,166.22 L284.0,166.74 L284.5,167.26 L285.0,167.78 L285.5,168.31 L286.0,168.83 L286.5,169.36 L287.0,169.89 L287.5,170.42 L288.0,170.95 L288.5,171.47 L289.0,171.99 L289.5,172.52 L290.0,173.04 L290.5,173.55 L291.0,174.07 L291.5,174.59 L292.0,175.10 L292.5,175.62 L293.0,176.13 L293.5,176.63 L294.0,177.13 L294.5,177.63 L295.0,178.13 L295.5,178.62 L296.0,179.12 L296.5,179.62 L297.0,180.13 L297.5,180.67 L298.0,181.23 L298.5,181.82 L299.0,182.44 L299.5,183.09 L300.0,183.75 L300.5,184.43 L301.0,185.11 L301.5,185.78 L302.0,186.44 L302.5,187.09 L303.0,187.72 L303.5,188.34 L304.0,188.93 L304.5,189.50 L305.0,190.05 L305.5,190.58 L306.0,191.09 L306.5,191.60 L307.0,192.09 L307.5,192.57 L308.0,193.04 L308.5,193.50 L309.0,193.95 L309.5,194.39 L310.0,194.81 L310.5,195.22 L311.0,195.61 L311.5,195.99 L312.0,196.35 L312.5,196.69 L313.0,197.02 L313.5,197.34 L314.0,197.65 L314.5,197.94 L315.0,198.23 L315.5,198.52 L316.0,198.79 L316.5,199.07 L317.0,199.34 L317.5,199.60 L318.0,199.86 L318.5,200.12 L319.0,200.36 L319.5,200.60 L320.0,200.83 L320.5,201.04 L321.0,201.25 L321.5,201.43 L322.0,201.62 L322.5,201.79 L323.0,201.98 L323.5,202.17 L324.0,202.38 L324.5,202.60 L325.0,202.84 L325.5,203.09 L326.0,203.34 L326.5,203.61 L327.0,203.87 L327.5,204.12 L328.0,204.38 L328.5,204.64 L329.0,204.89 L329.5,205.14 L330.0,205.40 L330.5,205.65 L331.0,205.91 L331.5,206.18 L332.0,206.45 L332.5,206.73 L333.0,207.02 L333.5,207.30 L334.0,207.59 L334.5,207.87 L335.0,208.15 L335.5,208.42 L336.0,208.68 L336.5,208.93 L337.0,209.17 L337.5,209.41 L338.0,209.63 L338.5,209.86 L339.0,210.07 L339.5,210.28 L340.0,210.49 L340.5,210.69 L341.0,210.89 L341.5,211.08 L342.0,211.27 L342.5,211.45 L343.0,211.64 L343.5,211.82 L344.0,212.00 L344.5,212.18 L345.0,212.37 L345.5,212.55 L346.0,212.73 L346.5,212.91 L347.0,213.09 L347.5,213.27 L348.0,213.45 L348.5,213.62 L349.0,213.79 L349.5,213.95 L350.0,214.11 L350.5,214.27 L351.0,214.42 L351.5,214.56 L352.0,214.70 L352.5,214.84 L353.0,214.97 L353.5,215.10 L354.0,215.23 L354.5,215.36 L355.0,215.48 L355.5,215.60 L356.0,215.72 L356.5,215.83 L357.0,215.92" stroke="#2aa060"/>
<path d="M79.0,227.30 L79.5,226.91 L80.0,226.48 L80.5,226.03 L81.0,225.56 L81.5,225.08 L82.0,224.59 L82.5,224.08 L83.0,223.57 L83.5,223.05 L84.0,222.52 L84.5,222.00 L85.0,221.47 L85.5,220.93 L86.0,220.39 L86.5,219.83 L87.0,219.26 L87.5,218.67 L88.0,218.07 L88.5,217.46 L89.0,216.84 L89.5,216.22 L90.0,215.59 L90.5,214.96 L91.0,214.33 L91.5,213.68 L92.0,213.03 L92.5,212.35 L93.0,211.66 L93.5,210.94 L94.0,210.19 L94.5,209.42 L95.0,208.62 L95.5,207.79 L96.0,206.93 L96.5,206.06 L97.0,205.17 L97.5,204.28 L98.0,203.38 L98.5,202.47 L99.0,201.57 L99.5,200.67 L100.0,199.77 L100.5,198.86 L101.0,197.94 L101.5,196.99 L102.0,196.02 L102.5,195.01 L103.0,193.97 L103.5,192.89 L104.0,191.79 L104.5,190.66 L105.0,189.54 L105.5,188.43 L106.0,187.34 L106.5,186.30 L107.0,185.29 L107.5,184.30 L108.0,183.31 L108.5,182.32 L109.0,181.29 L109.5,180.22 L110.0,179.10 L110.5,177.92 L111.0,176.71 L111.5,175.44 L112.0,174.15 L112.5,172.84 L113.0,171.53 L113.5,170.24 L114.0,168.98 L114.5,167.76 L115.0,166.58 L115.5,165.44 L116.0,164.33 L116.5,163.24 L117.0,162.16 L117.5,161.08 L118.0,160.00 L118.5,158.90 L119.0,157.80 L119.5,156.69 L120.0,155.58 L120.5,154.46 L121.0,153.34 L121.5,152.22 L122.0,151.10 L122.5,149.99 L123.0,148.90 L123.5,147.81 L124.0,146.73 L124.5,145.66 L125.0,144.60 L125.5,143.53 L126.0,142.45 L126.5,141.36 L127.0,140.25 L127.5,139.12 L128.0,137.98 L128.5,136.82 L129.0,135.64 L129.5,134.45 L130.0,133.26 L130.5,132.05 L131.0,130.83 L131.5,129.61 L132.0,128.37 L132.5,127.12 L133.0,125.87 L133.5,124.62 L134.0,123.38 L134.5,122.16 L135.0,120.97 L135.5,119.82 L136.0,118.72 L136.5,117.66 L137.0,116.65 L137.5,115.68 L138.0,114.73 L138.5,113.80 L139.0,112.87 L139.5,111.94 L140.0,110.99 L140.5,110.03 L141.0,109.05 L141.5,108.05 L142.0,107.03 L142.5,106.01 L143.0,104.98 L143.5,103.94 L144.0,102.90 L144.5,101.86 L145.0,100.82 L145.5,99.79 L146.0,98.75 L146.5,97.72 L147.0,96.69 L147.5,95.66 L148.0,94.65 L148.5,93.64 L149.0,92.64 L149.5,91.65 L150.0,90.68 L150.5,89.74 L151.0,88.82 L151.5,87.93 L152.0,87.08 L152.5,86.26 L153.0,85.47 L153.5,84.71 L154.0,83.99 L154.5,83.31 L155.0,82.66 L155.5,82.05 L156.0,81.48 L156.5,80.93 L157.0,80.43 L157.5,79.95 L158.0,79.50 L158.5,79.08 L159.0,78.69 L159.5,78.32 L160.0,77.97 L160.5,77.64 L161.0,77.33 L161.5,77.04 L162.0,76.76 L162.5,76.50 L163.0,76.25 L163.5,76.02 L164.0,75.81 L164.5,75.60 L165.0,75.41 L165.5,75.24 L166.0,75.07 L166.5,74.92 L167.0,74.77 L167.5,74.64 L168.0,74.51 L168.5,74.40 L169.0,74.29 L169.5,74.19 L170.0,74.09 L170.5,74.01 L171.0,73.93 L171.5,73.85 L172.0,73.78 L172.5,73.72 L173.0,73.65 L173.5,73.60 L174.0,73.55 L174.5,73.50 L175.0,73.45 L175.5,73.41 L176.0,73.37 L176.5,73.34 L177.0,73.30 L177.5,73.27 L178.0,73.25 L178.5,73.22 L179.0,73.20 L179.5,73.18 L180.0,73.16 L180.5,73.15 L181.0,73.14 L181.5,73.13 L182.0,73.12 L182.5,73.12 L183.0,73.12 L183.5,73.12 L184.0,73.14 L184.5,73.17 L185.0,73.21 L185.5,73.28 L186.0,73.37 L186.5,73.48 L187.0,73.62 L187.5,73.78 L188.0,73.97 L188.5,74.17 L189.0,74.38 L189.5,74.61 L190.0,74.84 L190.5,75.09 L191.0,75.35 L191.5,75.63 L192.0,75.91 L192.5,76.21 L193.0,76.52 L193.5,76.83 L194.0,77.16 L194.5,77.48 L195.0,77.82 L195.5,78.15 L196.0,78.49 L196.5,78.83 L197.0,79.18 L197.5,79.53 L198.0,79.88 L198.5,80.24 L199.0,80.60 L199.5,80.96 L200.0,81.33 L200.5,81.70 L201.0,82.08 L201.5,82.46 L202.0,82.84 L202.5,83.22 L203.0,83.62 L203.5,84.01 L204.0,84.41 L204.5,84.82 L205.0,85.23 L205.5,85.65 L206.0,86.08 L206.5,86.51 L207.0,86.94 L207.5,87.38 L208.0,87.83 L208.5,88.27 L209.0,88.71 L209.5,89.15 L210.0,89.59 L210.5,90.03 L211.0,90.47 L211.5,90.90 L212.0,91.34 L212.5,91.77 L213.0,92.21 L213.5,92.66 L214.0,93.11 L214.5,93.56 L215.0,94.02 L215.5,94.49 L216.0,94.97 L216.5,95.45 L217.0,95.94 L217.5,96.43 L218.0,96.93 L218.5,97.44 L219.0,97.95 L219.5,98.46 L220.0,98.98 L220.5,99.50 L221.0,100.03 L221.5,100.56 L222.0,101.10 L222.5,101.64 L223.0,102.18 L223.5,102.73 L224.0,103.28 L224.5,103.83 L225.0,104.38 L225.5,104.94 L226.0,105.51 L226.5,106.07 L227.0,106.64 L227.5,107.21 L228.0,107.78 L228.5,108.35 L229.0,108.91 L229.5,109.46 L230.0,110.01 L230.5,110.55 L231.0,111.09 L231.5,111.61 L232.0,112.12 L232.5,112.63 L233.0,113.14 L233.5,113.65 L234.0,114.16 L234.5,114.68 L235.0,115.21 L235.5,115.75 L236.0,116.31 L236.5,116.88 L237.0,117.47 L237.5,118.06 L238.0,118.66 L238.5,119.27 L239.0,119.86 L239.5,120.46 L240.0,121.04 L240.5,121.60 L241.0,122.16 L241.5,122.71 L242.0,123.25 L242.5,123.78 L243.0,124.31 L243.5,124.83 L244.0,125.36 L244.5,125.89 L245.0,126.42 L245.5,126.95 L246.0,127.48 L246.5,128.02 L247.0,128.55 L247.5,129.09 L248.0,129.63 L248.5,130.18 L249.0,130.72 L249.5,131.26 L250.0,131.81 L250.5,132.35 L251.0,132.90 L251.5,133.45 L252.0,133.99 L252.5,134.54 L253.0,135.08 L253.5,135.63 L254.0,136.18 L254.5,136.74 L255.0,137.30 L255.5,137.88 L256.0,138.46 L256.5,139.07 L257.0,139.68 L257.5,140.32 L258.0,140.96 L258.5,141.62 L259.0,142.29 L259.5,142.97 L260.0,143.66 L260.5,144.35 L261.0,145.03 L261.5,145.72 L262.0,146.40 L262.5,147.07 L263.0,147.73 L263.5,148.38 L264.0,149.01 L264.5,149.62 L265.0,150.21 L265.5,150.78 L266.0,151.33 L266.5,151.86 L267.0,152.37 L267.5,152.87 L268.0,153.36 L268.5,153.85 L269.0,154.33 L269.5,154.82 L270.0,155.32 L270.5,155.83 L271.0,156.35 L271.5,156.87 L272.0,157.39 L272.5,157.92 L273.0,158.44 L273.5,158.96 L274.0,159.48 L274.5,159.98 L275.0,160.48 L275.5,160.98 L276.0,161.46 L276.5,161.95 L277.0,162.43 L277.5,162.92 L278.0,163.40 L278.5,163.88 L279.0,164.37 L279.5,164.86 L280.0,165.34 L280.5,165.83 L281.0,166.32 L281.5,166.80 L282.0,167.29 L282.5,167.77 L283.0,168.25 L283.5,168.73 L284.0,169.22 L284.5,169.70 L285.0,170.20 L285.5,170.70 L286.0,171.20 L286.5,171.71 L287.0,172.23 L287.5,172.74 L288.0,173.26 L288.5,173.77 L289.0,174.29 L289.5,174.80 L290.0,175.31 L290.5,175.82 L291.0,176.33 L291.5,176.84 L292.0,177.35 L292.5,177.86 L293.0,178.37 L293.5,178.87 L294.0,179.37 L294.5,179.87 L295.0,180.37 L295.5,180.86 L296.0,181.36 L296.5,181.87 L297.0,182.39 L297.5,182.93 L298.0,183.49 L298.5,184.09 L299.0,184.70 L299.5,185.34 L300.0,186.00 L300.5,186.67 L301.0,187.33 L301.5,188.00 L302.0,188.65 L302.5,189.28 L303.0,189.90 L303.5,190.50 L304.0,191.07 L304.5,191.62 L305.0,192.16 L305.5,192.67 L306.0,193.16 L306.5,193.64 L307.0,194.11 L307.5,194.56 L308.0,195.00 L308.5,195.43 L309.0,195.84 L309.5,196.25 L310.0,196.64 L310.5,197.01 L311.0,197.37 L311.5,197.72 L312.0,198.05 L312.5,198.37 L313.0,198.68 L313.5,198.98 L314.0,199.26 L314.5,199.54 L315.0,199.81 L315.5,200.08 L316.0,200.33 L316.5,200.59 L317.0,200.84 L317.5,201.09 L318.0,201.33 L318.5,201.56 L319.0,201.79 L319.5,202.00 L320.0,202.20 L320.5,202.39 L321.0,202.57 L321.5,202.73 L322.0,202.90 L322.5,203.06 L323.0,203.24 L323.5,203.43 L324.0,203.64 L324.5,203.87 L325.0,204.11 L325.5,204.38 L326.0,204.65 L326.5,204.93 L327.0,205.20 L327.5,205.48 L328.0,205.75 L328.5,206.02 L329.0,206.28 L329.5,206.55 L330.0,206.81 L330.5,207.07 L331.0,207.33 L331.5,207.60 L332.0,207.86 L332.5,208.13 L333.0,208.40 L333.5,208.67 L334.0,208.93 L334.5,209.20 L335.0,209.45 L335.5,209.70 L336.0,209.95 L336.5,210.18 L337.0,210.41 L337.5,210.63 L338.0,210.84 L338.5,211.05 L339.0,211.26 L339.5,211.46 L340.0,211.65 L340.5,211.84 L341.0,212.02 L341.5,212.20 L342.0,212.37 L342.5,212.54 L343.0,212.71 L343.5,212.88 L344.0,213.05 L344.5,213.22 L345.0,213.38 L345.5,213.55 L346.0,213.72 L346.5,213.89 L347.0,214.06 L347.5,214.23 L348.0,214.39 L348.5,214.55 L349.0,214.71 L349.5,214.87 L350.0,215.01 L350.5,215.16 L351.0,215.29 L351.5,215.43 L352.0,215.56 L352.5,215.68 L353.0,215.81 L353.5,215.93 L354.0,216.05 L354.5,216.17 L355.0,216.28 L355.5,216.39 L356.0,216.50 L356.5,216.60 L357.0,216.69" stroke="#a070e0"/>
<path d="M79.0,227.88 L79.5,227.49 L80.0,227.07 L80.5,226.62 L81.0,226.15 L81.5,225.67 L82.0,225.18 L82.5,224.67 L83.0,224.16 L83.5,223.65 L84.0,223.14 L84.5,222.62 L85.0,222.11 L85.5,221.59 L86.0,221.06 L86.5,220.52 L87.0,219.96 L87.5,219.40 L88.0,218.82 L88.5,218.23 L89.0,217.64 L89.5,217.05 L90.0,216.46 L90.5,215.86 L91.0,215.26 L91.5,214.65 L92.0,214.02 L92.5,213.38 L93.0,212.72 L93.5,212.03 L94.0,211.31 L94.5,210.56 L95.0,209.78 L95.5,208.98 L96.0,208.15 L96.5,207.30 L97.0,206.43 L97.5,205.55 L98.0,204.66 L98.5,203.77 L99.0,202.87 L99.5,201.99 L100.0,201.10 L100.5,200.20 L101.0,199.30 L101.5,198.38 L102.0,197.43 L102.5,196.44 L103.0,195.42 L103.5,194.37 L104.0,193.28 L104.5,192.17 L105.0,191.07 L105.5,189.98 L106.0,188.92 L106.5,187.90 L107.0,186.91 L107.5,185.95 L108.0,184.99 L108.5,184.02 L109.0,183.01 L109.5,181.96 L110.0,180.85 L110.5,179.69 L111.0,178.48 L111.5,177.23 L112.0,175.94 L112.5,174.63 L113.0,173.32 L113.5,172.04 L114.0,170.78 L114.5,169.57 L115.0,168.40 L115.5,167.28 L116.0,166.20 L116.5,165.13 L117.0,164.08 L117.5,163.04 L118.0,161.99 L118.5,160.94 L119.0,159.88 L119.5,158.82 L120.0,157.75 L120.5,156.68 L121.0,155.61 L121.5,154.55 L122.0,153.48 L122.5,152.42 L123.0,151.37 L123.5,150.32 L124.0,149.28 L124.5,148.24 L125.0,147.20 L125.5,146.15 L126.0,145.09 L126.5,144.02 L127.0,142.92 L127.5,141.80 L128.0,140.66 L128.5,139.51 L129.0,138.34 L129.5,137.16 L130.0,135.98 L130.5,134.79 L131.0,133.59 L131.5,132.38 L132.0,131.18 L132.5,129.96 L133.0,128.74 L133.5,127.53 L134.0,126.33 L134.5,125.14 L135.0,123.99 L135.5,122.88 L136.0,121.81 L136.5,120.78 L137.0,119.80 L137.5,118.85 L138.0,117.93 L138.5,117.01 L139.0,116.10 L139.5,115.18 L140.0,114.24 L140.5,113.28 L141.0,112.31 L141.5,111.32 L142.0,110.32 L142.5,109.30 L143.0,108.28 L143.5,107.26 L144.0,106.24 L144.5,105.21 L145.0,104.19 L145.5,103.17 L146.0,102.16 L146.5,101.15 L147.0,100.14 L147.5,99.14 L148.0,98.14 L148.5,97.16 L149.0,96.18 L149.5,95.21 L150.0,94.26 L150.5,93.33 L151.0,92.43 L151.5,91.56 L152.0,90.73 L152.5,89.92 L153.0,89.16 L153.5,88.43 L154.0,87.73 L154.5,87.08 L155.0,86.46 L155.5,85.88 L156.0,85.33 L156.5,84.82 L157.0,84.34 L157.5,83.89 L158.0,83.47 L158.5,83.07 L159.0,82.70 L159.5,82.36 L160.0,82.03 L160.5,81.72 L161.0,81.43 L161.5,81.16 L162.0,80.90 L162.5,80.66 L163.0,80.43 L163.5,80.21 L164.0,80.01 L164.5,79.82 L165.0,79.64 L165.5,79.47 L166.0,79.32 L166.5,79.17 L167.0,79.04 L167.5,78.91 L168.0,78.79 L168.5,78.68 L169.0,78.58 L169.5,78.48 L170.0,78.39 L170.5,78.31 L171.0,78.23 L171.5,78.16 L172.0,78.09 L172.5,78.02 L173.0,77.96 L173.5,77.91 L174.0,77.86 L174.5,77.81 L175.0,77.76 L175.5,77.72 L176.0,77.68 L176.5,77.65 L177.0,77.61 L177.5,77.58 L178.0,77.55 L178.5,77.53 L179.0,77.50 L179.5,77.48 L180.0,77.47 L180.5,77.45 L181.0,77.44 L181.5,77.43 L182.0,77.42 L182.5,77.41 L183.0,77.41 L183.5,77.41 L184.0,77.43 L184.5,77.45 L185.0,77.50 L185.5,77.56 L186.0,77.66 L186.5,77.77 L187.0,77.92 L187.5,78.08 L188.0,78.27 L188.5,78.48 L189.0,78.69 L189.5,78.92 L190.0,79.16 L190.5,79.41 L191.0,79.67 L191.5,79.95 L192.0,80.23 L192.5,80.52 L193.0,80.82 L193.5,81.14 L194.0,81.45 L194.5,81.78 L195.0,82.10 L195.5,82.44 L196.0,82.77 L196.5,83.11 L197.0,83.46 L197.5,83.81 L198.0,84.16 L198.5,84.52 L199.0,84.88 L199.5,85.24 L200.0,85.60 L200.5,85.96 L201.0,86.33 L201.5,86.70 L202.0,87.07 L202.5,87.44 L203.0,87.82 L203.5,88.21 L204.0,88.59 L204.5,88.99 L205.0,89.39 L205.5,89.80 L206.0,90.22 L206.5,90.64 L207.0,91.06 L207.5,91.49 L208.0,91.93 L208.5,92.36 L209.0,92.79 L209.5,93.22 L210.0,93.65 L210.5,94.08 L211.0,94.50 L211.5,94.92 L212.0,95.34 L212.5,95.76 L213.0,96.18 L213.5,96.61 L214.0,97.04 L214.5,97.48 L215.0,97.92 L215.5,98.37 L216.0,98.83 L216.5,99.29 L217.0,99.76 L217.5,100.23 L218.0,100.71 L218.5,101.19 L219.0,101.68 L219.5,102.18 L220.0,102.68 L220.5,103.18 L221.0,103.69 L221.5,104.20 L222.0,104.72 L222.5,105.24 L223.0,105.77 L223.5,106.30 L224.0,106.83 L224.5,107.37 L225.0,107.91 L225.5,108.46 L226.0,109.02 L226.5,109.57 L227.0,110.14 L227.5,110.70 L228.0,111.26 L228.5,111.81 L229.0,112.36 L229.5,112.90 L230.0,113.44 L230.5,113.96 L231.0,114.47 L231.5,114.97 L232.0,115.46 L232.5,115.95 L233.0,116.43 L233.5,116.91 L234.0,117.40 L234.5,117.90 L235.0,118.40 L235.5,118.93 L236.0,119.46 L236.5,120.01 L237.0,120.58 L237.5,121.15 L238.0,121.73 L238.5,122.31 L239.0,122.89 L239.5,123.45 L240.0,124.01 L240.5,124.56 L241.0,125.09 L241.5,125.61 L242.0,126.13 L242.5,126.64 L243.0,127.15 L243.5,127.66 L244.0,128.17 L244.5,128.69 L245.0,129.21 L245.5,129.73 L246.0,130.26 L246.5,130.79 L247.0,131.32 L247.5,131.85 L248.0,132.38 L248.5,132.91 L249.0,133.44 L249.5,133.96 L250.0,134.49 L250.5,135.01 L251.0,135.54 L251.5,136.06 L252.0,136.59 L252.5,137.11 L253.0,137.64 L253.5,138.16 L254.0,138.69 L254.5,139.23 L255.0,139.77 L255.5,140.33 L256.0,140.90 L256.5,141.48 L257.0,142.09 L257.5,142.70 L258.0,143.34 L258.5,143.98 L259.0,144.64 L259.5,145.31 L260.0,145.98 L260.5,146.66 L261.0,147.34 L261.5,148.01 L262.0,148.68 L262.5,149.34 L263.0,149.99 L263.5,150.63 L264.0,151.24 L264.5,151.84 L265.0,152.42 L265.5,152.98 L266.0,153.52 L266.5,154.03 L267.0,154.53 L267.5,155.01 L268.0,155.48 L268.5,155.95 L269.0,156.42 L269.5,156.90 L270.0,157.38 L270.5,157.87 L271.0,158.37 L271.5,158.88 L272.0,159.39 L272.5,159.90 L273.0,160.41 L273.5,160.91 L274.0,161.41 L274.5,161.90 L275.0,162.38 L275.5,162.85 L276.0,163.32 L276.5,163.79 L277.0,164.25 L277.5,164.71 L278.0,165.18 L278.5,165.64 L279.0,166.11 L279.5,166.57 L280.0,167.04 L280.5,167.50 L281.0,167.96 L281.5,168.42 L282.0,168.88 L282.5,169.34 L283.0,169.80 L283.5,170.26 L284.0,170.72 L284.5,171.18 L285.0,171.66 L285.5,172.14 L286.0,172.64 L286.5,173.13 L287.0,173.64 L287.5,174.15 L288.0,174.66 L288.5,175.17 L289.0,175.68 L289.5,176.18 L290.0,176.69 L290.5,177.20 L291.0,177.70 L291.5,178.21 L292.0,178.71 L292.5,179.22 L293.0,179.72 L293.5,180.22 L294.0,180.72 L294.5,181.22 L295.0,181.72 L295.5,182.22 L296.0,182.72 L296.5,183.23 L297.0,183.76 L297.5,184.30 L298.0,184.87 L298.5,185.46 L299.0,186.07 L299.5,186.71 L300.0,187.36 L300.5,188.02 L301.0,188.68 L301.5,189.34 L302.0,189.98 L302.5,190.61 L303.0,191.22 L303.5,191.81 L304.0,192.37 L304.5,192.91 L305.0,193.43 L305.5,193.93 L306.0,194.42 L306.5,194.88 L307.0,195.33 L307.5,195.76 L308.0,196.18 L308.5,196.59 L309.0,196.99 L309.5,197.37 L310.0,197.74 L310.5,198.10 L311.0,198.44 L311.5,198.77 L312.0,199.09 L312.5,199.39 L313.0,199.69 L313.5,199.97 L314.0,200.24 L314.5,200.51 L315.0,200.77 L315.5,201.02 L316.0,201.27 L316.5,201.51 L317.0,201.75 L317.5,201.99 L318.0,202.22 L318.5,202.44 L319.0,202.65 L319.5,202.85 L320.0,203.03 L320.5,203.21 L321.0,203.37 L321.5,203.52 L322.0,203.68 L322.5,203.83 L323.0,204.00 L323.5,204.19 L324.0,204.40 L324.5,204.63 L325.0,204.89 L325.5,205.16 L326.0,205.44 L326.5,205.73 L327.0,206.01 L327.5,206.30 L328.0,206.58 L328.5,206.85 L329.0,207.13 L329.5,207.40 L330.0,207.66 L330.5,207.93 L331.0,208.19 L331.5,208.45 L332.0,208.72 L332.5,208.98 L333.0,209.24 L333.5,209.49 L334.0,209.75 L334.5,210.00 L335.0,210.24 L335.5,210.48 L336.0,210.71 L336.5,210.94 L337.0,211.16 L337.5,211.37 L338.0,211.58 L338.5,211.78 L339.0,211.98 L339.5,212.17 L340.0,212.35 L340.5,212.53 L341.0,212.70 L341.5,212.87 L342.0,213.04 L342.5,213.20 L343.0,213.36 L343.5,213.52 L344.0,213.68 L344.5,213.84 L345.0,214.00 L345.5,214.16 L346.0,214.32 L346.5,214.49 L347.0,214.65 L347.5,214.81 L348.0,214.97 L348.5,215.12 L349.0,215.27 L349.5,215.42 L350.0,215.56 L350.5,215.70 L351.0,215.83 L351.5,215.95 L352.0,216.08 L352.5,216.20 L353.0,216.31 L353.5,216.43 L354.0,216.54 L354.5,216.65 L355.0,216.76 L355.5,216.87 L356.0,216.97 L356.5,217.06 L357.0,217.15" stroke="#d8a010"/>
<path d="M79.0,228.10 L79.5,227.72 L80.0,227.30 L80.5,226.85 L81.0,226.39 L81.5,225.90 L82.0,225.41 L82.5,224.91 L83.0,224.40 L83.5,223.89 L84.0,223.38 L84.5,222.87 L85.0,222.36 L85.5,221.85 L86.0,221.32 L86.5,220.79 L87.0,220.24 L87.5,219.68 L88.0,219.11 L88.5,218.54 L89.0,217.96 L89.5,217.38 L90.0,216.80 L90.5,216.21 L91.0,215.63 L91.5,215.03 L92.0,214.42 L92.5,213.79 L93.0,213.13 L93.5,212.45 L94.0,211.75 L94.5,211.01 L95.0,210.24 L95.5,209.45 L96.0,208.63 L96.5,207.78 L97.0,206.92 L97.5,206.05 L98.0,205.16 L98.5,204.28 L99.0,203.39 L99.5,202.50 L100.0,201.62 L100.5,200.73 L101.0,199.84 L101.5,198.92 L102.0,197.98 L102.5,197.01 L103.0,196.00 L103.5,194.95 L104.0,193.87 L104.5,192.77 L105.0,191.67 L105.5,190.59 L106.0,189.54 L106.5,188.53 L107.0,187.55 L107.5,186.60 L108.0,185.65 L108.5,184.69 L109.0,183.69 L109.5,182.65 L110.0,181.55 L110.5,180.39 L111.0,179.18 L111.5,177.93 L112.0,176.64 L112.5,175.34 L113.0,174.03 L113.5,172.74 L114.0,171.49 L114.5,170.28 L115.0,169.13 L115.5,168.01 L116.0,166.93 L116.5,165.88 L117.0,164.84 L117.5,163.81 L118.0,162.77 L118.5,161.74 L119.0,160.70 L119.5,159.66 L120.0,158.61 L120.5,157.56 L121.0,156.52 L121.5,155.47 L122.0,154.42 L122.5,153.38 L123.0,152.35 L123.5,151.32 L124.0,150.29 L124.5,149.26 L125.0,148.23 L125.5,147.19 L126.0,146.14 L126.5,145.07 L127.0,143.97 L127.5,142.86 L128.0,141.73 L128.5,140.57 L129.0,139.41 L129.5,138.23 L130.0,137.05 L130.5,135.87 L131.0,134.68 L131.5,133.48 L132.0,132.28 L132.5,131.08 L133.0,129.88 L133.5,128.68 L134.0,127.49 L134.5,126.32 L135.0,125.18 L135.5,124.09 L136.0,123.03 L136.5,122.02 L137.0,121.05 L137.5,120.11 L138.0,119.19 L138.5,118.28 L139.0,117.37 L139.5,116.46 L140.0,115.52 L140.5,114.57 L141.0,113.60 L141.5,112.61 L142.0,111.61 L142.5,110.60 L143.0,109.59 L143.5,108.57 L144.0,107.55 L144.5,106.54 L145.0,105.52 L145.5,104.51 L146.0,103.51 L146.5,102.50 L147.0,101.51 L147.5,100.51 L148.0,99.53 L148.5,98.55 L149.0,97.58 L149.5,96.62 L150.0,95.68 L150.5,94.76 L151.0,93.86 L151.5,93.00 L152.0,92.17 L152.5,91.37 L153.0,90.61 L153.5,89.89 L154.0,89.21 L154.5,88.57 L155.0,87.96 L155.5,87.39 L156.0,86.85 L156.5,86.35 L157.0,85.88 L157.5,85.44 L158.0,85.03 L158.5,84.65 L159.0,84.29 L159.5,83.95 L160.0,83.63 L160.5,83.33 L161.0,83.05 L161.5,82.79 L162.0,82.53 L162.5,82.30 L163.0,82.08 L163.5,81.87 L164.0,81.67 L164.5,81.48 L165.0,81.31 L165.5,81.15 L166.0,81.00 L166.5,80.86 L167.0,80.72 L167.5,80.60 L168.0,80.48 L168.5,80.37 L169.0,80.27 L169.5,80.18 L170.0,80.09 L170.5,80.01 L171.0,79.93 L171.5,79.86 L172.0,79.79 L172.5,79.73 L173.0,79.67 L173.5,79.61 L174.0,79.56 L174.5,79.51 L175.0,79.47 L175.5,79.42 L176.0,79.39 L176.5,79.35 L177.0,79.32 L177.5,79.29 L178.0,79.26 L178.5,79.23 L179.0,79.21 L179.5,79.19 L180.0,79.17 L180.5,79.15 L181.0,79.14 L181.5,79.13 L182.0,79.12 L182.5,79.11 L183.0,79.11 L183.5,79.11 L184.0,79.12 L184.5,79.15 L185.0,79.19 L185.5,79.26 L186.0,79.35 L186.5,79.47 L187.0,79.62 L187.5,79.78 L188.0,79.97 L188.5,80.18 L189.0,80.40 L189.5,80.63 L190.0,80.87 L190.5,81.12 L191.0,81.38 L191.5,81.65 L192.0,81.93 L192.5,82.23 L193.0,82.53 L193.5,82.84 L194.0,83.15 L194.5,83.47 L195.0,83.80 L195.5,84.13 L196.0,84.46 L196.5,84.81 L197.0,85.15 L197.5,85.50 L198.0,85.85 L198.5,86.21 L199.0,86.57 L199.5,86.93 L200.0,87.29 L200.5,87.65 L201.0,88.01 L201.5,88.37 L202.0,88.74 L202.5,89.11 L203.0,89.49 L203.5,89.86 L204.0,90.25 L204.5,90.64 L205.0,91.04 L205.5,91.44 L206.0,91.85 L206.5,92.27 L207.0,92.69 L207.5,93.12 L208.0,93.55 L208.5,93.98 L209.0,94.41 L209.5,94.83 L210.0,95.26 L210.5,95.68 L211.0,96.09 L211.5,96.51 L212.0,96.92 L212.5,97.34 L213.0,97.75 L213.5,98.17 L214.0,98.60 L214.5,99.03 L215.0,99.46 L215.5,99.90 L216.0,100.35 L216.5,100.81 L217.0,101.27 L217.5,101.73 L218.0,102.20 L218.5,102.68 L219.0,103.16 L219.5,103.65 L220.0,104.14 L220.5,104.63 L221.0,105.13 L221.5,105.64 L222.0,106.15 L222.5,106.66 L223.0,107.18 L223.5,107.71 L224.0,108.23 L224.5,108.77 L225.0,109.31 L225.5,109.85 L226.0,110.40 L226.5,110.96 L227.0,111.52 L227.5,112.07 L228.0,112.63 L228.5,113.18 L229.0,113.73 L229.5,114.26 L230.0,114.79 L230.5,115.30 L231.0,115.81 L231.5,116.30 L232.0,116.78 L232.5,117.26 L233.0,117.73 L233.5,118.20 L234.0,118.68 L234.5,119.17 L235.0,119.67 L235.5,120.18 L236.0,120.71 L236.5,121.25 L237.0,121.80 L237.5,122.37 L238.0,122.94 L238.5,123.51 L239.0,124.08 L239.5,124.64 L240.0,125.19 L240.5,125.72 L241.0,126.25 L241.5,126.76 L242.0,127.27 L242.5,127.77 L243.0,128.27 L243.5,128.77 L244.0,129.28 L244.5,129.79 L245.0,130.31 L245.5,130.83 L246.0,131.35 L246.5,131.88 L247.0,132.41 L247.5,132.94 L248.0,133.46 L248.5,133.99 L249.0,134.51 L249.5,135.03 L250.0,135.55 L250.5,136.07 L251.0,136.58 L251.5,137.10 L252.0,137.62 L252.5,138.13 L253.0,138.65 L253.5,139.16 L254.0,139.68 L254.5,140.21 L255.0,140.75 L255.5,141.30 L256.0,141.86 L256.5,142.44 L257.0,143.04 L257.5,143.65 L258.0,144.28 L258.5,144.92 L259.0,145.57 L259.5,146.23 L260.0,146.90 L260.5,147.57 L261.0,148.25 L261.5,148.92 L262.0,149.58 L262.5,150.24 L263.0,150.88 L263.5,151.51 L264.0,152.13 L264.5,152.72 L265.0,153.30 L265.5,153.85 L266.0,154.38 L266.5,154.89 L267.0,155.38 L267.5,155.86 L268.0,156.32 L268.5,156.78 L269.0,157.25 L269.5,157.71 L270.0,158.19 L270.5,158.68 L271.0,159.17 L271.5,159.67 L272.0,160.18 L272.5,160.68 L273.0,161.19 L273.5,161.68 L274.0,162.17 L274.5,162.66 L275.0,163.13 L275.5,163.60 L276.0,164.06 L276.5,164.52 L277.0,164.97 L277.5,165.43 L278.0,165.88 L278.5,166.34 L279.0,166.79 L279.5,167.25 L280.0,167.71 L280.5,168.16 L281.0,168.61 L281.5,169.07 L282.0,169.52 L282.5,169.96 L283.0,170.41 L283.5,170.86 L284.0,171.31 L284.5,171.77 L285.0,172.24 L285.5,172.72 L286.0,173.20 L286.5,173.70 L287.0,174.20 L287.5,174.70 L288.0,175.21 L288.5,175.72 L289.0,176.22 L289.5,176.73 L290.0,177.24 L290.5,177.74 L291.0,178.25 L291.5,178.75 L292.0,179.25 L292.5,179.76 L293.0,180.26 L293.5,180.76 L294.0,181.26 L294.5,181.76 L295.0,182.26 L295.5,182.76 L296.0,183.26 L296.5,183.77 L297.0,184.30 L297.5,184.84 L298.0,185.41 L298.5,186.00 L299.0,186.62 L299.5,187.25 L300.0,187.90 L300.5,188.56 L301.0,189.22 L301.5,189.87 L302.0,190.51 L302.5,191.13 L303.0,191.74 L303.5,192.32 L304.0,192.89 L304.5,193.42 L305.0,193.94 L305.5,194.43 L306.0,194.91 L306.5,195.37 L307.0,195.81 L307.5,196.24 L308.0,196.65 L308.5,197.05 L309.0,197.44 L309.5,197.82 L310.0,198.18 L310.5,198.53 L311.0,198.87 L311.5,199.19 L312.0,199.50 L312.5,199.80 L313.0,200.08 L313.5,200.36 L314.0,200.63 L314.5,200.89 L315.0,201.14 L315.5,201.39 L316.0,201.64 L316.5,201.88 L317.0,202.11 L317.5,202.34 L318.0,202.57 L318.5,202.78 L319.0,202.99 L319.5,203.18 L320.0,203.36 L320.5,203.53 L321.0,203.68 L321.5,203.83 L322.0,203.98 L322.5,204.14 L323.0,204.30 L323.5,204.49 L324.0,204.70 L324.5,204.94 L325.0,205.19 L325.5,205.47 L326.0,205.75 L326.5,206.04 L327.0,206.33 L327.5,206.62 L328.0,206.91 L328.5,207.19 L329.0,207.46 L329.5,207.73 L330.0,208.00 L330.5,208.27 L331.0,208.53 L331.5,208.79 L332.0,209.05 L332.5,209.31 L333.0,209.57 L333.5,209.82 L334.0,210.07 L334.5,210.32 L335.0,210.55 L335.5,210.79 L336.0,211.02 L336.5,211.24 L337.0,211.45 L337.5,211.66 L338.0,211.87 L338.5,212.07 L339.0,212.26 L339.5,212.45 L340.0,212.63 L340.5,212.80 L341.0,212.98 L341.5,213.14 L342.0,213.30 L342.5,213.46 L343.0,213.62 L343.5,213.78 L344.0,213.93 L344.5,214.09 L345.0,214.25 L345.5,214.40 L346.0,214.56 L346.5,214.72 L347.0,214.88 L347.5,215.04 L348.0,215.19 L348.5,215.34 L349.0,215.49 L349.5,215.64 L350.0,215.77 L350.5,215.91 L351.0,216.04 L351.5,216.16 L352.0,216.28 L352.5,216.40 L353.0,216.51 L353.5,216.63 L354.0,216.74 L354.5,216.85 L355.0,216.95 L355.5,217.06 L356.0,217.16 L356.5,217.25 L357.0,217.33" stroke="#18c8d0"/>
<path d="M79.0,228.52 L79.5,228.14 L80.0,227.73 L80.5,227.28 L81.0,226.81 L81.5,226.33 L82.0,225.83 L82.5,225.33 L83.0,224.83 L83.5,224.33 L84.0,223.83 L84.5,223.32 L85.0,222.82 L85.5,222.32 L86.0,221.81 L86.5,221.28 L87.0,220.75 L87.5,220.21 L88.0,219.65 L88.5,219.10 L89.0,218.54 L89.5,217.98 L90.0,217.42 L90.5,216.86 L91.0,216.30 L91.5,215.73 L92.0,215.14 L92.5,214.53 L93.0,213.90 L93.5,213.24 L94.0,212.55 L94.5,211.83 L95.0,211.08 L95.5,210.31 L96.0,209.50 L96.5,208.67 L97.0,207.82 L97.5,206.96 L98.0,206.08 L98.5,205.21 L99.0,204.33 L99.5,203.45 L100.0,202.58 L100.5,201.70 L101.0,200.82 L101.5,199.92 L102.0,199.00 L102.5,198.04 L103.0,197.04 L103.5,196.01 L104.0,194.95 L104.5,193.86 L105.0,192.78 L105.5,191.71 L106.0,190.67 L106.5,189.68 L107.0,188.72 L107.5,187.79 L108.0,186.86 L108.5,185.91 L109.0,184.93 L109.5,183.90 L110.0,182.81 L110.5,181.67 L111.0,180.46 L111.5,179.22 L112.0,177.93 L112.5,176.63 L113.0,175.32 L113.5,174.04 L114.0,172.79 L114.5,171.59 L115.0,170.44 L115.5,169.34 L116.0,168.28 L116.5,167.25 L117.0,166.23 L117.5,165.22 L118.0,164.21 L118.5,163.20 L119.0,162.20 L119.5,161.19 L120.0,160.18 L120.5,159.17 L121.0,158.16 L121.5,157.15 L122.0,156.14 L122.5,155.14 L123.0,154.13 L123.5,153.13 L124.0,152.13 L124.5,151.12 L125.0,150.11 L125.5,149.08 L126.0,148.04 L126.5,146.98 L127.0,145.90 L127.5,144.79 L128.0,143.66 L128.5,142.51 L129.0,141.36 L129.5,140.19 L130.0,139.02 L130.5,137.84 L131.0,136.66 L131.5,135.49 L132.0,134.31 L132.5,133.13 L133.0,131.95 L133.5,130.77 L134.0,129.61 L134.5,128.47 L135.0,127.36 L135.5,126.29 L136.0,125.26 L136.5,124.27 L137.0,123.32 L137.5,122.40 L138.0,121.49 L138.5,120.60 L139.0,119.70 L139.5,118.79 L140.0,117.86 L140.5,116.92 L141.0,115.95 L141.5,114.97 L142.0,113.98 L142.5,112.98 L143.0,111.97 L143.5,110.96 L144.0,109.96 L144.5,108.95 L145.0,107.95 L145.5,106.95 L146.0,105.96 L146.5,104.98 L147.0,103.99 L147.5,103.02 L148.0,102.05 L148.5,101.09 L149.0,100.13 L149.5,99.18 L150.0,98.25 L150.5,97.35 L151.0,96.46 L151.5,95.61 L152.0,94.80 L152.5,94.02 L153.0,93.27 L153.5,92.57 L154.0,91.91 L154.5,91.28 L155.0,90.70 L155.5,90.15 L156.0,89.63 L156.5,89.15 L157.0,88.70 L157.5,88.28 L158.0,87.89 L158.5,87.53 L159.0,87.18 L159.5,86.86 L160.0,86.56 L160.5,86.28 L161.0,86.01 L161.5,85.76 L162.0,85.52 L162.5,85.29 L163.0,85.08 L163.5,84.88 L164.0,84.70 L164.5,84.52 L165.0,84.36 L165.5,84.20 L166.0,84.06 L166.5,83.92 L167.0,83.80 L167.5,83.68 L168.0,83.57 L168.5,83.46 L169.0,83.36 L169.5,83.27 L170.0,83.19 L170.5,83.11 L171.0,83.03 L171.5,82.96 L172.0,82.89 L172.5,82.83 L173.0,82.77 L173.5,82.72 L174.0,82.67 L174.5,82.62 L175.0,82.57 L175.5,82.53 L176.0,82.49 L176.5,82.46 L177.0,82.42 L177.5,82.39 L178.0,82.36 L178.5,82.34 L179.0,82.31 L179.5,82.29 L180.0,82.27 L180.5,82.25 L181.0,82.24 L181.5,82.23 L182.0,82.21 L182.5,82.21 L183.0,82.20 L183.5,82.20 L184.0,82.22 L184.5,82.24 L185.0,82.28 L185.5,82.35 L186.0,82.44 L186.5,82.56 L187.0,82.71 L187.5,82.88 L188.0,83.08 L188.5,83.29 L189.0,83.51 L189.5,83.74 L190.0,83.99 L190.5,84.24 L191.0,84.50 L191.5,84.77 L192.0,85.05 L192.5,85.33 L193.0,85.63 L193.5,85.94 L194.0,86.25 L194.5,86.57 L195.0,86.89 L195.5,87.22 L196.0,87.55 L196.5,87.89 L197.0,88.24 L197.5,88.59 L198.0,88.94 L198.5,89.29 L199.0,89.65 L199.5,90.01 L200.0,90.36 L200.5,90.72 L201.0,91.08 L201.5,91.43 L202.0,91.79 L202.5,92.15 L203.0,92.52 L203.5,92.89 L204.0,93.26 L204.5,93.64 L205.0,94.03 L205.5,94.43 L206.0,94.83 L206.5,95.25 L207.0,95.66 L207.5,96.08 L208.0,96.50 L208.5,96.93 L209.0,97.35 L209.5,97.77 L210.0,98.18 L210.5,98.59 L211.0,99.00 L211.5,99.41 L212.0,99.81 L212.5,100.21 L213.0,100.62 L213.5,101.02 L214.0,101.43 L214.5,101.85 L215.0,102.27 L215.5,102.70 L216.0,103.13 L216.5,103.57 L217.0,104.02 L217.5,104.47 L218.0,104.93 L218.5,105.39 L219.0,105.86 L219.5,106.33 L220.0,106.80 L220.5,107.28 L221.0,107.77 L221.5,108.26 L222.0,108.76 L222.5,109.26 L223.0,109.77 L223.5,110.28 L224.0,110.80 L224.5,111.32 L225.0,111.85 L225.5,112.39 L226.0,112.93 L226.5,113.48 L227.0,114.04 L227.5,114.59 L228.0,115.14 L228.5,115.68 L229.0,116.22 L229.5,116.74 L230.0,117.26 L230.5,117.76 L231.0,118.24 L231.5,118.72 L232.0,119.18 L232.5,119.64 L233.0,120.10 L233.5,120.56 L234.0,121.02 L234.5,121.49 L235.0,121.97 L235.5,122.47 L236.0,122.98 L236.5,123.51 L237.0,124.04 L237.5,124.59 L238.0,125.15 L238.5,125.71 L239.0,126.26 L239.5,126.80 L240.0,127.33 L240.5,127.85 L241.0,128.36 L241.5,128.86 L242.0,129.34 L242.5,129.83 L243.0,130.32 L243.5,130.81 L244.0,131.30 L244.5,131.81 L245.0,132.32 L245.5,132.83 L246.0,133.36 L246.5,133.88 L247.0,134.40 L247.5,134.92 L248.0,135.44 L248.5,135.96 L249.0,136.47 L249.5,136.98 L250.0,137.48 L250.5,137.99 L251.0,138.49 L251.5,138.99 L252.0,139.49 L252.5,139.99 L253.0,140.49 L253.5,140.99 L254.0,141.49 L254.5,142.01 L255.0,142.53 L255.5,143.06 L256.0,143.62 L256.5,144.18 L257.0,144.77 L257.5,145.37 L258.0,145.99 L258.5,146.62 L259.0,147.26 L259.5,147.92 L260.0,148.58 L260.5,149.24 L261.0,149.90 L261.5,150.57 L262.0,151.22 L262.5,151.87 L263.0,152.51 L263.5,153.13 L264.0,153.74 L264.5,154.33 L265.0,154.89 L265.5,155.43 L266.0,155.96 L266.5,156.45 L267.0,156.93 L267.5,157.40 L268.0,157.85 L268.5,158.30 L269.0,158.75 L269.5,159.21 L270.0,159.67 L270.5,160.15 L271.0,160.63 L271.5,161.12 L272.0,161.61 L272.5,162.11 L273.0,162.60 L273.5,163.09 L274.0,163.57 L274.5,164.04 L275.0,164.50 L275.5,164.95 L276.0,165.40 L276.5,165.84 L277.0,166.28 L277.5,166.72 L278.0,167.16 L278.5,167.60 L279.0,168.04 L279.5,168.48 L280.0,168.93 L280.5,169.36 L281.0,169.80 L281.5,170.23 L282.0,170.67 L282.5,171.10 L283.0,171.52 L283.5,171.96 L284.0,172.39 L284.5,172.84 L285.0,173.29 L285.5,173.76 L286.0,174.24 L286.5,174.72 L287.0,175.22 L287.5,175.72 L288.0,176.22 L288.5,176.72 L289.0,177.23 L289.5,177.73 L290.0,178.23 L290.5,178.73 L291.0,179.23 L291.5,179.73 L292.0,180.23 L292.5,180.74 L293.0,181.24 L293.5,181.74 L294.0,182.24 L294.5,182.74 L295.0,183.24 L295.5,183.74 L296.0,184.24 L296.5,184.76 L297.0,185.29 L297.5,185.83 L298.0,186.40 L298.5,186.99 L299.0,187.60 L299.5,188.24 L300.0,188.89 L300.5,189.54 L301.0,190.19 L301.5,190.84 L302.0,191.47 L302.5,192.09 L303.0,192.69 L303.5,193.27 L304.0,193.82 L304.5,194.35 L305.0,194.86 L305.5,195.35 L306.0,195.81 L306.5,196.26 L307.0,196.69 L307.5,197.11 L308.0,197.51 L308.5,197.90 L309.0,198.27 L309.5,198.63 L310.0,198.98 L310.5,199.31 L311.0,199.64 L311.5,199.95 L312.0,200.25 L312.5,200.53 L313.0,200.81 L313.5,201.08 L314.0,201.33 L314.5,201.59 L315.0,201.83 L315.5,202.07 L316.0,202.31 L316.5,202.54 L317.0,202.77 L317.5,202.99 L318.0,203.21 L318.5,203.41 L319.0,203.61 L319.5,203.79 L320.0,203.96 L320.5,204.11 L321.0,204.26 L321.5,204.40 L322.0,204.54 L322.5,204.69 L323.0,204.86 L323.5,205.04 L324.0,205.25 L324.5,205.49 L325.0,205.75 L325.5,206.03 L326.0,206.32 L326.5,206.62 L327.0,206.92 L327.5,207.21 L328.0,207.50 L328.5,207.79 L329.0,208.07 L329.5,208.34 L330.0,208.62 L330.5,208.88 L331.0,209.15 L331.5,209.41 L332.0,209.67 L332.5,209.92 L333.0,210.17 L333.5,210.42 L334.0,210.66 L334.5,210.89 L335.0,211.12 L335.5,211.35 L336.0,211.57 L336.5,211.78 L337.0,211.99 L337.5,212.20 L338.0,212.40 L338.5,212.59 L339.0,212.78 L339.5,212.96 L340.0,213.13 L340.5,213.30 L341.0,213.47 L341.5,213.63 L342.0,213.79 L342.5,213.94 L343.0,214.09 L343.5,214.24 L344.0,214.39 L344.5,214.54 L345.0,214.69 L345.5,214.84 L346.0,215.00 L346.5,215.15 L347.0,215.30 L347.5,215.46 L348.0,215.61 L348.5,215.75 L349.0,215.90 L349.5,216.03 L350.0,216.17 L350.5,216.30 L351.0,216.42 L351.5,216.54 L352.0,216.66 L352.5,216.77 L353.0,216.88 L353.5,216.99 L354.0,217.09 L354.5,217.20 L355.0,217.30 L355.5,217.40 L356.0,217.49 L356.5,217.58 L357.0,217.66" stroke="#7a4a40"/>
<path d="M79.0,228.63 L79.5,228.25 L80.0,227.84 L80.5,227.39 L81.0,226.92 L81.5,226.44 L82.0,225.94 L82.5,225.44 L83.0,224.94 L83.5,224.44 L84.0,223.94 L84.5,223.44 L85.0,222.94 L85.5,222.44 L86.0,221.93 L86.5,221.41 L87.0,220.88 L87.5,220.34 L88.0,219.79 L88.5,219.24 L89.0,218.69 L89.5,218.13 L90.0,217.58 L90.5,217.03 L91.0,216.47 L91.5,215.91 L92.0,215.32 L92.5,214.72 L93.0,214.09 L93.5,213.44 L94.0,212.76 L94.5,212.04 L95.0,211.30 L95.5,210.53 L96.0,209.73 L96.5,208.90 L97.0,208.06 L97.5,207.19 L98.0,206.32 L98.5,205.45 L99.0,204.57 L99.5,203.69 L100.0,202.82 L100.5,201.95 L101.0,201.07 L101.5,200.18 L102.0,199.26 L102.5,198.30 L103.0,197.31 L103.5,196.29 L104.0,195.22 L104.5,194.14 L105.0,193.06 L105.5,192.00 L106.0,190.97 L106.5,189.98 L107.0,189.02 L107.5,188.09 L108.0,187.17 L108.5,186.23 L109.0,185.25 L109.5,184.23 L110.0,183.14 L110.5,182.00 L111.0,180.80 L111.5,179.55 L112.0,178.26 L112.5,176.96 L113.0,175.66 L113.5,174.37 L114.0,173.12 L114.5,171.93 L115.0,170.78 L115.5,169.68 L116.0,168.63 L116.5,167.60 L117.0,166.58 L117.5,165.58 L118.0,164.58 L118.5,163.58 L119.0,162.58 L119.5,161.58 L120.0,160.58 L120.5,159.58 L121.0,158.58 L121.5,157.58 L122.0,156.58 L122.5,155.59 L123.0,154.59 L123.5,153.60 L124.0,152.60 L124.5,151.60 L125.0,150.59 L125.5,149.57 L126.0,148.54 L126.5,147.48 L127.0,146.39 L127.5,145.29 L128.0,144.16 L128.5,143.02 L129.0,141.86 L129.5,140.69 L130.0,139.52 L130.5,138.35 L131.0,137.18 L131.5,136.00 L132.0,134.83 L132.5,133.65 L133.0,132.48 L133.5,131.31 L134.0,130.16 L134.5,129.03 L135.0,127.92 L135.5,126.86 L136.0,125.83 L136.5,124.85 L137.0,123.90 L137.5,122.99 L138.0,122.09 L138.5,121.20 L139.0,120.30 L139.5,119.39 L140.0,118.47 L140.5,117.52 L141.0,116.56 L141.5,115.58 L142.0,114.59 L142.5,113.59 L143.0,112.58 L143.5,111.58 L144.0,110.58 L144.5,109.57 L145.0,108.58 L145.5,107.58 L146.0,106.60 L146.5,105.61 L147.0,104.64 L147.5,103.67 L148.0,102.70 L148.5,101.74 L149.0,100.79 L149.5,99.85 L150.0,98.92 L150.5,98.01 L151.0,97.14 L151.5,96.29 L152.0,95.47 L152.5,94.70 L153.0,93.96 L153.5,93.26 L154.0,92.60 L154.5,91.98 L155.0,91.40 L155.5,90.86 L156.0,90.35 L156.5,89.87 L157.0,89.43 L157.5,89.02 L158.0,88.63 L158.5,88.27 L159.0,87.93 L159.5,87.61 L160.0,87.31 L160.5,87.03 L161.0,86.77 L161.5,86.52 L162.0,86.29 L162.5,86.07 L163.0,85.86 L163.5,85.66 L164.0,85.48 L164.5,85.31 L165.0,85.14 L165.5,84.99 L166.0,84.85 L166.5,84.72 L167.0,84.59 L167.5,84.47 L168.0,84.36 L168.5,84.26 L169.0,84.16 L169.5,84.07 L170.0,83.99 L170.5,83.91 L171.0,83.83 L171.5,83.76 L172.0,83.70 L172.5,83.63 L173.0,83.57 L173.5,83.52 L174.0,83.47 L174.5,83.42 L175.0,83.38 L175.5,83.33 L176.0,83.30 L176.5,83.26 L177.0,83.22 L177.5,83.19 L178.0,83.16 L178.5,83.14 L179.0,83.11 L179.5,83.09 L180.0,83.07 L180.5,83.05 L181.0,83.04 L181.5,83.03 L182.0,83.01 L182.5,83.00 L183.0,83.00 L183.5,83.00 L184.0,83.01 L184.5,83.04 L185.0,83.08 L185.5,83.15 L186.0,83.24 L186.5,83.36 L187.0,83.51 L187.5,83.68 L188.0,83.88 L188.5,84.09 L189.0,84.31 L189.5,84.55 L190.0,84.79 L190.5,85.04 L191.0,85.30 L191.5,85.57 L192.0,85.85 L192.5,86.14 L193.0,86.43 L193.5,86.74 L194.0,87.05 L194.5,87.36 L195.0,87.69 L195.5,88.02 L196.0,88.35 L196.5,88.69 L197.0,89.03 L197.5,89.38 L198.0,89.73 L198.5,90.09 L199.0,90.44 L199.5,90.80 L200.0,91.16 L200.5,91.51 L201.0,91.87 L201.5,92.22 L202.0,92.58 L202.5,92.94 L203.0,93.30 L203.5,93.67 L204.0,94.04 L204.5,94.42 L205.0,94.81 L205.5,95.20 L206.0,95.60 L206.5,96.01 L207.0,96.43 L207.5,96.85 L208.0,97.27 L208.5,97.69 L209.0,98.11 L209.5,98.53 L210.0,98.94 L210.5,99.35 L211.0,99.75 L211.5,100.15 L212.0,100.55 L212.5,100.95 L213.0,101.36 L213.5,101.76 L214.0,102.17 L214.5,102.58 L215.0,103.00 L215.5,103.42 L216.0,103.85 L216.5,104.29 L217.0,104.73 L217.5,105.18 L218.0,105.63 L218.5,106.09 L219.0,106.55 L219.5,107.02 L220.0,107.49 L220.5,107.97 L221.0,108.45 L221.5,108.94 L222.0,109.43 L222.5,109.93 L223.0,110.43 L223.5,110.94 L224.0,111.46 L224.5,111.98 L225.0,112.51 L225.5,113.05 L226.0,113.59 L226.5,114.14 L227.0,114.69 L227.5,115.24 L228.0,115.79 L228.5,116.33 L229.0,116.86 L229.5,117.38 L230.0,117.89 L230.5,118.39 L231.0,118.87 L231.5,119.34 L232.0,119.81 L232.5,120.26 L233.0,120.71 L233.5,121.17 L234.0,121.63 L234.5,122.09 L235.0,122.57 L235.5,123.06 L236.0,123.57 L236.5,124.09 L237.0,124.62 L237.5,125.17 L238.0,125.72 L238.5,126.27 L239.0,126.82 L239.5,127.36 L240.0,127.89 L240.5,128.40 L241.0,128.90 L241.5,129.40 L242.0,129.88 L242.5,130.36 L243.0,130.85 L243.5,131.33 L244.0,131.83 L244.5,132.33 L245.0,132.84 L245.5,133.35 L246.0,133.87 L246.5,134.39 L247.0,134.91 L247.5,135.43 L248.0,135.95 L248.5,136.46 L249.0,136.97 L249.5,137.48 L250.0,137.98 L250.5,138.48 L251.0,138.98 L251.5,139.47 L252.0,139.97 L252.5,140.46 L253.0,140.96 L253.5,141.46 L254.0,141.96 L254.5,142.47 L255.0,142.99 L255.5,143.52 L256.0,144.07 L256.5,144.63 L257.0,145.21 L257.5,145.81 L258.0,146.43 L258.5,147.06 L259.0,147.70 L259.5,148.35 L260.0,149.01 L260.5,149.67 L261.0,150.33 L261.5,150.99 L262.0,151.65 L262.5,152.29 L263.0,152.93 L263.5,153.55 L264.0,154.16 L264.5,154.74 L265.0,155.30 L265.5,155.84 L266.0,156.36 L266.5,156.86 L267.0,157.33 L267.5,157.80 L268.0,158.25 L268.5,158.69 L269.0,159.14 L269.5,159.59 L270.0,160.05 L270.5,160.52 L271.0,161.00 L271.5,161.49 L272.0,161.98 L272.5,162.48 L273.0,162.97 L273.5,163.45 L274.0,163.93 L274.5,164.39 L275.0,164.85 L275.5,165.30 L276.0,165.75 L276.5,166.18 L277.0,166.62 L277.5,167.06 L278.0,167.49 L278.5,167.93 L279.0,168.37 L279.5,168.80 L280.0,169.24 L280.5,169.67 L281.0,170.11 L281.5,170.54 L282.0,170.96 L282.5,171.39 L283.0,171.81 L283.5,172.24 L284.0,172.67 L284.5,173.11 L285.0,173.57 L285.5,174.03 L286.0,174.50 L286.5,174.99 L287.0,175.48 L287.5,175.98 L288.0,176.48 L288.5,176.98 L289.0,177.48 L289.5,177.99 L290.0,178.49 L290.5,178.99 L291.0,179.49 L291.5,179.99 L292.0,180.49 L292.5,180.99 L293.0,181.49 L293.5,181.99 L294.0,182.49 L294.5,182.99 L295.0,183.49 L295.5,183.99 L296.0,184.50 L296.5,185.01 L297.0,185.54 L297.5,186.09 L298.0,186.65 L298.5,187.25 L299.0,187.86 L299.5,188.49 L300.0,189.14 L300.5,189.79 L301.0,190.44 L301.5,191.09 L302.0,191.72 L302.5,192.34 L303.0,192.93 L303.5,193.51 L304.0,194.06 L304.5,194.59 L305.0,195.10 L305.5,195.58 L306.0,196.05 L306.5,196.49 L307.0,196.92 L307.5,197.33 L308.0,197.73 L308.5,198.11 L309.0,198.48 L309.5,198.84 L310.0,199.18 L310.5,199.52 L311.0,199.83 L311.5,200.14 L312.0,200.44 L312.5,200.72 L313.0,201.00 L313.5,201.26 L314.0,201.52 L314.5,201.77 L315.0,202.01 L315.5,202.25 L316.0,202.48 L316.5,202.71 L317.0,202.94 L317.5,203.16 L318.0,203.37 L318.5,203.58 L319.0,203.77 L319.5,203.95 L320.0,204.11 L320.5,204.27 L321.0,204.41 L321.5,204.55 L322.0,204.69 L322.5,204.83 L323.0,205.00 L323.5,205.18 L324.0,205.39 L324.5,205.63 L325.0,205.89 L325.5,206.17 L326.0,206.47 L326.5,206.77 L327.0,207.07 L327.5,207.37 L328.0,207.66 L328.5,207.94 L329.0,208.23 L329.5,208.50 L330.0,208.78 L330.5,209.04 L331.0,209.31 L331.5,209.57 L332.0,209.83 L332.5,210.08 L333.0,210.33 L333.5,210.57 L334.0,210.81 L334.5,211.04 L335.0,211.27 L335.5,211.49 L336.0,211.71 L336.5,211.92 L337.0,212.13 L337.5,212.33 L338.0,212.53 L338.5,212.72 L339.0,212.91 L339.5,213.09 L340.0,213.26 L340.5,213.43 L341.0,213.60 L341.5,213.76 L342.0,213.91 L342.5,214.06 L343.0,214.21 L343.5,214.36 L344.0,214.51 L344.5,214.66 L345.0,214.81 L345.5,214.96 L346.0,215.11 L346.5,215.26 L347.0,215.41 L347.5,215.56 L348.0,215.71 L348.5,215.86 L349.0,216.00 L349.5,216.14 L350.0,216.27 L350.5,216.40 L351.0,216.52 L351.5,216.64 L352.0,216.75 L352.5,216.86 L353.0,216.97 L353.5,217.08 L354.0,217.19 L354.5,217.29 L355.0,217.39 L355.5,217.49 L356.0,217.58 L356.5,217.67 L357.0,217.75" stroke="#8c8c00"/>
</g>
<g stroke="#000" stroke-width="2" fill="none">
<rect x="80" y="5" width="276" height="234"/>
</g>
<g stroke="#000" stroke-width="1.8">
<line x1="75.5" y1="18.35" x2="80" y2="18.35"/>
<line x1="75.5" y1="58.38" x2="80" y2="58.38"/>
<line x1="75.5" y1="98.41" x2="80" y2="98.41"/>
<line x1="75.5" y1="138.44" x2="80" y2="138.44"/>
<line x1="75.5" y1="178.47" x2="80" y2="178.47"/>
<line x1="75.5" y1="218.50" x2="80" y2="218.50"/>
<line x1="103.0" y1="239" x2="103.0" y2="243.6"/>
<line x1="149.2" y1="239" x2="149.2" y2="243.6"/>
<line x1="195.2" y1="239" x2="195.2" y2="243.6"/>
<line x1="241.4" y1="239" x2="241.4" y2="243.6"/>
<line x1="287.5" y1="239" x2="287.5" y2="243.6"/>
<line x1="333.6" y1="239" x2="333.6" y2="243.6"/>
</g>
<text x="72.4" y="23.85" class="tl" text-anchor="end">600000</text>
<text x="72.4" y="63.88" class="tl" text-anchor="end">500000</text>
<text x="72.4" y="103.91" class="tl" text-anchor="end">400000</text>
<text x="72.4" y="143.94" class="tl" text-anchor="end">300000</text>
<text x="72.4" y="183.97" class="tl" text-anchor="end">200000</text>
<text x="72.4" y="224.00" class="tl" text-anchor="end">100000</text>
<text x="103.0" y="259.3" class="tl" text-anchor="middle">400</text>
<text x="149.2" y="259.3" class="tl" text-anchor="middle">420</text>
<text x="195.2" y="259.3" class="tl" text-anchor="middle">440</text>
<text x="241.4" y="259.3" class="tl" text-anchor="middle">460</text>
<text x="287.5" y="259.3" class="tl" text-anchor="middle">480</text>
<text x="333.6" y="259.3" class="tl" text-anchor="middle">500</text>
<text x="96.9" y="37.1" class="serif" style="font-size:36px;font-style:italic;font-weight:bold">a</text>
<text transform="translate(15.8,163.2) rotate(-90)" style="font-size:17.6px" textLength="114" lengthAdjust="spacingAndGlyphs">PL- Intensity</text>
<text x="145.8" y="275.1" style="font-size:17.6px" textLength="130.6" lengthAdjust="spacingAndGlyphs">wavelength(nm)</text>
<text transform="translate(300,144.3) rotate(-90)" style="font-size:12.5px" textLength="134.8" lengthAdjust="spacingAndGlyphs">KA - concentration</text>
<text x="309.8" y="52.8" class="serif" style="font-size:16.4px;font-weight:normal"><tspan style="font-weight:bold">0</tspan>μM</text>
<line x1="325.8" y1="57" x2="327" y2="96" stroke="#000" stroke-width="1.6"/>
<path d="M323.6,93.5 L330.4,93.5 L327,105.7 Z" fill="#000"/>
<text x="305.4" y="119.8" style="font-size:12.3px">1200<tspan class="serif" style="font-weight:normal;font-size:13.6px">μM</tspan></text>

<g stroke="#000" stroke-width="1.8" fill="none">
<rect x="417" y="4.9" width="285.9" height="229.3"/>
</g>
<g stroke="#000" stroke-width="1.5">
<line x1="412.2" y1="215.3" x2="417" y2="215.3"/>
<line x1="412.2" y1="177.1" x2="417" y2="177.1"/>
<line x1="412.2" y1="138.8" x2="417" y2="138.8"/>
<line x1="412.2" y1="100.6" x2="417" y2="100.6"/>
<line x1="412.2" y1="62.3" x2="417" y2="62.3"/>
<line x1="412.2" y1="24.1" x2="417" y2="24.1"/>
<line x1="437.4" y1="234.5" x2="437.4" y2="238"/>
<line x1="478.0" y1="234.5" x2="478.0" y2="238"/>
<line x1="518.6" y1="234.5" x2="518.6" y2="238"/>
<line x1="559.1" y1="234.5" x2="559.1" y2="238"/>
<line x1="599.7" y1="234.5" x2="599.7" y2="238"/>
<line x1="640.3" y1="234.5" x2="640.3" y2="238"/>
<line x1="680.9" y1="234.5" x2="680.9" y2="238"/>
</g>
<text x="408.8" y="218.4" class="tr" text-anchor="end">1.00</text>
<text x="408.8" y="180.2" class="tr" text-anchor="end">1.01</text>
<text x="408.8" y="141.9" class="tr" text-anchor="end">1.02</text>
<text x="408.8" y="103.7" class="tr" text-anchor="end">1.03</text>
<text x="408.8" y="65.4" class="tr" text-anchor="end">1.04</text>
<text x="408.8" y="27.2" class="tr" text-anchor="end">1.05</text>
<text x="437.8" y="253.2" class="tr2" text-anchor="middle">0</text>
<text x="478.4" y="253.2" class="tr2" text-anchor="middle">200</text>
<text x="519.0" y="253.2" class="tr2" text-anchor="middle">400</text>
<text x="559.5" y="253.2" class="tr2" text-anchor="middle">600</text>
<text x="600.1" y="253.2" class="tr2" text-anchor="middle">800</text>
<text x="640.7" y="253.2" class="tr2" text-anchor="middle">1000</text>
<text x="681.3" y="253.2" class="tr2" text-anchor="middle">1200</text>
<line x1="437.3" y1="206.3" x2="437.3" y2="225.7" stroke="#e020e0" stroke-width="1.3"/>
<path d="M437.3,208.60000000000002 L438.8,210.8 L437.3,212.9 L435.8,210.8 Z M437.3,223.39999999999998 L438.8,221.2 L437.3,219.1 L435.8,221.2 Z" fill="#e020e0"/>
<g stroke="#333" stroke-width="1.4"><line x1="434.7" y1="208.3" x2="439.90000000000003" y2="208.3"/><line x1="434.7" y1="223.7" x2="439.90000000000003" y2="223.7"/></g>
<g stroke="#111" stroke-width="1.4" fill="none"><line x1="464.3" y1="187.5" x2="464.3" y2="202.3"/><line x1="461.7" y1="187.5" x2="466.90000000000003" y2="187.5"/><line x1="461.7" y1="202.3" x2="466.90000000000003" y2="202.3"/></g>
<g stroke="#111" stroke-width="1.4" fill="none"><line x1="490.9" y1="165.8" x2="490.9" y2="181.2"/><line x1="488.29999999999995" y1="165.8" x2="493.5" y2="165.8"/><line x1="488.29999999999995" y1="181.2" x2="493.5" y2="181.2"/></g>
<g stroke="#111" stroke-width="1.4" fill="none"><line x1="518.4" y1="144.45000000000002" x2="518.4" y2="160.15"/><line x1="515.8" y1="144.45000000000002" x2="521.0" y2="144.45000000000002"/><line x1="515.8" y1="160.15" x2="521.0" y2="160.15"/></g>
<g stroke="#111" stroke-width="1.4" fill="none"><line x1="545" y1="123.60000000000001" x2="545" y2="139.20000000000002"/><line x1="542.4" y1="123.60000000000001" x2="547.6" y2="123.60000000000001"/><line x1="542.4" y1="139.20000000000002" x2="547.6" y2="139.20000000000002"/></g>
<g stroke="#111" stroke-width="1.4" fill="none"><line x1="572.5" y1="102.6" x2="572.5" y2="118.4"/><line x1="569.9" y1="102.6" x2="575.1" y2="102.6"/><line x1="569.9" y1="118.4" x2="575.1" y2="118.4"/></g>
<g stroke="#111" stroke-width="1.4" fill="none"><line x1="599.1" y1="80.5" x2="599.1" y2="95.69999999999999"/><line x1="596.5" y1="80.5" x2="601.7" y2="80.5"/><line x1="596.5" y1="95.69999999999999" x2="601.7" y2="95.69999999999999"/></g>
<g stroke="#111" stroke-width="1.4" fill="none"><line x1="626.4" y1="59.49999999999999" x2="626.4" y2="74.69999999999999"/><line x1="623.8" y1="59.49999999999999" x2="629.0" y2="59.49999999999999"/><line x1="623.8" y1="74.69999999999999" x2="629.0" y2="74.69999999999999"/></g>
<g stroke="#111" stroke-width="1.4" fill="none"><line x1="653.6" y1="38.199999999999996" x2="653.6" y2="53.4"/><line x1="651.0" y1="38.199999999999996" x2="656.2" y2="38.199999999999996"/><line x1="651.0" y1="53.4" x2="656.2" y2="53.4"/></g>
<line x1="680.4" y1="14.650000000000002" x2="680.4" y2="34.550000000000004" stroke="#e020e0" stroke-width="1.3"/>
<path d="M680.4,16.950000000000003 L681.9,19.150000000000002 L680.4,21.25 L678.9,19.150000000000002 Z M680.4,32.25000000000001 L681.9,30.050000000000004 L680.4,27.950000000000003 L678.9,30.050000000000004 Z" fill="#e020e0"/>
<g stroke="#333" stroke-width="1.4"><line x1="677.8" y1="16.650000000000002" x2="683.0" y2="16.650000000000002"/><line x1="677.8" y1="32.550000000000004" x2="683.0" y2="32.550000000000004"/></g>
<rect x="435.0" y="213.7" width="4.6" height="4.6" fill="#111"/>
<rect x="462.0" y="192.6" width="4.6" height="4.6" fill="#111"/>
<rect x="488.59999999999997" y="171.2" width="4.6" height="4.6" fill="#111"/>
<rect x="516.1" y="150.0" width="4.6" height="4.6" fill="#111"/>
<rect x="542.7" y="129.1" width="4.6" height="4.6" fill="#111"/>
<rect x="570.2" y="108.2" width="4.6" height="4.6" fill="#111"/>
<rect x="596.8000000000001" y="85.8" width="4.6" height="4.6" fill="#111"/>
<rect x="624.1" y="64.8" width="4.6" height="4.6" fill="#111"/>
<rect x="651.3000000000001" y="43.5" width="4.6" height="4.6" fill="#111"/>
<rect x="678.1" y="22.3" width="4.6" height="4.6" fill="#111"/>
<line x1="437.3" y1="216.0" x2="680.4" y2="24.6" stroke="#e01515" stroke-width="2"/>
<text x="426.6" y="37.2" class="serif" style="font-size:34px;font-style:italic;font-weight:bold">b</text>
<text x="506.9" y="44.0" style="font-size:17.5px" textLength="13.6" lengthAdjust="spacingAndGlyphs">R</text>
<text x="521.2" y="35.8" style="font-size:14.8px" textLength="6.9" lengthAdjust="spacingAndGlyphs">2</text>
<text x="527.6" y="44.0" style="font-size:17.5px" textLength="66.5" lengthAdjust="spacingAndGlyphs">= 0.999</text>
<text transform="translate(375.3,140.6) rotate(-90)" style="font-size:17.5px" textLength="41.7" lengthAdjust="spacingAndGlyphs">F<tspan dy="4" style="font-size:11px">0</tspan><tspan dy="-4">\ F</tspan></text>
<text x="457" y="272.2" style="font-size:16.8px" textLength="198.8" lengthAdjust="spacingAndGlyphs">KA - Concentration <tspan class="serif">(μ</tspan>M)</text>
</svg></div>
</body></html>
